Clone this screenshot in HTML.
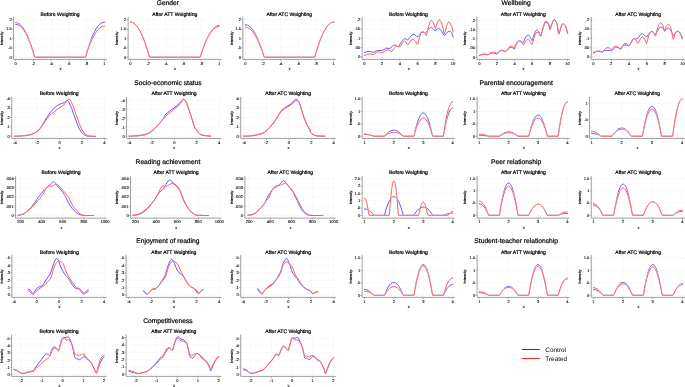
<!DOCTYPE html>
<html><head><meta charset="utf-8"><style>
html,body{margin:0;padding:0;background:#fff;width:685px;height:387px;overflow:hidden}
svg{display:block;will-change:transform}
text{font-family:"Liberation Sans",sans-serif;fill:#1a1a1a;text-rendering:geometricPrecision}
.g{stroke:#ebebeb;stroke-width:0.5;stroke-dasharray:1.4 0.9}
.ax{fill:none;stroke:#959595;stroke-width:0.9}
.tk{stroke:#959595;stroke-width:0.7}
.tl{font-size:4.1px;fill:#000;stroke:#000;stroke-width:0.1}
.xl{font-size:4.0px;fill:#000;stroke:#000;stroke-width:0.08}
.yl{font-size:3.7px;fill:#000;stroke:#000;stroke-width:0.15}
.st{font-size:5.1px;fill:#000;stroke:#000;stroke-width:0.22}
.gt{font-size:6.7px;fill:#000;stroke:#000;stroke-width:0.2}
.lg{font-size:6.4px;fill:#000}
.cv{stroke-width:0.8;stroke-linejoin:round;stroke-linecap:round}
.cvm{stroke-linejoin:round;stroke-linecap:round}
</style></head><body>
<svg width="685" height="387" viewBox="0 0 685 387">
<rect width="685" height="387" fill="#fff"/>
<line x1="14.18" y1="57.20" x2="106.60" y2="57.20" class="g"/>
<line x1="14.18" y1="47.83" x2="106.60" y2="47.83" class="g"/>
<line x1="14.18" y1="38.46" x2="106.60" y2="38.46" class="g"/>
<line x1="14.18" y1="29.09" x2="106.60" y2="29.09" class="g"/>
<line x1="14.18" y1="19.72" x2="106.60" y2="19.72" class="g"/>
<line x1="15.72" y1="16.90" x2="15.72" y2="58.80" class="g"/>
<line x1="33.46" y1="16.90" x2="33.46" y2="58.80" class="g"/>
<line x1="51.20" y1="16.90" x2="51.20" y2="58.80" class="g"/>
<line x1="68.94" y1="16.90" x2="68.94" y2="58.80" class="g"/>
<line x1="86.68" y1="16.90" x2="86.68" y2="58.80" class="g"/>
<line x1="104.42" y1="16.90" x2="104.42" y2="58.80" class="g"/>
<path d="M13.58,16.90 L13.58,59.40 L106.60,59.40" class="ax"/>
<line x1="11.98" y1="57.20" x2="13.58" y2="57.20" class="tk"/>
<text x="11.68" y="58.60" class="tl" text-anchor="end">0</text>
<line x1="11.98" y1="47.83" x2="13.58" y2="47.83" class="tk"/>
<text x="11.68" y="49.23" class="tl" text-anchor="end">.5</text>
<line x1="11.98" y1="38.46" x2="13.58" y2="38.46" class="tk"/>
<text x="11.68" y="39.86" class="tl" text-anchor="end">1</text>
<line x1="11.98" y1="29.09" x2="13.58" y2="29.09" class="tk"/>
<text x="11.68" y="30.49" class="tl" text-anchor="end">1.5</text>
<line x1="11.98" y1="19.72" x2="13.58" y2="19.72" class="tk"/>
<text x="11.68" y="21.12" class="tl" text-anchor="end">2</text>
<line x1="15.72" y1="59.40" x2="15.72" y2="61.00" class="tk"/>
<text x="15.72" y="64.50" class="tl" text-anchor="middle">0</text>
<line x1="33.46" y1="59.40" x2="33.46" y2="61.00" class="tk"/>
<text x="33.46" y="64.50" class="tl" text-anchor="middle">.2</text>
<line x1="51.20" y1="59.40" x2="51.20" y2="61.00" class="tk"/>
<text x="51.20" y="64.50" class="tl" text-anchor="middle">.4</text>
<line x1="68.94" y1="59.40" x2="68.94" y2="61.00" class="tk"/>
<text x="68.94" y="64.50" class="tl" text-anchor="middle">.6</text>
<line x1="86.68" y1="59.40" x2="86.68" y2="61.00" class="tk"/>
<text x="86.68" y="64.50" class="tl" text-anchor="middle">.8</text>
<line x1="104.42" y1="59.40" x2="104.42" y2="61.00" class="tk"/>
<text x="104.42" y="64.50" class="tl" text-anchor="middle">1</text>
<text x="60.39" y="69.90" class="xl" text-anchor="middle">x</text>
<text transform="translate(3.10,38.50) rotate(-90)" x="0" y="0" class="yl" text-anchor="middle">Intensity</text>
<text x="60.09" y="15.90" class="st" text-anchor="middle">Before Weighting</text>
<mask id="m1" maskUnits="userSpaceOnUse" x="0" y="0" width="685" height="387"><rect x="0" y="0" width="685" height="387" fill="#fff"/><path d="M15.7,22.6 L16.9,22.7 L18.1,23.1 L19.3,23.8 L20.5,24.8 L21.6,26.0 L22.8,27.4 L24.0,29.2 L25.2,31.2 L26.4,33.5 L27.5,36.0 L29.3,40.4 L30.5,43.6 L31.7,47.1 L32.9,50.8 L34.6,57.0 L35.2,57.2 L84.9,57.2 L85.5,57.0 L87.9,49.8 L89.0,46.5 L90.2,43.5 L91.4,40.8 L92.6,38.2 L93.8,36.0 L95.0,33.9 L96.1,32.1 L97.3,30.5 L98.5,29.2 L99.7,28.1 L100.9,27.3 L102.1,26.7 L103.2,26.3 L104.4,26.2" fill="none" stroke="#000" class="cvm" stroke-width="1.3"/></mask>
<path d="M15.7,24.3 L16.9,24.5 L18.1,24.8 L19.3,25.5 L20.5,26.4 L21.6,27.5 L22.8,28.9 L24.0,30.6 L25.2,32.5 L26.4,34.7 L27.5,37.1 L28.7,39.8 L29.9,42.7 L31.1,45.9 L32.3,49.3 L34.6,57.0 L35.2,57.2 L84.9,57.2 L85.5,57.0 L87.9,48.8 L89.0,45.2 L90.8,40.2 L92.6,35.8 L93.8,33.2 L95.0,30.9 L96.1,28.8 L97.3,27.1 L98.5,25.6 L99.7,24.3 L100.9,23.4 L102.1,22.7 L103.2,22.3 L104.4,22.2" fill="none" stroke="#3232ff" class="cv" mask="url(#m1)"/>
<path d="M15.7,22.6 L16.9,22.7 L18.1,23.1 L19.3,23.8 L20.5,24.8 L21.6,26.0 L22.8,27.4 L24.0,29.2 L25.2,31.2 L26.4,33.5 L27.5,36.0 L29.3,40.4 L30.5,43.6 L31.7,47.1 L32.9,50.8 L34.6,57.0 L35.2,57.2 L84.9,57.2 L85.5,57.0 L87.9,49.8 L89.0,46.5 L90.2,43.5 L91.4,40.8 L92.6,38.2 L93.8,36.0 L95.0,33.9 L96.1,32.1 L97.3,30.5 L98.5,29.2 L99.7,28.1 L100.9,27.3 L102.1,26.7 L103.2,26.3 L104.4,26.2" fill="none" stroke="#ff3232" class="cv"/>
<line x1="128.75" y1="57.20" x2="221.50" y2="57.20" class="g"/>
<line x1="128.75" y1="47.83" x2="221.50" y2="47.83" class="g"/>
<line x1="128.75" y1="38.46" x2="221.50" y2="38.46" class="g"/>
<line x1="128.75" y1="29.09" x2="221.50" y2="29.09" class="g"/>
<line x1="128.75" y1="19.72" x2="221.50" y2="19.72" class="g"/>
<line x1="130.44" y1="16.90" x2="130.44" y2="58.80" class="g"/>
<line x1="148.18" y1="16.90" x2="148.18" y2="58.80" class="g"/>
<line x1="165.92" y1="16.90" x2="165.92" y2="58.80" class="g"/>
<line x1="183.66" y1="16.90" x2="183.66" y2="58.80" class="g"/>
<line x1="201.39" y1="16.90" x2="201.39" y2="58.80" class="g"/>
<line x1="219.13" y1="16.90" x2="219.13" y2="58.80" class="g"/>
<path d="M128.15,16.90 L128.15,59.40 L221.50,59.40" class="ax"/>
<line x1="126.55" y1="57.20" x2="128.15" y2="57.20" class="tk"/>
<text x="126.25" y="58.60" class="tl" text-anchor="end">0</text>
<line x1="126.55" y1="47.83" x2="128.15" y2="47.83" class="tk"/>
<text x="126.25" y="49.23" class="tl" text-anchor="end">.5</text>
<line x1="126.55" y1="38.46" x2="128.15" y2="38.46" class="tk"/>
<text x="126.25" y="39.86" class="tl" text-anchor="end">1</text>
<line x1="126.55" y1="29.09" x2="128.15" y2="29.09" class="tk"/>
<text x="126.25" y="30.49" class="tl" text-anchor="end">1.5</text>
<line x1="126.55" y1="19.72" x2="128.15" y2="19.72" class="tk"/>
<text x="126.25" y="21.12" class="tl" text-anchor="end">2</text>
<line x1="130.44" y1="59.40" x2="130.44" y2="61.00" class="tk"/>
<text x="130.44" y="64.50" class="tl" text-anchor="middle">0</text>
<line x1="148.18" y1="59.40" x2="148.18" y2="61.00" class="tk"/>
<text x="148.18" y="64.50" class="tl" text-anchor="middle">.2</text>
<line x1="165.92" y1="59.40" x2="165.92" y2="61.00" class="tk"/>
<text x="165.92" y="64.50" class="tl" text-anchor="middle">.4</text>
<line x1="183.66" y1="59.40" x2="183.66" y2="61.00" class="tk"/>
<text x="183.66" y="64.50" class="tl" text-anchor="middle">.6</text>
<line x1="201.39" y1="59.40" x2="201.39" y2="61.00" class="tk"/>
<text x="201.39" y="64.50" class="tl" text-anchor="middle">.8</text>
<line x1="219.13" y1="59.40" x2="219.13" y2="61.00" class="tk"/>
<text x="219.13" y="64.50" class="tl" text-anchor="middle">1</text>
<text x="175.12" y="69.90" class="xl" text-anchor="middle">x</text>
<text transform="translate(117.60,38.50) rotate(-90)" x="0" y="0" class="yl" text-anchor="middle">Intensity</text>
<text x="174.82" y="15.90" class="st" text-anchor="middle">After ATT Weighting</text>
<mask id="m2" maskUnits="userSpaceOnUse" x="0" y="0" width="685" height="387"><rect x="0" y="0" width="685" height="387" fill="#fff"/><path d="M130.4,22.2 L131.6,22.3 L132.8,22.7 L134.0,23.4 L135.2,24.3 L136.3,25.6 L137.5,27.1 L138.7,28.8 L139.9,30.9 L141.1,33.2 L142.3,35.8 L144.0,40.2 L145.2,43.4 L146.4,47.0 L147.6,50.8 L149.4,57.0 L149.9,57.2 L199.6,57.2 L200.2,57.0 L202.6,49.9 L203.8,46.7 L204.9,43.7 L206.1,41.0 L207.3,38.5 L208.5,36.3 L209.7,34.2 L210.9,32.5 L212.0,30.9 L213.2,29.6 L214.4,28.6 L215.6,27.7 L216.8,27.1 L218.0,26.8 L219.1,26.7" fill="none" stroke="#000" class="cvm" stroke-width="1.3"/></mask>
<path d="M130.4,22.2 L131.6,22.3 L132.8,22.7 L134.0,23.4 L135.2,24.3 L136.3,25.6 L137.5,27.1 L138.7,28.8 L139.9,30.9 L141.1,33.2 L142.3,35.8 L144.0,40.2 L145.2,43.4 L146.4,47.0 L147.6,50.8 L149.4,57.0 L149.9,57.2 L199.6,57.2 L200.2,57.0 L202.6,49.6 L203.8,46.3 L204.9,43.2 L206.1,40.4 L207.3,37.8 L208.5,35.5 L209.7,33.4 L210.9,31.6 L212.0,30.0 L213.2,28.6 L214.4,27.5 L215.6,26.6 L216.8,26.0 L218.0,25.7 L219.1,25.5" fill="none" stroke="#3232ff" class="cv" mask="url(#m2)"/>
<path d="M130.4,22.2 L131.6,22.3 L132.8,22.7 L134.0,23.4 L135.2,24.3 L136.3,25.6 L137.5,27.1 L138.7,28.8 L139.9,30.9 L141.1,33.2 L142.3,35.8 L144.0,40.2 L145.2,43.4 L146.4,47.0 L147.6,50.8 L149.4,57.0 L149.9,57.2 L199.6,57.2 L200.2,57.0 L202.6,49.9 L203.8,46.7 L204.9,43.7 L206.1,41.0 L207.3,38.5 L208.5,36.3 L209.7,34.2 L210.9,32.5 L212.0,30.9 L213.2,29.6 L214.4,28.6 L215.6,27.7 L216.8,27.1 L218.0,26.8 L219.1,26.7" fill="none" stroke="#ff3232" class="cv"/>
<line x1="243.46" y1="57.20" x2="335.70" y2="57.20" class="g"/>
<line x1="243.46" y1="47.83" x2="335.70" y2="47.83" class="g"/>
<line x1="243.46" y1="38.46" x2="335.70" y2="38.46" class="g"/>
<line x1="243.46" y1="29.09" x2="335.70" y2="29.09" class="g"/>
<line x1="243.46" y1="19.72" x2="335.70" y2="19.72" class="g"/>
<line x1="245.29" y1="16.90" x2="245.29" y2="58.80" class="g"/>
<line x1="262.98" y1="16.90" x2="262.98" y2="58.80" class="g"/>
<line x1="280.66" y1="16.90" x2="280.66" y2="58.80" class="g"/>
<line x1="298.34" y1="16.90" x2="298.34" y2="58.80" class="g"/>
<line x1="316.02" y1="16.90" x2="316.02" y2="58.80" class="g"/>
<line x1="333.71" y1="16.90" x2="333.71" y2="58.80" class="g"/>
<path d="M242.86,16.90 L242.86,59.40 L335.70,59.40" class="ax"/>
<line x1="241.26" y1="57.20" x2="242.86" y2="57.20" class="tk"/>
<text x="240.96" y="58.60" class="tl" text-anchor="end">0</text>
<line x1="241.26" y1="47.83" x2="242.86" y2="47.83" class="tk"/>
<text x="240.96" y="49.23" class="tl" text-anchor="end">.5</text>
<line x1="241.26" y1="38.46" x2="242.86" y2="38.46" class="tk"/>
<text x="240.96" y="39.86" class="tl" text-anchor="end">1</text>
<line x1="241.26" y1="29.09" x2="242.86" y2="29.09" class="tk"/>
<text x="240.96" y="30.49" class="tl" text-anchor="end">1.5</text>
<line x1="241.26" y1="19.72" x2="242.86" y2="19.72" class="tk"/>
<text x="240.96" y="21.12" class="tl" text-anchor="end">2</text>
<line x1="245.29" y1="59.40" x2="245.29" y2="61.00" class="tk"/>
<text x="245.29" y="64.50" class="tl" text-anchor="middle">0</text>
<line x1="262.98" y1="59.40" x2="262.98" y2="61.00" class="tk"/>
<text x="262.98" y="64.50" class="tl" text-anchor="middle">.2</text>
<line x1="280.66" y1="59.40" x2="280.66" y2="61.00" class="tk"/>
<text x="280.66" y="64.50" class="tl" text-anchor="middle">.4</text>
<line x1="298.34" y1="59.40" x2="298.34" y2="61.00" class="tk"/>
<text x="298.34" y="64.50" class="tl" text-anchor="middle">.6</text>
<line x1="316.02" y1="59.40" x2="316.02" y2="61.00" class="tk"/>
<text x="316.02" y="64.50" class="tl" text-anchor="middle">.8</text>
<line x1="333.71" y1="59.40" x2="333.71" y2="61.00" class="tk"/>
<text x="333.71" y="64.50" class="tl" text-anchor="middle">1</text>
<text x="289.58" y="69.90" class="xl" text-anchor="middle">x</text>
<text transform="translate(232.50,38.50) rotate(-90)" x="0" y="0" class="yl" text-anchor="middle">Intensity</text>
<text x="289.28" y="15.90" class="st" text-anchor="middle">After ATC Weighting</text>
<mask id="m3" maskUnits="userSpaceOnUse" x="0" y="0" width="685" height="387"><rect x="0" y="0" width="685" height="387" fill="#fff"/><path d="M245.3,27.2 L246.5,27.3 L247.7,27.7 L248.8,28.3 L250.0,29.1 L251.2,30.1 L252.4,31.4 L253.5,32.9 L254.7,34.7 L255.9,36.6 L257.1,38.9 L258.3,41.3 L259.4,44.0 L260.6,46.9 L261.8,50.0 L264.2,57.0 L264.7,57.2 L314.3,57.2 L314.8,57.0 L316.6,50.8 L317.8,47.0 L319.0,43.4 L320.1,40.2 L321.3,37.2 L322.5,34.4 L324.3,30.9 L325.5,28.8 L326.6,27.1 L327.8,25.6 L329.0,24.3 L330.2,23.4 L331.3,22.7 L332.5,22.3 L333.7,22.2" fill="none" stroke="#000" class="cvm" stroke-width="1.3"/></mask>
<path d="M245.3,24.8 L246.5,24.9 L247.7,25.3 L248.8,25.9 L250.0,26.8 L251.2,27.9 L252.4,29.3 L253.5,30.9 L254.7,32.8 L255.9,35.0 L257.1,37.4 L258.3,40.0 L259.4,42.9 L260.6,46.1 L261.8,49.5 L264.2,57.0 L264.7,57.2 L314.3,57.2 L314.8,57.0 L316.6,50.8 L317.8,47.0 L319.0,43.4 L320.1,40.2 L321.3,37.2 L322.5,34.4 L324.3,30.9 L325.5,28.8 L326.6,27.1 L327.8,25.6 L329.0,24.3 L330.2,23.4 L331.3,22.7 L332.5,22.3 L333.7,22.2" fill="none" stroke="#3232ff" class="cv" mask="url(#m3)"/>
<path d="M245.3,27.2 L246.5,27.3 L247.7,27.7 L248.8,28.3 L250.0,29.1 L251.2,30.1 L252.4,31.4 L253.5,32.9 L254.7,34.7 L255.9,36.6 L257.1,38.9 L258.3,41.3 L259.4,44.0 L260.6,46.9 L261.8,50.0 L264.2,57.0 L264.7,57.2 L314.3,57.2 L314.8,57.0 L316.6,50.8 L317.8,47.0 L319.0,43.4 L320.1,40.2 L321.3,37.2 L322.5,34.4 L324.3,30.9 L325.5,28.8 L326.6,27.1 L327.8,25.6 L329.0,24.3 L330.2,23.4 L331.3,22.7 L332.5,22.3 L333.7,22.2" fill="none" stroke="#ff3232" class="cv"/>
<line x1="362.75" y1="56.92" x2="454.70" y2="56.92" class="g"/>
<line x1="362.75" y1="47.62" x2="454.70" y2="47.62" class="g"/>
<line x1="362.75" y1="38.32" x2="454.70" y2="38.32" class="g"/>
<line x1="362.75" y1="29.02" x2="454.70" y2="29.02" class="g"/>
<line x1="362.75" y1="19.72" x2="454.70" y2="19.72" class="g"/>
<line x1="364.44" y1="16.90" x2="364.44" y2="58.80" class="g"/>
<line x1="382.15" y1="16.90" x2="382.15" y2="58.80" class="g"/>
<line x1="399.86" y1="16.90" x2="399.86" y2="58.80" class="g"/>
<line x1="417.57" y1="16.90" x2="417.57" y2="58.80" class="g"/>
<line x1="435.28" y1="16.90" x2="435.28" y2="58.80" class="g"/>
<line x1="452.99" y1="16.90" x2="452.99" y2="58.80" class="g"/>
<path d="M362.15,16.90 L362.15,59.40 L454.70,59.40" class="ax"/>
<line x1="360.55" y1="56.92" x2="362.15" y2="56.92" class="tk"/>
<text x="360.25" y="58.32" class="tl" text-anchor="end">0</text>
<line x1="360.55" y1="47.62" x2="362.15" y2="47.62" class="tk"/>
<text x="360.25" y="49.02" class="tl" text-anchor="end">.05</text>
<line x1="360.55" y1="38.32" x2="362.15" y2="38.32" class="tk"/>
<text x="360.25" y="39.72" class="tl" text-anchor="end">.1</text>
<line x1="360.55" y1="29.02" x2="362.15" y2="29.02" class="tk"/>
<text x="360.25" y="30.42" class="tl" text-anchor="end">.15</text>
<line x1="360.55" y1="19.72" x2="362.15" y2="19.72" class="tk"/>
<text x="360.25" y="21.12" class="tl" text-anchor="end">.2</text>
<line x1="364.44" y1="59.40" x2="364.44" y2="61.00" class="tk"/>
<text x="364.44" y="64.50" class="tl" text-anchor="middle">0</text>
<line x1="382.15" y1="59.40" x2="382.15" y2="61.00" class="tk"/>
<text x="382.15" y="64.50" class="tl" text-anchor="middle">2</text>
<line x1="399.86" y1="59.40" x2="399.86" y2="61.00" class="tk"/>
<text x="399.86" y="64.50" class="tl" text-anchor="middle">4</text>
<line x1="417.57" y1="59.40" x2="417.57" y2="61.00" class="tk"/>
<text x="417.57" y="64.50" class="tl" text-anchor="middle">6</text>
<line x1="435.28" y1="59.40" x2="435.28" y2="61.00" class="tk"/>
<text x="435.28" y="64.50" class="tl" text-anchor="middle">8</text>
<line x1="452.99" y1="59.40" x2="452.99" y2="61.00" class="tk"/>
<text x="452.99" y="64.50" class="tl" text-anchor="middle">10</text>
<text x="408.72" y="69.90" class="xl" text-anchor="middle">x</text>
<text transform="translate(351.90,38.50) rotate(-90)" x="0" y="0" class="yl" text-anchor="middle">Intensity</text>
<text x="408.42" y="15.90" class="st" text-anchor="middle">Before Weighting</text>
<mask id="m4" maskUnits="userSpaceOnUse" x="0" y="0" width="685" height="387"><rect x="0" y="0" width="685" height="387" fill="#fff"/><path d="M364.4,55.5 C365.0,55.3 366.6,54.6 367.6,54.3 C368.6,54.1 369.5,53.7 370.4,53.8 C371.4,53.8 372.4,54.7 373.3,54.5 C374.3,54.3 375.2,53.1 376.2,52.6 C377.1,52.2 378.1,51.9 379.0,51.9 C380.0,52.0 380.9,53.1 381.9,52.9 C382.8,52.7 383.8,51.4 384.8,50.9 C385.7,50.4 386.7,49.8 387.6,49.8 C388.6,49.8 389.8,50.6 390.5,50.9 C391.2,51.2 391.3,51.9 391.9,51.5 C392.5,51.1 393.3,49.2 394.1,48.3 C394.8,47.5 395.4,46.4 396.2,46.2 C397.0,46.0 398.3,46.9 399.1,46.9 C399.8,46.9 399.9,46.9 400.5,46.2 C401.1,45.5 401.9,43.4 402.6,42.6 C403.3,41.8 403.9,40.8 404.8,41.2 C405.6,41.5 406.9,44.4 407.6,44.8 C408.4,45.1 408.5,44.1 409.1,43.3 C409.7,42.5 410.5,40.7 411.2,40.0 C411.9,39.4 412.6,39.3 413.4,39.5 C414.1,39.7 414.8,40.4 415.5,41.2 C416.2,42.0 417.1,44.7 417.7,44.3 C418.3,44.0 418.5,41.0 419.1,39.0 C419.7,37.1 420.5,33.8 421.2,32.6 C421.9,31.4 422.7,31.6 423.4,31.9 C424.1,32.1 425.0,33.4 425.5,34.0 C426.0,34.6 426.2,36.1 426.5,35.5 C426.9,34.9 427.1,32.6 427.7,30.5 C428.2,28.3 429.2,24.3 429.8,22.6 C430.4,20.9 430.6,20.4 431.2,20.4 C431.8,20.4 432.7,21.3 433.4,22.6 C434.1,23.9 434.9,28.2 435.5,28.3 C436.1,28.4 436.4,24.7 437.0,23.3 C437.6,21.9 438.4,19.8 439.1,19.7 C439.8,19.6 440.5,20.9 441.3,22.6 C442.0,24.3 442.9,27.8 443.4,29.7 C443.9,31.6 444.1,34.0 444.4,34.0 C444.8,34.0 445.0,31.5 445.6,29.7 C446.1,27.9 447.1,24.5 447.7,23.3 C448.3,22.1 448.7,22.2 449.1,22.3 C449.6,22.4 450.1,23.1 450.6,24.0 C451.0,24.9 451.6,26.3 452.0,27.6 C452.4,28.9 452.8,31.2 453.0,31.9" fill="none" stroke="#000" class="cvm" stroke-width="0.9"/></mask>
<path d="M364.4,52.6 C365.0,52.4 366.6,51.7 367.6,51.5 C368.6,51.3 369.5,51.3 370.4,51.5 C371.4,51.6 372.4,52.4 373.3,52.3 C374.3,52.2 375.2,51.2 376.2,50.9 C377.1,50.6 378.1,50.6 379.0,50.5 C380.0,50.4 380.9,50.7 381.9,50.5 C382.8,50.2 383.9,49.5 384.8,49.1 C385.6,48.6 386.2,48.1 386.9,48.0 C387.6,48.0 388.3,48.8 389.0,48.6 C389.8,48.5 390.4,47.8 391.2,47.2 C392.0,46.6 393.2,45.5 394.1,45.2 C394.9,44.9 395.5,45.2 396.2,45.5 C396.9,45.7 397.6,47.0 398.3,46.6 C399.1,46.3 399.8,44.4 400.5,43.3 C401.2,42.3 401.9,41.3 402.6,40.5 C403.3,39.7 403.9,38.7 404.8,38.6 C405.6,38.5 406.8,40.2 407.6,40.0 C408.5,39.9 409.1,38.4 409.8,37.6 C410.5,36.8 411.2,35.7 411.9,35.2 C412.6,34.6 413.4,34.1 414.1,34.3 C414.8,34.5 415.6,35.7 416.2,36.2 C416.8,36.6 417.2,37.0 417.7,36.9 C418.1,36.8 418.5,36.2 419.1,35.5 C419.7,34.7 420.5,33.1 421.2,32.6 C421.9,32.1 422.7,32.2 423.4,32.3 C424.1,32.4 424.8,33.6 425.5,33.3 C426.2,33.0 426.8,31.4 427.7,30.5 C428.5,29.5 429.7,27.9 430.5,27.6 C431.4,27.2 432.0,27.8 432.7,28.3 C433.4,28.8 434.1,30.2 434.8,30.5 C435.5,30.7 436.4,30.1 437.0,29.7 C437.6,29.4 437.8,28.3 438.4,28.3 C439.0,28.3 439.7,28.8 440.5,29.7 C441.4,30.7 442.7,33.1 443.4,34.0 C444.1,35.0 444.2,35.7 444.8,35.5 C445.4,35.2 446.3,33.3 447.0,32.6 C447.7,31.9 448.4,31.2 449.1,31.2 C449.8,31.1 450.6,31.4 451.3,32.3 C451.9,33.3 452.7,36.1 453.0,36.9" fill="none" stroke="#3232ff" class="cv" mask="url(#m4)"/>
<path d="M364.4,55.5 C365.0,55.3 366.6,54.6 367.6,54.3 C368.6,54.1 369.5,53.7 370.4,53.8 C371.4,53.8 372.4,54.7 373.3,54.5 C374.3,54.3 375.2,53.1 376.2,52.6 C377.1,52.2 378.1,51.9 379.0,51.9 C380.0,52.0 380.9,53.1 381.9,52.9 C382.8,52.7 383.8,51.4 384.8,50.9 C385.7,50.4 386.7,49.8 387.6,49.8 C388.6,49.8 389.8,50.6 390.5,50.9 C391.2,51.2 391.3,51.9 391.9,51.5 C392.5,51.1 393.3,49.2 394.1,48.3 C394.8,47.5 395.4,46.4 396.2,46.2 C397.0,46.0 398.3,46.9 399.1,46.9 C399.8,46.9 399.9,46.9 400.5,46.2 C401.1,45.5 401.9,43.4 402.6,42.6 C403.3,41.8 403.9,40.8 404.8,41.2 C405.6,41.5 406.9,44.4 407.6,44.8 C408.4,45.1 408.5,44.1 409.1,43.3 C409.7,42.5 410.5,40.7 411.2,40.0 C411.9,39.4 412.6,39.3 413.4,39.5 C414.1,39.7 414.8,40.4 415.5,41.2 C416.2,42.0 417.1,44.7 417.7,44.3 C418.3,44.0 418.5,41.0 419.1,39.0 C419.7,37.1 420.5,33.8 421.2,32.6 C421.9,31.4 422.7,31.6 423.4,31.9 C424.1,32.1 425.0,33.4 425.5,34.0 C426.0,34.6 426.2,36.1 426.5,35.5 C426.9,34.9 427.1,32.6 427.7,30.5 C428.2,28.3 429.2,24.3 429.8,22.6 C430.4,20.9 430.6,20.4 431.2,20.4 C431.8,20.4 432.7,21.3 433.4,22.6 C434.1,23.9 434.9,28.2 435.5,28.3 C436.1,28.4 436.4,24.7 437.0,23.3 C437.6,21.9 438.4,19.8 439.1,19.7 C439.8,19.6 440.5,20.9 441.3,22.6 C442.0,24.3 442.9,27.8 443.4,29.7 C443.9,31.6 444.1,34.0 444.4,34.0 C444.8,34.0 445.0,31.5 445.6,29.7 C446.1,27.9 447.1,24.5 447.7,23.3 C448.3,22.1 448.7,22.2 449.1,22.3 C449.6,22.4 450.1,23.1 450.6,24.0 C451.0,24.9 451.6,26.3 452.0,27.6 C452.4,28.9 452.8,31.2 453.0,31.9" fill="none" stroke="#ff3232" class="cv"/>
<line x1="477.46" y1="57.20" x2="569.70" y2="57.20" class="g"/>
<line x1="477.46" y1="47.94" x2="569.70" y2="47.94" class="g"/>
<line x1="477.46" y1="38.68" x2="569.70" y2="38.68" class="g"/>
<line x1="477.46" y1="29.41" x2="569.70" y2="29.41" class="g"/>
<line x1="477.46" y1="20.15" x2="569.70" y2="20.15" class="g"/>
<line x1="479.29" y1="16.90" x2="479.29" y2="58.80" class="g"/>
<line x1="496.92" y1="16.90" x2="496.92" y2="58.80" class="g"/>
<line x1="514.54" y1="16.90" x2="514.54" y2="58.80" class="g"/>
<line x1="532.17" y1="16.90" x2="532.17" y2="58.80" class="g"/>
<line x1="549.79" y1="16.90" x2="549.79" y2="58.80" class="g"/>
<line x1="567.42" y1="16.90" x2="567.42" y2="58.80" class="g"/>
<path d="M476.86,16.90 L476.86,59.40 L569.70,59.40" class="ax"/>
<line x1="475.26" y1="57.20" x2="476.86" y2="57.20" class="tk"/>
<text x="474.96" y="58.60" class="tl" text-anchor="end">0</text>
<line x1="475.26" y1="47.94" x2="476.86" y2="47.94" class="tk"/>
<text x="474.96" y="49.34" class="tl" text-anchor="end">.05</text>
<line x1="475.26" y1="38.68" x2="476.86" y2="38.68" class="tk"/>
<text x="474.96" y="40.08" class="tl" text-anchor="end">.1</text>
<line x1="475.26" y1="29.41" x2="476.86" y2="29.41" class="tk"/>
<text x="474.96" y="30.81" class="tl" text-anchor="end">.15</text>
<line x1="475.26" y1="20.15" x2="476.86" y2="20.15" class="tk"/>
<text x="474.96" y="21.55" class="tl" text-anchor="end">.2</text>
<line x1="479.29" y1="59.40" x2="479.29" y2="61.00" class="tk"/>
<text x="479.29" y="64.50" class="tl" text-anchor="middle">0</text>
<line x1="496.92" y1="59.40" x2="496.92" y2="61.00" class="tk"/>
<text x="496.92" y="64.50" class="tl" text-anchor="middle">2</text>
<line x1="514.54" y1="59.40" x2="514.54" y2="61.00" class="tk"/>
<text x="514.54" y="64.50" class="tl" text-anchor="middle">4</text>
<line x1="532.17" y1="59.40" x2="532.17" y2="61.00" class="tk"/>
<text x="532.17" y="64.50" class="tl" text-anchor="middle">6</text>
<line x1="549.79" y1="59.40" x2="549.79" y2="61.00" class="tk"/>
<text x="549.79" y="64.50" class="tl" text-anchor="middle">8</text>
<line x1="567.42" y1="59.40" x2="567.42" y2="61.00" class="tk"/>
<text x="567.42" y="64.50" class="tl" text-anchor="middle">10</text>
<text x="523.58" y="69.90" class="xl" text-anchor="middle">x</text>
<text transform="translate(466.40,38.50) rotate(-90)" x="0" y="0" class="yl" text-anchor="middle">Intensity</text>
<text x="523.28" y="15.90" class="st" text-anchor="middle">After ATT Weighting</text>
<mask id="m5" maskUnits="userSpaceOnUse" x="0" y="0" width="685" height="387"><rect x="0" y="0" width="685" height="387" fill="#fff"/><path d="M479.3,55.5 C479.6,55.4 480.4,55.0 481.2,54.8 C481.9,54.5 483.1,54.1 484.0,54.1 C485.0,54.0 486.2,54.3 486.9,54.3 C487.6,54.4 487.7,54.7 488.3,54.5 C488.9,54.2 489.6,53.3 490.5,52.9 C491.3,52.6 492.4,52.3 493.3,52.3 C494.3,52.3 495.6,52.7 496.2,52.9 C496.8,53.1 496.4,53.6 496.9,53.3 C497.4,53.1 498.2,52.0 499.0,51.5 C499.9,51.0 501.1,50.3 501.9,50.2 C502.7,50.1 503.4,50.6 504.0,50.8 C504.7,51.0 505.2,51.8 505.8,51.5 C506.4,51.2 507.0,49.9 507.6,49.1 C508.3,48.2 509.1,47.1 509.8,46.6 C510.5,46.1 511.2,46.0 511.9,46.2 C512.6,46.4 513.5,47.8 514.1,47.6 C514.7,47.5 514.9,46.1 515.5,45.2 C516.1,44.2 516.9,42.6 517.6,41.9 C518.3,41.2 519.1,40.8 519.8,40.9 C520.5,41.0 521.3,41.7 521.9,42.3 C522.5,43.0 522.9,44.8 523.4,44.8 C523.8,44.8 524.2,43.2 524.8,42.3 C525.4,41.5 526.2,40.1 526.9,39.8 C527.6,39.4 528.4,39.4 529.1,40.0 C529.8,40.6 530.7,42.6 531.2,43.3 C531.8,44.0 532.0,44.9 532.4,44.3 C532.7,43.7 532.8,41.5 533.4,39.8 C533.9,38.0 534.9,35.3 535.5,34.0 C536.1,32.8 536.4,32.4 536.9,32.3 C537.5,32.2 538.4,32.7 539.1,33.3 C539.7,34.0 540.3,36.4 540.8,36.2 C541.3,35.9 541.4,33.9 542.0,31.9 C542.5,29.9 543.4,25.9 544.1,24.0 C544.8,22.2 545.2,21.0 546.0,20.9 C546.7,20.7 547.7,21.9 548.4,23.3 C549.1,24.7 549.6,28.7 550.1,29.0 C550.6,29.4 550.7,26.9 551.3,25.4 C551.8,24.0 552.8,21.3 553.4,20.4 C554.0,19.5 554.2,19.4 554.8,20.0 C555.4,20.6 556.3,21.7 557.0,24.0 C557.6,26.4 558.2,33.3 558.8,34.0 C559.4,34.7 560.0,29.9 560.6,28.3 C561.1,26.8 561.5,25.5 562.0,24.7 C562.5,24.0 562.8,23.5 563.4,23.7 C564.0,24.0 564.8,24.6 565.6,26.2 C566.3,27.8 567.3,32.1 567.7,33.3" fill="none" stroke="#000" class="cvm" stroke-width="0.9"/></mask>
<path d="M479.3,55.5 C479.6,55.4 480.4,55.0 481.2,54.8 C481.9,54.5 483.1,54.1 484.0,54.1 C485.0,54.1 486.2,54.7 486.9,54.8 C487.6,54.9 487.7,55.0 488.3,54.8 C488.9,54.5 489.6,53.7 490.5,53.3 C491.3,53.0 492.4,52.8 493.3,52.9 C494.3,53.0 495.6,53.6 496.2,53.8 C496.8,54.0 496.4,54.4 496.9,54.1 C497.4,53.7 498.2,52.5 499.0,51.9 C499.9,51.3 501.1,50.6 501.9,50.5 C502.7,50.3 503.4,50.7 504.0,50.9 C504.7,51.1 505.2,51.7 505.8,51.5 C506.4,51.2 507.0,50.1 507.6,49.5 C508.3,48.8 509.1,48.0 509.8,47.6 C510.5,47.3 511.2,47.1 511.9,47.3 C512.6,47.6 513.5,49.2 514.1,49.1 C514.7,48.9 514.9,47.4 515.5,46.2 C516.1,45.0 516.9,42.7 517.6,41.9 C518.3,41.1 519.1,41.2 519.8,41.2 C520.5,41.2 521.3,41.7 521.9,41.9 C522.5,42.1 522.9,42.8 523.4,42.3 C523.8,41.8 524.2,40.2 524.8,39.0 C525.4,37.9 526.2,36.0 526.9,35.5 C527.6,34.9 528.4,35.1 529.1,35.7 C529.8,36.3 530.7,38.2 531.2,39.0 C531.8,39.8 532.0,40.8 532.4,40.5 C532.7,40.1 532.8,38.4 533.4,36.9 C533.9,35.3 534.9,32.2 535.5,31.2 C536.1,30.1 536.4,30.3 536.9,30.5 C537.5,30.6 538.4,31.4 539.1,32.3 C539.7,33.3 540.3,36.2 540.8,36.2 C541.3,36.1 541.4,33.7 542.0,31.9 C542.5,30.0 543.4,26.8 544.1,25.2 C544.8,23.6 545.2,22.4 546.0,22.3 C546.7,22.2 547.7,23.1 548.4,24.3 C549.1,25.5 549.6,29.3 550.1,29.5 C550.6,29.6 550.7,26.9 551.3,25.4 C551.8,23.9 552.8,21.3 553.4,20.4 C554.0,19.5 554.2,19.4 554.8,20.0 C555.4,20.6 556.3,21.7 557.0,24.0 C557.6,26.4 558.2,33.3 558.8,34.0 C559.4,34.7 560.0,29.9 560.6,28.3 C561.1,26.8 561.5,25.5 562.0,24.7 C562.5,24.0 562.8,23.5 563.4,23.7 C564.0,24.0 564.8,24.6 565.6,26.2 C566.3,27.8 567.3,32.1 567.7,33.3" fill="none" stroke="#3232ff" class="cv" mask="url(#m5)"/>
<path d="M479.3,55.5 C479.6,55.4 480.4,55.0 481.2,54.8 C481.9,54.5 483.1,54.1 484.0,54.1 C485.0,54.0 486.2,54.3 486.9,54.3 C487.6,54.4 487.7,54.7 488.3,54.5 C488.9,54.2 489.6,53.3 490.5,52.9 C491.3,52.6 492.4,52.3 493.3,52.3 C494.3,52.3 495.6,52.7 496.2,52.9 C496.8,53.1 496.4,53.6 496.9,53.3 C497.4,53.1 498.2,52.0 499.0,51.5 C499.9,51.0 501.1,50.3 501.9,50.2 C502.7,50.1 503.4,50.6 504.0,50.8 C504.7,51.0 505.2,51.8 505.8,51.5 C506.4,51.2 507.0,49.9 507.6,49.1 C508.3,48.2 509.1,47.1 509.8,46.6 C510.5,46.1 511.2,46.0 511.9,46.2 C512.6,46.4 513.5,47.8 514.1,47.6 C514.7,47.5 514.9,46.1 515.5,45.2 C516.1,44.2 516.9,42.6 517.6,41.9 C518.3,41.2 519.1,40.8 519.8,40.9 C520.5,41.0 521.3,41.7 521.9,42.3 C522.5,43.0 522.9,44.8 523.4,44.8 C523.8,44.8 524.2,43.2 524.8,42.3 C525.4,41.5 526.2,40.1 526.9,39.8 C527.6,39.4 528.4,39.4 529.1,40.0 C529.8,40.6 530.7,42.6 531.2,43.3 C531.8,44.0 532.0,44.9 532.4,44.3 C532.7,43.7 532.8,41.5 533.4,39.8 C533.9,38.0 534.9,35.3 535.5,34.0 C536.1,32.8 536.4,32.4 536.9,32.3 C537.5,32.2 538.4,32.7 539.1,33.3 C539.7,34.0 540.3,36.4 540.8,36.2 C541.3,35.9 541.4,33.9 542.0,31.9 C542.5,29.9 543.4,25.9 544.1,24.0 C544.8,22.2 545.2,21.0 546.0,20.9 C546.7,20.7 547.7,21.9 548.4,23.3 C549.1,24.7 549.6,28.7 550.1,29.0 C550.6,29.4 550.7,26.9 551.3,25.4 C551.8,24.0 552.8,21.3 553.4,20.4 C554.0,19.5 554.2,19.4 554.8,20.0 C555.4,20.6 556.3,21.7 557.0,24.0 C557.6,26.4 558.2,33.3 558.8,34.0 C559.4,34.7 560.0,29.9 560.6,28.3 C561.1,26.8 561.5,25.5 562.0,24.7 C562.5,24.0 562.8,23.5 563.4,23.7 C564.0,24.0 564.8,24.6 565.6,26.2 C566.3,27.8 567.3,32.1 567.7,33.3" fill="none" stroke="#ff3232" class="cv"/>
<line x1="591.89" y1="56.92" x2="685.00" y2="56.92" class="g"/>
<line x1="591.89" y1="47.62" x2="685.00" y2="47.62" class="g"/>
<line x1="591.89" y1="38.32" x2="685.00" y2="38.32" class="g"/>
<line x1="591.89" y1="29.02" x2="685.00" y2="29.02" class="g"/>
<line x1="591.89" y1="19.72" x2="685.00" y2="19.72" class="g"/>
<line x1="593.44" y1="16.90" x2="593.44" y2="58.80" class="g"/>
<line x1="611.23" y1="16.90" x2="611.23" y2="58.80" class="g"/>
<line x1="629.03" y1="16.90" x2="629.03" y2="58.80" class="g"/>
<line x1="646.83" y1="16.90" x2="646.83" y2="58.80" class="g"/>
<line x1="664.63" y1="16.90" x2="664.63" y2="58.80" class="g"/>
<line x1="682.42" y1="16.90" x2="682.42" y2="58.80" class="g"/>
<path d="M591.29,16.90 L591.29,59.40 L685.00,59.40" class="ax"/>
<line x1="589.69" y1="56.92" x2="591.29" y2="56.92" class="tk"/>
<text x="589.39" y="58.32" class="tl" text-anchor="end">0</text>
<line x1="589.69" y1="47.62" x2="591.29" y2="47.62" class="tk"/>
<text x="589.39" y="49.02" class="tl" text-anchor="end">.05</text>
<line x1="589.69" y1="38.32" x2="591.29" y2="38.32" class="tk"/>
<text x="589.39" y="39.72" class="tl" text-anchor="end">.1</text>
<line x1="589.69" y1="29.02" x2="591.29" y2="29.02" class="tk"/>
<text x="589.39" y="30.42" class="tl" text-anchor="end">.15</text>
<line x1="589.69" y1="19.72" x2="591.29" y2="19.72" class="tk"/>
<text x="589.39" y="21.12" class="tl" text-anchor="end">.2</text>
<line x1="593.44" y1="59.40" x2="593.44" y2="61.00" class="tk"/>
<text x="593.44" y="64.50" class="tl" text-anchor="middle">0</text>
<line x1="611.23" y1="59.40" x2="611.23" y2="61.00" class="tk"/>
<text x="611.23" y="64.50" class="tl" text-anchor="middle">2</text>
<line x1="629.03" y1="59.40" x2="629.03" y2="61.00" class="tk"/>
<text x="629.03" y="64.50" class="tl" text-anchor="middle">4</text>
<line x1="646.83" y1="59.40" x2="646.83" y2="61.00" class="tk"/>
<text x="646.83" y="64.50" class="tl" text-anchor="middle">6</text>
<line x1="664.63" y1="59.40" x2="664.63" y2="61.00" class="tk"/>
<text x="664.63" y="64.50" class="tl" text-anchor="middle">8</text>
<line x1="682.42" y1="59.40" x2="682.42" y2="61.00" class="tk"/>
<text x="682.42" y="64.50" class="tl" text-anchor="middle">10</text>
<text x="638.45" y="69.90" class="xl" text-anchor="middle">x</text>
<text transform="translate(580.80,38.50) rotate(-90)" x="0" y="0" class="yl" text-anchor="middle">Intensity</text>
<text x="638.15" y="15.90" class="st" text-anchor="middle">After ATC Weighting</text>
<mask id="m6" maskUnits="userSpaceOnUse" x="0" y="0" width="685" height="387"><rect x="0" y="0" width="685" height="387" fill="#fff"/><path d="M593.4,53.3 C593.8,53.1 594.7,52.3 595.6,51.9 C596.4,51.5 597.5,51.0 598.4,50.9 C599.4,50.8 600.6,51.3 601.3,51.5 C602.0,51.6 602.1,52.3 602.7,51.9 C603.3,51.5 604.0,49.8 604.9,49.1 C605.7,48.3 606.9,47.7 607.7,47.6 C608.6,47.5 609.3,48.0 609.9,48.3 C610.5,48.6 610.7,49.7 611.3,49.5 C611.9,49.3 612.8,47.7 613.5,47.2 C614.2,46.6 614.9,46.2 615.6,46.2 C616.3,46.1 616.9,46.4 617.8,46.9 C618.6,47.5 619.8,49.7 620.6,49.5 C621.5,49.2 622.1,46.5 622.8,45.5 C623.5,44.4 624.2,43.6 624.9,43.3 C625.6,43.1 626.3,43.7 627.1,44.0 C627.8,44.4 628.5,45.8 629.2,45.5 C629.9,45.1 630.6,43.0 631.3,41.9 C632.1,40.8 632.8,39.0 633.5,38.6 C634.2,38.2 634.9,39.0 635.6,39.8 C636.4,40.5 637.1,43.3 637.8,43.3 C638.5,43.3 639.2,40.8 639.9,39.8 C640.6,38.7 641.4,37.1 642.1,36.9 C642.8,36.7 643.5,37.2 644.2,38.3 C644.9,39.4 645.9,42.7 646.4,43.3 C646.8,43.9 646.6,43.4 647.1,41.9 C647.6,40.3 648.5,35.8 649.2,34.0 C649.9,32.3 650.7,31.7 651.4,31.5 C652.1,31.2 652.9,31.8 653.5,32.6 C654.2,33.4 654.9,36.2 655.4,36.2 C655.9,36.2 655.9,34.4 656.4,32.6 C656.9,30.8 657.8,27.1 658.5,25.4 C659.2,23.8 660.0,22.9 660.7,22.9 C661.4,22.9 662.2,24.1 662.8,25.4 C663.5,26.8 664.1,30.8 664.7,30.9 C665.3,31.0 665.8,27.2 666.4,26.2 C667.0,25.1 667.8,24.5 668.5,24.7 C669.3,25.0 670.0,25.4 670.7,27.6 C671.4,29.7 672.4,35.7 672.8,37.6 C673.3,39.5 673.2,39.6 673.6,39.0 C673.9,38.4 674.4,35.3 675.0,34.0 C675.6,32.8 676.4,31.7 677.1,31.5 C677.8,31.2 678.6,31.5 679.3,32.3 C680.0,33.1 680.9,35.1 681.4,36.2 C681.9,37.3 682.3,38.6 682.4,39.0" fill="none" stroke="#000" class="cvm" stroke-width="0.9"/></mask>
<path d="M593.4,52.6 C593.8,52.5 594.7,51.9 595.6,51.6 C596.4,51.4 597.5,51.1 598.4,51.2 C599.4,51.2 600.6,51.8 601.3,51.9 C602.0,52.0 602.1,52.1 602.7,51.9 C603.3,51.7 604.0,50.7 604.9,50.5 C605.7,50.2 606.9,50.5 607.7,50.5 C608.6,50.5 609.3,50.4 609.9,50.5 C610.5,50.6 610.7,51.1 611.3,50.9 C611.9,50.7 612.8,49.6 613.5,49.1 C614.2,48.5 614.9,47.6 615.6,47.3 C616.3,47.1 616.9,47.5 617.8,47.6 C618.6,47.8 619.8,48.6 620.6,48.3 C621.5,48.1 622.1,46.8 622.8,46.2 C623.5,45.6 624.2,44.9 624.9,44.8 C625.6,44.6 626.3,45.0 627.1,45.2 C627.8,45.4 628.5,46.2 629.2,45.8 C629.9,45.3 630.6,43.5 631.3,42.3 C632.1,41.1 632.8,39.2 633.5,38.6 C634.2,38.1 634.9,39.1 635.6,39.0 C636.4,39.0 637.1,38.9 637.8,38.3 C638.5,37.7 639.2,36.2 639.9,35.5 C640.6,34.7 641.4,33.8 642.1,33.7 C642.8,33.7 643.5,34.6 644.2,35.2 C644.9,35.7 645.9,36.7 646.4,36.9 C646.8,37.1 646.6,37.1 647.1,36.5 C647.6,35.9 648.5,34.1 649.2,33.3 C649.9,32.5 650.7,31.6 651.4,31.5 C652.1,31.3 652.9,31.9 653.5,32.3 C654.2,32.7 654.9,34.0 655.4,34.0 C655.9,34.1 655.9,33.4 656.4,32.6 C656.9,31.8 657.8,29.9 658.5,29.0 C659.2,28.1 660.0,27.3 660.7,27.2 C661.4,27.0 662.2,27.6 662.8,28.3 C663.5,29.0 664.1,31.0 664.7,31.2 C665.3,31.3 665.8,29.5 666.4,29.0 C667.0,28.5 667.8,28.1 668.5,28.3 C669.3,28.5 670.0,29.4 670.7,30.5 C671.4,31.5 672.4,33.9 672.8,34.7 C673.3,35.6 673.2,35.7 673.6,35.5 C673.9,35.2 674.4,34.0 675.0,33.3 C675.6,32.6 676.4,31.4 677.1,31.2 C677.8,30.9 678.6,31.2 679.3,31.9 C680.0,32.6 680.9,34.5 681.4,35.5 C681.9,36.4 682.3,37.2 682.4,37.6" fill="none" stroke="#3232ff" class="cv" mask="url(#m6)"/>
<path d="M593.4,53.3 C593.8,53.1 594.7,52.3 595.6,51.9 C596.4,51.5 597.5,51.0 598.4,50.9 C599.4,50.8 600.6,51.3 601.3,51.5 C602.0,51.6 602.1,52.3 602.7,51.9 C603.3,51.5 604.0,49.8 604.9,49.1 C605.7,48.3 606.9,47.7 607.7,47.6 C608.6,47.5 609.3,48.0 609.9,48.3 C610.5,48.6 610.7,49.7 611.3,49.5 C611.9,49.3 612.8,47.7 613.5,47.2 C614.2,46.6 614.9,46.2 615.6,46.2 C616.3,46.1 616.9,46.4 617.8,46.9 C618.6,47.5 619.8,49.7 620.6,49.5 C621.5,49.2 622.1,46.5 622.8,45.5 C623.5,44.4 624.2,43.6 624.9,43.3 C625.6,43.1 626.3,43.7 627.1,44.0 C627.8,44.4 628.5,45.8 629.2,45.5 C629.9,45.1 630.6,43.0 631.3,41.9 C632.1,40.8 632.8,39.0 633.5,38.6 C634.2,38.2 634.9,39.0 635.6,39.8 C636.4,40.5 637.1,43.3 637.8,43.3 C638.5,43.3 639.2,40.8 639.9,39.8 C640.6,38.7 641.4,37.1 642.1,36.9 C642.8,36.7 643.5,37.2 644.2,38.3 C644.9,39.4 645.9,42.7 646.4,43.3 C646.8,43.9 646.6,43.4 647.1,41.9 C647.6,40.3 648.5,35.8 649.2,34.0 C649.9,32.3 650.7,31.7 651.4,31.5 C652.1,31.2 652.9,31.8 653.5,32.6 C654.2,33.4 654.9,36.2 655.4,36.2 C655.9,36.2 655.9,34.4 656.4,32.6 C656.9,30.8 657.8,27.1 658.5,25.4 C659.2,23.8 660.0,22.9 660.7,22.9 C661.4,22.9 662.2,24.1 662.8,25.4 C663.5,26.8 664.1,30.8 664.7,30.9 C665.3,31.0 665.8,27.2 666.4,26.2 C667.0,25.1 667.8,24.5 668.5,24.7 C669.3,25.0 670.0,25.4 670.7,27.6 C671.4,29.7 672.4,35.7 672.8,37.6 C673.3,39.5 673.2,39.6 673.6,39.0 C673.9,38.4 674.4,35.3 675.0,34.0 C675.6,32.8 676.4,31.7 677.1,31.5 C677.8,31.2 678.6,31.5 679.3,32.3 C680.0,33.1 680.9,35.1 681.4,36.2 C681.9,37.3 682.3,38.6 682.4,39.0" fill="none" stroke="#ff3232" class="cv"/>
<line x1="12.32" y1="136.20" x2="106.60" y2="136.20" class="g"/>
<line x1="12.32" y1="126.83" x2="106.60" y2="126.83" class="g"/>
<line x1="12.32" y1="117.46" x2="106.60" y2="117.46" class="g"/>
<line x1="12.32" y1="108.09" x2="106.60" y2="108.09" class="g"/>
<line x1="12.32" y1="98.72" x2="106.60" y2="98.72" class="g"/>
<line x1="15.01" y1="96.80" x2="15.01" y2="137.80" class="g"/>
<line x1="37.36" y1="96.80" x2="37.36" y2="137.80" class="g"/>
<line x1="59.71" y1="96.80" x2="59.71" y2="137.80" class="g"/>
<line x1="82.07" y1="96.80" x2="82.07" y2="137.80" class="g"/>
<line x1="104.42" y1="96.80" x2="104.42" y2="137.80" class="g"/>
<path d="M11.72,96.80 L11.72,138.40 L106.60,138.40" class="ax"/>
<line x1="10.12" y1="136.20" x2="11.72" y2="136.20" class="tk"/>
<text x="9.82" y="137.60" class="tl" text-anchor="end">0</text>
<line x1="10.12" y1="126.83" x2="11.72" y2="126.83" class="tk"/>
<text x="9.82" y="128.23" class="tl" text-anchor="end">.1</text>
<line x1="10.12" y1="117.46" x2="11.72" y2="117.46" class="tk"/>
<text x="9.82" y="118.86" class="tl" text-anchor="end">.2</text>
<line x1="10.12" y1="108.09" x2="11.72" y2="108.09" class="tk"/>
<text x="9.82" y="109.49" class="tl" text-anchor="end">.3</text>
<line x1="10.12" y1="98.72" x2="11.72" y2="98.72" class="tk"/>
<text x="9.82" y="100.12" class="tl" text-anchor="end">.4</text>
<line x1="15.01" y1="138.40" x2="15.01" y2="140.00" class="tk"/>
<text x="15.01" y="143.50" class="tl" text-anchor="middle">-4</text>
<line x1="37.36" y1="138.40" x2="37.36" y2="140.00" class="tk"/>
<text x="37.36" y="143.50" class="tl" text-anchor="middle">-2</text>
<line x1="59.71" y1="138.40" x2="59.71" y2="140.00" class="tk"/>
<text x="59.71" y="143.50" class="tl" text-anchor="middle">0</text>
<line x1="82.07" y1="138.40" x2="82.07" y2="140.00" class="tk"/>
<text x="82.07" y="143.50" class="tl" text-anchor="middle">2</text>
<line x1="104.42" y1="138.40" x2="104.42" y2="140.00" class="tk"/>
<text x="104.42" y="143.50" class="tl" text-anchor="middle">4</text>
<text x="59.46" y="148.90" class="xl" text-anchor="middle">x</text>
<text transform="translate(3.10,117.95) rotate(-90)" x="0" y="0" class="yl" text-anchor="middle">Intensity</text>
<text x="59.16" y="95.30" class="st" text-anchor="middle">Before Weighting</text>
<mask id="m7" maskUnits="userSpaceOnUse" x="0" y="0" width="685" height="387"><rect x="0" y="0" width="685" height="387" fill="#fff"/><path d="M14.3,136.2 C15.5,136.2 19.3,136.1 21.4,135.9 C23.6,135.8 25.4,135.6 27.2,135.3 C28.9,135.1 30.6,134.8 32.1,134.3 C33.6,133.7 35.0,133.0 36.2,132.2 C37.4,131.4 38.3,130.7 39.3,129.6 C40.3,128.5 41.4,126.9 42.4,125.5 C43.4,124.0 44.5,122.3 45.5,120.8 C46.5,119.4 47.6,117.9 48.6,116.7 C49.6,115.5 50.7,114.5 51.7,113.6 C52.7,112.7 53.8,112.1 54.8,111.3 C55.8,110.5 56.9,109.7 57.9,108.9 C58.9,108.2 60.0,107.6 61.0,106.9 C62.0,106.2 63.2,105.7 64.1,104.8 C65.0,104.0 65.5,102.6 66.2,101.7 C66.8,100.8 67.6,99.7 68.2,99.3 C68.8,99.0 69.3,99.3 69.8,99.6 C70.3,100.0 71.0,101.1 71.3,101.7 C71.7,102.3 71.4,102.0 71.9,103.1 C72.3,104.2 73.3,106.4 73.9,108.3 C74.6,110.2 75.3,112.5 76.0,114.5 C76.7,116.4 77.4,118.3 78.1,120.1 C78.8,122.0 79.5,124.2 80.1,125.8 C80.8,127.5 81.4,128.7 82.2,130.0 C83.0,131.2 83.9,132.7 84.8,133.6 C85.7,134.5 86.3,135.0 87.4,135.4 C88.4,135.9 89.6,136.0 91.0,136.2 C92.4,136.3 94.9,136.3 95.6,136.4" fill="none" stroke="#000" class="cvm" stroke-width="0.9"/></mask>
<path d="M14.3,136.2 C15.5,136.2 19.3,136.1 21.4,135.9 C23.6,135.8 25.7,135.5 27.2,135.3 C28.6,135.2 28.8,135.1 30.0,134.8 C31.2,134.4 32.8,133.9 34.1,133.2 C35.5,132.5 37.1,131.8 38.3,130.6 C39.5,129.5 40.3,128.1 41.4,126.5 C42.4,125.0 43.4,123.1 44.5,121.3 C45.5,119.6 46.5,117.7 47.6,116.2 C48.6,114.6 49.6,113.3 50.7,112.0 C51.7,110.8 52.7,109.5 53.8,108.4 C54.8,107.4 55.8,106.6 56.9,105.8 C57.9,105.1 58.9,104.6 60.0,104.1 C61.0,103.6 62.1,103.5 63.1,103.1 C64.0,102.6 65.0,101.9 65.6,101.4 C66.3,101.0 66.7,100.3 67.2,100.4 C67.7,100.4 68.4,101.3 68.7,101.7 C69.1,102.2 68.9,102.1 69.3,103.1 C69.7,104.1 70.7,106.0 71.4,107.7 C72.1,109.5 72.7,111.5 73.4,113.4 C74.1,115.3 74.8,117.2 75.5,119.1 C76.2,121.0 76.9,123.1 77.6,124.8 C78.3,126.5 78.9,128.1 79.6,129.4 C80.4,130.8 81.3,132.1 82.2,133.1 C83.1,134.0 83.8,134.6 84.8,135.1 C85.7,135.6 86.1,136.0 87.9,136.2 C89.7,136.4 94.3,136.3 95.6,136.4" fill="none" stroke="#3232ff" class="cv" mask="url(#m7)"/>
<path d="M14.3,136.2 C15.5,136.2 19.3,136.1 21.4,135.9 C23.6,135.8 25.4,135.6 27.2,135.3 C28.9,135.1 30.6,134.8 32.1,134.3 C33.6,133.7 35.0,133.0 36.2,132.2 C37.4,131.4 38.3,130.7 39.3,129.6 C40.3,128.5 41.4,126.9 42.4,125.5 C43.4,124.0 44.5,122.3 45.5,120.8 C46.5,119.4 47.6,117.9 48.6,116.7 C49.6,115.5 50.7,114.5 51.7,113.6 C52.7,112.7 53.8,112.1 54.8,111.3 C55.8,110.5 56.9,109.7 57.9,108.9 C58.9,108.2 60.0,107.6 61.0,106.9 C62.0,106.2 63.2,105.7 64.1,104.8 C65.0,104.0 65.5,102.6 66.2,101.7 C66.8,100.8 67.6,99.7 68.2,99.3 C68.8,99.0 69.3,99.3 69.8,99.6 C70.3,100.0 71.0,101.1 71.3,101.7 C71.7,102.3 71.4,102.0 71.9,103.1 C72.3,104.2 73.3,106.4 73.9,108.3 C74.6,110.2 75.3,112.5 76.0,114.5 C76.7,116.4 77.4,118.3 78.1,120.1 C78.8,122.0 79.5,124.2 80.1,125.8 C80.8,127.5 81.4,128.7 82.2,130.0 C83.0,131.2 83.9,132.7 84.8,133.6 C85.7,134.5 86.3,135.0 87.4,135.4 C88.4,135.9 89.6,136.0 91.0,136.2 C92.4,136.3 94.9,136.3 95.6,136.4" fill="none" stroke="#ff3232" class="cv"/>
<line x1="127.18" y1="136.20" x2="221.50" y2="136.20" class="g"/>
<line x1="127.18" y1="127.19" x2="221.50" y2="127.19" class="g"/>
<line x1="127.18" y1="118.18" x2="221.50" y2="118.18" class="g"/>
<line x1="127.18" y1="109.17" x2="221.50" y2="109.17" class="g"/>
<line x1="127.18" y1="100.15" x2="221.50" y2="100.15" class="g"/>
<line x1="129.44" y1="96.80" x2="129.44" y2="137.80" class="g"/>
<line x1="151.86" y1="96.80" x2="151.86" y2="137.80" class="g"/>
<line x1="174.29" y1="96.80" x2="174.29" y2="137.80" class="g"/>
<line x1="196.71" y1="96.80" x2="196.71" y2="137.80" class="g"/>
<line x1="219.14" y1="96.80" x2="219.14" y2="137.80" class="g"/>
<path d="M126.58,96.80 L126.58,138.40 L221.50,138.40" class="ax"/>
<line x1="124.98" y1="136.20" x2="126.58" y2="136.20" class="tk"/>
<text x="124.68" y="137.60" class="tl" text-anchor="end">0</text>
<line x1="124.98" y1="127.19" x2="126.58" y2="127.19" class="tk"/>
<text x="124.68" y="128.59" class="tl" text-anchor="end">.1</text>
<line x1="124.98" y1="118.18" x2="126.58" y2="118.18" class="tk"/>
<text x="124.68" y="119.58" class="tl" text-anchor="end">.2</text>
<line x1="124.98" y1="109.17" x2="126.58" y2="109.17" class="tk"/>
<text x="124.68" y="110.57" class="tl" text-anchor="end">.3</text>
<line x1="124.98" y1="100.15" x2="126.58" y2="100.15" class="tk"/>
<text x="124.68" y="101.55" class="tl" text-anchor="end">.4</text>
<line x1="129.44" y1="138.40" x2="129.44" y2="140.00" class="tk"/>
<text x="129.44" y="143.50" class="tl" text-anchor="middle">-4</text>
<line x1="151.86" y1="138.40" x2="151.86" y2="140.00" class="tk"/>
<text x="151.86" y="143.50" class="tl" text-anchor="middle">-2</text>
<line x1="174.29" y1="138.40" x2="174.29" y2="140.00" class="tk"/>
<text x="174.29" y="143.50" class="tl" text-anchor="middle">0</text>
<line x1="196.71" y1="138.40" x2="196.71" y2="140.00" class="tk"/>
<text x="196.71" y="143.50" class="tl" text-anchor="middle">2</text>
<line x1="219.14" y1="138.40" x2="219.14" y2="140.00" class="tk"/>
<text x="219.14" y="143.50" class="tl" text-anchor="middle">4</text>
<text x="174.34" y="148.90" class="xl" text-anchor="middle">x</text>
<text transform="translate(117.60,117.95) rotate(-90)" x="0" y="0" class="yl" text-anchor="middle">Intensity</text>
<text x="174.04" y="95.30" class="st" text-anchor="middle">After ATT Weighting</text>
<mask id="m8" maskUnits="userSpaceOnUse" x="0" y="0" width="685" height="387"><rect x="0" y="0" width="685" height="387" fill="#fff"/><path d="M129.0,136.2 C130.1,136.2 133.4,136.1 135.4,135.9 C137.5,135.8 139.6,135.5 141.2,135.2 C142.8,134.9 143.8,134.6 145.0,134.3 C146.2,134.0 147.1,133.9 148.1,133.4 C149.1,132.9 150.2,132.2 151.2,131.4 C152.2,130.6 153.3,129.6 154.3,128.6 C155.3,127.6 156.4,126.6 157.4,125.5 C158.4,124.4 159.5,123.2 160.5,122.1 C161.5,120.9 162.8,119.4 163.6,118.6 C164.4,117.7 164.5,117.7 165.1,117.1 C165.7,116.4 166.4,115.5 167.2,114.8 C167.9,114.1 168.9,113.4 169.8,112.8 C170.6,112.1 171.5,111.6 172.3,111.0 C173.2,110.3 174.1,109.4 174.9,108.7 C175.8,108.0 176.6,107.4 177.5,106.6 C178.4,105.7 179.5,104.4 180.1,103.7 C180.7,103.1 180.7,103.4 181.2,102.7 C181.6,102.1 182.2,100.2 182.7,99.6 C183.2,99.1 183.7,99.4 184.3,99.6 C184.8,99.9 185.3,100.5 185.8,101.4 C186.3,102.3 186.8,103.5 187.4,104.8 C187.9,106.2 188.3,107.7 188.9,109.5 C189.5,111.3 190.3,113.6 191.0,115.7 C191.7,117.7 192.4,119.8 193.0,121.9 C193.7,123.9 194.3,126.6 195.0,128.1 C195.7,129.5 196.2,129.5 197.0,130.5 C197.8,131.5 198.9,133.4 199.8,134.2 C200.8,135.0 201.6,135.1 202.7,135.3 C203.8,135.6 204.9,135.8 206.3,135.9 C207.6,136.1 209.8,136.2 210.6,136.2" fill="none" stroke="#000" class="cvm" stroke-width="0.9"/></mask>
<path d="M129.0,136.2 C130.1,136.2 133.4,136.0 135.4,135.9 C137.5,135.8 139.6,135.7 141.2,135.5 C142.8,135.3 143.8,135.1 145.0,134.8 C146.2,134.5 147.1,134.3 148.1,133.7 C149.1,133.2 150.2,132.4 151.2,131.7 C152.2,130.9 153.3,130.0 154.3,129.1 C155.3,128.1 156.4,127.1 157.4,126.0 C158.4,124.9 159.5,123.7 160.5,122.4 C161.5,121.0 162.9,119.1 163.6,117.9 C164.3,116.8 164.0,116.3 164.6,115.5 C165.2,114.7 166.3,113.7 167.2,112.9 C168.0,112.2 168.9,111.6 169.8,111.0 C170.6,110.4 171.5,109.8 172.3,109.2 C173.2,108.6 174.1,108.1 174.9,107.4 C175.8,106.7 176.6,106.0 177.5,105.2 C178.4,104.3 179.5,102.8 180.1,102.2 C180.7,101.5 180.7,101.9 181.2,101.4 C181.6,100.9 182.3,99.7 182.7,99.3 C183.1,99.0 183.3,99.1 183.7,99.3 C184.2,99.6 184.8,99.9 185.3,100.7 C185.8,101.4 186.3,102.5 186.8,103.8 C187.4,105.1 187.8,106.7 188.4,108.4 C189.0,110.2 189.8,112.0 190.5,114.1 C191.1,116.2 191.8,118.7 192.5,120.8 C193.2,123.0 193.8,125.4 194.6,127.0 C195.3,128.6 196.1,129.4 197.0,130.5 C197.8,131.6 198.9,133.0 199.8,133.8 C200.8,134.6 201.6,134.9 202.7,135.2 C203.8,135.5 204.9,135.5 206.3,135.6 C207.6,135.8 209.8,135.9 210.6,135.9" fill="none" stroke="#3232ff" class="cv" mask="url(#m8)"/>
<path d="M129.0,136.2 C130.1,136.2 133.4,136.1 135.4,135.9 C137.5,135.8 139.6,135.5 141.2,135.2 C142.8,134.9 143.8,134.6 145.0,134.3 C146.2,134.0 147.1,133.9 148.1,133.4 C149.1,132.9 150.2,132.2 151.2,131.4 C152.2,130.6 153.3,129.6 154.3,128.6 C155.3,127.6 156.4,126.6 157.4,125.5 C158.4,124.4 159.5,123.2 160.5,122.1 C161.5,120.9 162.8,119.4 163.6,118.6 C164.4,117.7 164.5,117.7 165.1,117.1 C165.7,116.4 166.4,115.5 167.2,114.8 C167.9,114.1 168.9,113.4 169.8,112.8 C170.6,112.1 171.5,111.6 172.3,111.0 C173.2,110.3 174.1,109.4 174.9,108.7 C175.8,108.0 176.6,107.4 177.5,106.6 C178.4,105.7 179.5,104.4 180.1,103.7 C180.7,103.1 180.7,103.4 181.2,102.7 C181.6,102.1 182.2,100.2 182.7,99.6 C183.2,99.1 183.7,99.4 184.3,99.6 C184.8,99.9 185.3,100.5 185.8,101.4 C186.3,102.3 186.8,103.5 187.4,104.8 C187.9,106.2 188.3,107.7 188.9,109.5 C189.5,111.3 190.3,113.6 191.0,115.7 C191.7,117.7 192.4,119.8 193.0,121.9 C193.7,123.9 194.3,126.6 195.0,128.1 C195.7,129.5 196.2,129.5 197.0,130.5 C197.8,131.5 198.9,133.4 199.8,134.2 C200.8,135.0 201.6,135.1 202.7,135.3 C203.8,135.6 204.9,135.8 206.3,135.9 C207.6,136.1 209.8,136.2 210.6,136.2" fill="none" stroke="#ff3232" class="cv"/>
<line x1="241.32" y1="136.20" x2="335.70" y2="136.20" class="g"/>
<line x1="241.32" y1="126.83" x2="335.70" y2="126.83" class="g"/>
<line x1="241.32" y1="117.46" x2="335.70" y2="117.46" class="g"/>
<line x1="241.32" y1="108.09" x2="335.70" y2="108.09" class="g"/>
<line x1="241.32" y1="98.72" x2="335.70" y2="98.72" class="g"/>
<line x1="244.01" y1="96.80" x2="244.01" y2="137.80" class="g"/>
<line x1="266.43" y1="96.80" x2="266.43" y2="137.80" class="g"/>
<line x1="288.86" y1="96.80" x2="288.86" y2="137.80" class="g"/>
<line x1="311.28" y1="96.80" x2="311.28" y2="137.80" class="g"/>
<line x1="333.71" y1="96.80" x2="333.71" y2="137.80" class="g"/>
<path d="M240.72,96.80 L240.72,138.40 L335.70,138.40" class="ax"/>
<line x1="239.12" y1="136.20" x2="240.72" y2="136.20" class="tk"/>
<text x="238.82" y="137.60" class="tl" text-anchor="end">0</text>
<line x1="239.12" y1="126.83" x2="240.72" y2="126.83" class="tk"/>
<text x="238.82" y="128.23" class="tl" text-anchor="end">.1</text>
<line x1="239.12" y1="117.46" x2="240.72" y2="117.46" class="tk"/>
<text x="238.82" y="118.86" class="tl" text-anchor="end">.2</text>
<line x1="239.12" y1="108.09" x2="240.72" y2="108.09" class="tk"/>
<text x="238.82" y="109.49" class="tl" text-anchor="end">.3</text>
<line x1="239.12" y1="98.72" x2="240.72" y2="98.72" class="tk"/>
<text x="238.82" y="100.12" class="tl" text-anchor="end">.4</text>
<line x1="244.01" y1="138.40" x2="244.01" y2="140.00" class="tk"/>
<text x="244.01" y="143.50" class="tl" text-anchor="middle">-4</text>
<line x1="266.43" y1="138.40" x2="266.43" y2="140.00" class="tk"/>
<text x="266.43" y="143.50" class="tl" text-anchor="middle">-2</text>
<line x1="288.86" y1="138.40" x2="288.86" y2="140.00" class="tk"/>
<text x="288.86" y="143.50" class="tl" text-anchor="middle">0</text>
<line x1="311.28" y1="138.40" x2="311.28" y2="140.00" class="tk"/>
<text x="311.28" y="143.50" class="tl" text-anchor="middle">2</text>
<line x1="333.71" y1="138.40" x2="333.71" y2="140.00" class="tk"/>
<text x="333.71" y="143.50" class="tl" text-anchor="middle">4</text>
<text x="288.51" y="148.90" class="xl" text-anchor="middle">x</text>
<text transform="translate(232.50,117.95) rotate(-90)" x="0" y="0" class="yl" text-anchor="middle">Intensity</text>
<text x="288.21" y="95.30" class="st" text-anchor="middle">After ATC Weighting</text>
<mask id="m9" maskUnits="userSpaceOnUse" x="0" y="0" width="685" height="387"><rect x="0" y="0" width="685" height="387" fill="#fff"/><path d="M243.3,136.2 C244.5,136.2 248.3,136.1 250.4,135.9 C252.6,135.7 254.6,135.2 256.2,134.9 C257.8,134.6 258.8,134.5 260.0,134.3 C261.2,134.0 262.1,133.7 263.1,133.2 C264.1,132.7 265.0,132.2 266.2,131.2 C267.4,130.1 269.0,128.6 270.3,127.0 C271.7,125.5 273.3,123.5 274.5,121.9 C275.7,120.2 276.5,118.8 277.6,117.2 C278.6,115.6 279.6,113.3 280.7,112.0 C281.7,110.8 282.7,110.2 283.8,109.5 C284.8,108.7 285.7,108.2 286.9,107.4 C288.1,106.6 289.8,105.7 291.0,104.8 C292.2,104.0 293.1,102.9 294.1,102.2 C295.0,101.5 296.0,100.8 296.7,100.7 C297.4,100.5 297.7,100.8 298.2,101.4 C298.7,102.0 299.3,103.0 299.8,104.3 C300.3,105.6 300.8,107.3 301.3,108.9 C301.8,110.6 302.3,112.3 302.9,114.1 C303.5,115.9 304.2,117.9 304.9,119.8 C305.7,121.7 306.7,123.8 307.5,125.5 C308.4,127.1 309.5,128.5 310.0,129.6 C310.5,130.8 310.0,131.5 310.5,132.3 C311.1,133.2 312.3,134.2 313.4,134.8 C314.5,135.4 315.7,135.7 317.0,135.9 C318.3,136.1 319.9,136.0 321.3,136.1 C322.6,136.1 324.2,136.2 324.8,136.2" fill="none" stroke="#000" class="cvm" stroke-width="0.9"/></mask>
<path d="M243.3,136.2 C244.5,136.2 248.3,136.1 250.4,135.9 C252.6,135.8 254.6,135.5 256.2,135.2 C257.8,134.9 258.8,134.4 260.0,134.0 C261.2,133.7 262.1,133.6 263.1,133.0 C264.1,132.5 265.0,131.9 266.2,130.8 C267.4,129.8 269.0,128.1 270.3,126.5 C271.7,124.9 273.3,123.0 274.5,121.3 C275.7,119.7 276.5,118.3 277.6,116.7 C278.6,115.1 279.6,112.9 280.7,111.5 C281.7,110.2 282.7,109.3 283.8,108.4 C284.8,107.6 285.7,107.1 286.9,106.4 C288.1,105.6 289.8,104.7 291.0,103.8 C292.2,102.8 293.3,101.4 294.1,100.7 C294.9,99.9 295.3,99.4 296.0,99.3 C296.6,99.3 297.2,99.6 297.7,100.2 C298.3,100.7 298.7,101.5 299.3,102.7 C299.8,104.0 300.3,105.8 300.8,107.4 C301.3,109.0 301.8,110.7 302.4,112.6 C303.0,114.5 303.6,116.7 304.4,118.8 C305.2,120.8 306.1,123.1 307.0,125.0 C307.9,126.9 309.4,128.9 310.0,130.1 C310.6,131.4 310.0,131.6 310.5,132.3 C311.1,133.1 312.3,134.2 313.4,134.8 C314.5,135.4 315.7,135.7 317.0,135.9 C318.3,136.1 319.9,136.0 321.3,136.1 C322.6,136.1 324.2,136.2 324.8,136.2" fill="none" stroke="#3232ff" class="cv" mask="url(#m9)"/>
<path d="M243.3,136.2 C244.5,136.2 248.3,136.1 250.4,135.9 C252.6,135.7 254.6,135.2 256.2,134.9 C257.8,134.6 258.8,134.5 260.0,134.3 C261.2,134.0 262.1,133.7 263.1,133.2 C264.1,132.7 265.0,132.2 266.2,131.2 C267.4,130.1 269.0,128.6 270.3,127.0 C271.7,125.5 273.3,123.5 274.5,121.9 C275.7,120.2 276.5,118.8 277.6,117.2 C278.6,115.6 279.6,113.3 280.7,112.0 C281.7,110.8 282.7,110.2 283.8,109.5 C284.8,108.7 285.7,108.2 286.9,107.4 C288.1,106.6 289.8,105.7 291.0,104.8 C292.2,104.0 293.1,102.9 294.1,102.2 C295.0,101.5 296.0,100.8 296.7,100.7 C297.4,100.5 297.7,100.8 298.2,101.4 C298.7,102.0 299.3,103.0 299.8,104.3 C300.3,105.6 300.8,107.3 301.3,108.9 C301.8,110.6 302.3,112.3 302.9,114.1 C303.5,115.9 304.2,117.9 304.9,119.8 C305.7,121.7 306.7,123.8 307.5,125.5 C308.4,127.1 309.5,128.5 310.0,129.6 C310.5,130.8 310.0,131.5 310.5,132.3 C311.1,133.2 312.3,134.2 313.4,134.8 C314.5,135.4 315.7,135.7 317.0,135.9 C318.3,136.1 319.9,136.0 321.3,136.1 C322.6,136.1 324.2,136.2 324.8,136.2" fill="none" stroke="#ff3232" class="cv"/>
<line x1="362.75" y1="136.20" x2="454.70" y2="136.20" class="g"/>
<line x1="362.75" y1="123.81" x2="454.70" y2="123.81" class="g"/>
<line x1="362.75" y1="111.41" x2="454.70" y2="111.41" class="g"/>
<line x1="362.75" y1="99.01" x2="454.70" y2="99.01" class="g"/>
<line x1="364.44" y1="96.80" x2="364.44" y2="137.80" class="g"/>
<line x1="393.86" y1="96.80" x2="393.86" y2="137.80" class="g"/>
<line x1="423.28" y1="96.80" x2="423.28" y2="137.80" class="g"/>
<line x1="452.71" y1="96.80" x2="452.71" y2="137.80" class="g"/>
<path d="M362.15,96.80 L362.15,138.40 L454.70,138.40" class="ax"/>
<line x1="360.55" y1="136.20" x2="362.15" y2="136.20" class="tk"/>
<text x="360.25" y="137.60" class="tl" text-anchor="end">0</text>
<line x1="360.55" y1="123.81" x2="362.15" y2="123.81" class="tk"/>
<text x="360.25" y="125.21" class="tl" text-anchor="end">.5</text>
<line x1="360.55" y1="111.41" x2="362.15" y2="111.41" class="tk"/>
<text x="360.25" y="112.81" class="tl" text-anchor="end">1</text>
<line x1="360.55" y1="99.01" x2="362.15" y2="99.01" class="tk"/>
<text x="360.25" y="100.41" class="tl" text-anchor="end">1.5</text>
<line x1="364.44" y1="138.40" x2="364.44" y2="140.00" class="tk"/>
<text x="364.44" y="143.50" class="tl" text-anchor="middle">1</text>
<line x1="393.86" y1="138.40" x2="393.86" y2="140.00" class="tk"/>
<text x="393.86" y="143.50" class="tl" text-anchor="middle">2</text>
<line x1="423.28" y1="138.40" x2="423.28" y2="140.00" class="tk"/>
<text x="423.28" y="143.50" class="tl" text-anchor="middle">3</text>
<line x1="452.71" y1="138.40" x2="452.71" y2="140.00" class="tk"/>
<text x="452.71" y="143.50" class="tl" text-anchor="middle">4</text>
<text x="408.72" y="148.90" class="xl" text-anchor="middle">x</text>
<text transform="translate(351.90,117.95) rotate(-90)" x="0" y="0" class="yl" text-anchor="middle">Intensity</text>
<text x="408.42" y="95.30" class="st" text-anchor="middle">Before Weighting</text>
<mask id="m10" maskUnits="userSpaceOnUse" x="0" y="0" width="685" height="387"><rect x="0" y="0" width="685" height="387" fill="#fff"/><path d="M364.4,134.5 L366.8,134.6 L369.1,134.9 L371.5,135.5 L373.9,136.2 L384.4,136.2 L387.4,134.2 L388.6,133.6 L389.7,133.1 L390.9,132.7 L392.1,132.5 L393.3,132.4 L394.4,132.4 L395.6,132.5 L396.8,132.7 L398.6,133.3 L399.7,133.9 L400.9,134.6 L403.3,136.2 L413.9,136.2 L414.5,134.5 L415.0,132.4 L416.2,128.6 L417.4,125.4 L418.6,122.7 L419.8,120.7 L420.3,119.9 L420.9,119.2 L421.5,118.7 L422.1,118.3 L422.7,118.1 L423.3,118.0 L423.9,118.1 L424.5,118.3 L425.0,118.7 L425.6,119.2 L426.2,119.9 L426.8,120.7 L428.0,122.7 L429.2,125.4 L430.3,128.6 L430.9,130.4 L432.1,134.5 L432.7,136.2 L443.3,136.2 L443.9,133.0 L445.1,125.3 L445.6,121.8 L446.8,115.7 L448.0,110.7 L448.6,108.6 L449.2,106.8 L449.8,105.3 L450.4,104.1 L450.9,103.1 L451.5,102.4 L452.1,102.0 L452.7,101.9" fill="none" stroke="#000" class="cvm" stroke-width="1.3"/></mask>
<path d="M364.4,134.0 L366.8,134.2 L369.1,134.6 L371.5,135.3 L373.9,136.2 L384.4,136.2 L385.0,135.6 L386.2,134.3 L387.4,133.1 L388.6,132.2 L389.7,131.4 L390.9,130.8 L392.1,130.4 L393.3,130.2 L394.4,130.2 L395.6,130.4 L396.8,130.8 L398.0,131.4 L398.6,131.8 L399.7,132.6 L400.9,133.7 L402.7,135.6 L403.3,136.2 L413.9,136.2 L414.5,134.0 L415.0,131.3 L416.2,126.5 L417.4,122.4 L418.6,119.0 L419.8,116.4 L420.3,115.4 L420.9,114.5 L421.5,113.9 L422.1,113.4 L422.7,113.1 L423.3,113.0 L423.9,113.1 L424.5,113.4 L425.0,113.9 L425.6,114.5 L426.2,115.4 L426.8,116.4 L428.0,119.0 L429.2,122.4 L430.3,126.5 L430.9,128.8 L432.1,134.0 L432.7,136.2 L443.3,136.2 L443.9,133.6 L445.1,127.2 L445.6,124.4 L446.8,119.4 L448.0,115.3 L449.2,112.1 L449.8,110.9 L450.4,109.8 L450.9,109.0 L451.5,108.5 L452.1,108.1 L452.7,108.0" fill="none" stroke="#3232ff" class="cv" mask="url(#m10)"/>
<path d="M364.4,134.5 L366.8,134.6 L369.1,134.9 L371.5,135.5 L373.9,136.2 L384.4,136.2 L387.4,134.2 L388.6,133.6 L389.7,133.1 L390.9,132.7 L392.1,132.5 L393.3,132.4 L394.4,132.4 L395.6,132.5 L396.8,132.7 L398.6,133.3 L399.7,133.9 L400.9,134.6 L403.3,136.2 L413.9,136.2 L414.5,134.5 L415.0,132.4 L416.2,128.6 L417.4,125.4 L418.6,122.7 L419.8,120.7 L420.3,119.9 L420.9,119.2 L421.5,118.7 L422.1,118.3 L422.7,118.1 L423.3,118.0 L423.9,118.1 L424.5,118.3 L425.0,118.7 L425.6,119.2 L426.2,119.9 L426.8,120.7 L428.0,122.7 L429.2,125.4 L430.3,128.6 L430.9,130.4 L432.1,134.5 L432.7,136.2 L443.3,136.2 L443.9,133.0 L445.1,125.3 L445.6,121.8 L446.8,115.7 L448.0,110.7 L448.6,108.6 L449.2,106.8 L449.8,105.3 L450.4,104.1 L450.9,103.1 L451.5,102.4 L452.1,102.0 L452.7,101.9" fill="none" stroke="#ff3232" class="cv"/>
<line x1="477.75" y1="136.20" x2="569.70" y2="136.20" class="g"/>
<line x1="477.75" y1="123.81" x2="569.70" y2="123.81" class="g"/>
<line x1="477.75" y1="111.41" x2="569.70" y2="111.41" class="g"/>
<line x1="477.75" y1="99.01" x2="569.70" y2="99.01" class="g"/>
<line x1="479.29" y1="96.80" x2="479.29" y2="137.80" class="g"/>
<line x1="508.67" y1="96.80" x2="508.67" y2="137.80" class="g"/>
<line x1="538.04" y1="96.80" x2="538.04" y2="137.80" class="g"/>
<line x1="567.42" y1="96.80" x2="567.42" y2="137.80" class="g"/>
<path d="M477.15,96.80 L477.15,138.40 L569.70,138.40" class="ax"/>
<line x1="475.55" y1="136.20" x2="477.15" y2="136.20" class="tk"/>
<text x="475.25" y="137.60" class="tl" text-anchor="end">0</text>
<line x1="475.55" y1="123.81" x2="477.15" y2="123.81" class="tk"/>
<text x="475.25" y="125.21" class="tl" text-anchor="end">.5</text>
<line x1="475.55" y1="111.41" x2="477.15" y2="111.41" class="tk"/>
<text x="475.25" y="112.81" class="tl" text-anchor="end">1</text>
<line x1="475.55" y1="99.01" x2="477.15" y2="99.01" class="tk"/>
<text x="475.25" y="100.41" class="tl" text-anchor="end">1.5</text>
<line x1="479.29" y1="138.40" x2="479.29" y2="140.00" class="tk"/>
<text x="479.29" y="143.50" class="tl" text-anchor="middle">1</text>
<line x1="508.67" y1="138.40" x2="508.67" y2="140.00" class="tk"/>
<text x="508.67" y="143.50" class="tl" text-anchor="middle">2</text>
<line x1="538.04" y1="138.40" x2="538.04" y2="140.00" class="tk"/>
<text x="538.04" y="143.50" class="tl" text-anchor="middle">3</text>
<line x1="567.42" y1="138.40" x2="567.42" y2="140.00" class="tk"/>
<text x="567.42" y="143.50" class="tl" text-anchor="middle">4</text>
<text x="523.72" y="148.90" class="xl" text-anchor="middle">x</text>
<text transform="translate(466.40,117.95) rotate(-90)" x="0" y="0" class="yl" text-anchor="middle">Intensity</text>
<text x="523.42" y="95.30" class="st" text-anchor="middle">After ATT Weighting</text>
<mask id="m11" maskUnits="userSpaceOnUse" x="0" y="0" width="685" height="387"><rect x="0" y="0" width="685" height="387" fill="#fff"/><path d="M479.3,134.2 L481.6,134.3 L484.0,134.7 L486.3,135.4 L488.7,136.2 L499.3,136.2 L502.2,134.5 L503.4,133.9 L504.6,133.5 L505.7,133.1 L506.9,132.9 L508.1,132.8 L509.3,132.8 L510.4,132.9 L511.6,133.1 L513.4,133.7 L514.5,134.2 L515.7,134.8 L518.1,136.2 L528.6,136.2 L529.2,134.5 L529.8,132.4 L531.0,128.6 L532.2,125.4 L533.3,122.7 L534.5,120.7 L535.1,119.9 L535.7,119.2 L536.3,118.7 L536.9,118.3 L537.5,118.1 L538.0,118.0 L538.6,118.1 L539.2,118.3 L539.8,118.7 L540.4,119.2 L541.0,119.9 L541.6,120.7 L542.7,122.7 L543.9,125.4 L545.1,128.6 L546.3,132.4 L546.9,134.5 L547.4,136.2 L558.0,136.2 L558.6,133.0 L559.2,129.0 L560.4,121.8 L561.5,115.7 L562.7,110.7 L563.3,108.6 L563.9,106.8 L564.5,105.3 L565.1,104.1 L565.7,103.1 L566.2,102.4 L566.8,102.0 L567.4,101.9" fill="none" stroke="#000" class="cvm" stroke-width="1.3"/></mask>
<path d="M479.3,135.2 L481.6,135.3 L484.0,135.5 L486.3,135.8 L488.7,136.2 L499.3,136.2 L499.9,135.8 L501.6,134.4 L502.8,133.6 L504.0,133.0 L505.1,132.5 L506.3,132.2 L507.5,132.0 L508.7,131.9 L509.8,132.0 L511.0,132.2 L512.2,132.5 L513.4,133.0 L514.5,133.6 L515.7,134.4 L517.5,135.8 L518.1,136.2 L528.6,136.2 L529.2,134.2 L529.8,131.8 L531.0,127.4 L532.2,123.7 L533.3,120.6 L534.5,118.2 L535.1,117.3 L535.7,116.5 L536.3,115.9 L536.9,115.5 L537.5,115.3 L538.0,115.2 L538.6,115.3 L539.2,115.5 L539.8,115.9 L540.4,116.5 L541.0,117.3 L541.6,118.2 L542.7,120.6 L543.9,123.7 L545.1,127.4 L546.3,131.8 L546.9,134.2 L547.4,136.2 L558.0,136.2 L558.6,133.0 L559.2,129.0 L560.4,121.8 L561.5,115.7 L562.7,110.7 L563.3,108.6 L563.9,106.8 L564.5,105.3 L565.1,104.1 L565.7,103.1 L566.2,102.4 L566.8,102.0 L567.4,101.9" fill="none" stroke="#3232ff" class="cv" mask="url(#m11)"/>
<path d="M479.3,134.2 L481.6,134.3 L484.0,134.7 L486.3,135.4 L488.7,136.2 L499.3,136.2 L502.2,134.5 L503.4,133.9 L504.6,133.5 L505.7,133.1 L506.9,132.9 L508.1,132.8 L509.3,132.8 L510.4,132.9 L511.6,133.1 L513.4,133.7 L514.5,134.2 L515.7,134.8 L518.1,136.2 L528.6,136.2 L529.2,134.5 L529.8,132.4 L531.0,128.6 L532.2,125.4 L533.3,122.7 L534.5,120.7 L535.1,119.9 L535.7,119.2 L536.3,118.7 L536.9,118.3 L537.5,118.1 L538.0,118.0 L538.6,118.1 L539.2,118.3 L539.8,118.7 L540.4,119.2 L541.0,119.9 L541.6,120.7 L542.7,122.7 L543.9,125.4 L545.1,128.6 L546.3,132.4 L546.9,134.5 L547.4,136.2 L558.0,136.2 L558.6,133.0 L559.2,129.0 L560.4,121.8 L561.5,115.7 L562.7,110.7 L563.3,108.6 L563.9,106.8 L564.5,105.3 L565.1,104.1 L565.7,103.1 L566.2,102.4 L566.8,102.0 L567.4,101.9" fill="none" stroke="#ff3232" class="cv"/>
<line x1="590.18" y1="136.20" x2="685.00" y2="136.20" class="g"/>
<line x1="590.18" y1="119.75" x2="685.00" y2="119.75" class="g"/>
<line x1="590.18" y1="103.30" x2="685.00" y2="103.30" class="g"/>
<line x1="591.58" y1="96.80" x2="591.58" y2="137.80" class="g"/>
<line x1="621.76" y1="96.80" x2="621.76" y2="137.80" class="g"/>
<line x1="651.95" y1="96.80" x2="651.95" y2="137.80" class="g"/>
<line x1="682.14" y1="96.80" x2="682.14" y2="137.80" class="g"/>
<path d="M589.58,96.80 L589.58,138.40 L685.00,138.40" class="ax"/>
<line x1="587.98" y1="136.20" x2="589.58" y2="136.20" class="tk"/>
<text x="587.68" y="137.60" class="tl" text-anchor="end">0</text>
<line x1="587.98" y1="119.75" x2="589.58" y2="119.75" class="tk"/>
<text x="587.68" y="121.15" class="tl" text-anchor="end">.5</text>
<line x1="587.98" y1="103.30" x2="589.58" y2="103.30" class="tk"/>
<text x="587.68" y="104.70" class="tl" text-anchor="end">1</text>
<line x1="591.58" y1="138.40" x2="591.58" y2="140.00" class="tk"/>
<text x="591.58" y="143.50" class="tl" text-anchor="middle">1</text>
<line x1="621.76" y1="138.40" x2="621.76" y2="140.00" class="tk"/>
<text x="621.76" y="143.50" class="tl" text-anchor="middle">2</text>
<line x1="651.95" y1="138.40" x2="651.95" y2="140.00" class="tk"/>
<text x="651.95" y="143.50" class="tl" text-anchor="middle">3</text>
<line x1="682.14" y1="138.40" x2="682.14" y2="140.00" class="tk"/>
<text x="682.14" y="143.50" class="tl" text-anchor="middle">4</text>
<text x="637.59" y="148.90" class="xl" text-anchor="middle">x</text>
<text transform="translate(580.80,117.95) rotate(-90)" x="0" y="0" class="yl" text-anchor="middle">Intensity</text>
<text x="637.29" y="95.30" class="st" text-anchor="middle">After ATC Weighting</text>
<mask id="m12" maskUnits="userSpaceOnUse" x="0" y="0" width="685" height="387"><rect x="0" y="0" width="685" height="387" fill="#fff"/><path d="M591.6,131.3 L592.8,131.4 L594.0,131.6 L595.2,132.0 L596.4,132.6 L597.6,133.3 L598.8,134.2 L600.6,135.8 L601.2,136.2 L612.1,136.2 L612.7,135.5 L613.9,133.9 L615.1,132.5 L616.3,131.4 L617.5,130.5 L618.7,129.8 L620.0,129.3 L621.2,129.1 L622.4,129.1 L623.6,129.3 L624.8,129.8 L625.4,130.1 L626.6,130.9 L627.8,131.9 L629.0,133.2 L630.8,135.5 L631.4,136.2 L642.3,136.2 L642.9,133.7 L643.5,130.5 L644.7,124.8 L645.9,120.0 L647.1,116.0 L647.7,114.4 L648.3,113.0 L648.9,111.8 L649.5,110.8 L650.1,110.0 L650.7,109.5 L651.3,109.1 L651.9,109.0 L652.6,109.1 L653.2,109.5 L653.8,110.0 L654.4,110.8 L655.0,111.8 L655.6,113.0 L656.2,114.4 L656.8,116.0 L658.0,120.0 L659.2,124.8 L660.4,130.5 L661.0,133.7 L661.6,136.2 L672.5,136.2 L673.1,132.7 L674.3,124.4 L674.9,120.6 L676.1,114.0 L677.3,108.6 L677.9,106.4 L678.5,104.4 L679.1,102.8 L679.7,101.4 L680.3,100.4 L680.9,99.6 L681.5,99.2 L682.1,99.0" fill="none" stroke="#000" class="cvm" stroke-width="1.3"/></mask>
<path d="M591.6,133.3 L592.8,133.4 L594.0,133.5 L595.2,133.8 L596.4,134.1 L597.6,134.5 L598.8,135.0 L601.2,136.2 L612.1,136.2 L612.7,135.4 L613.9,133.6 L615.1,132.0 L616.3,130.7 L617.5,129.7 L618.7,128.9 L620.0,128.3 L621.2,128.1 L622.4,128.1 L623.6,128.3 L624.8,128.9 L625.4,129.2 L626.6,130.1 L627.8,131.3 L629.0,132.8 L630.8,135.4 L631.4,136.2 L642.3,136.2 L642.9,133.4 L643.5,129.9 L644.7,123.6 L645.9,118.3 L647.1,113.9 L647.7,112.1 L648.3,110.5 L648.9,109.2 L649.5,108.1 L650.1,107.3 L650.7,106.6 L651.3,106.3 L651.9,106.2 L652.6,106.3 L653.2,106.6 L653.8,107.3 L654.4,108.1 L655.0,109.2 L655.6,110.5 L656.2,112.1 L656.8,113.9 L658.0,118.3 L659.2,123.6 L660.4,129.9 L661.0,133.4 L661.6,136.2 L672.5,136.2 L673.1,132.7 L674.3,124.4 L674.9,120.6 L676.1,114.0 L677.3,108.6 L677.9,106.4 L678.5,104.4 L679.1,102.8 L679.7,101.4 L680.3,100.4 L680.9,99.6 L681.5,99.2 L682.1,99.0" fill="none" stroke="#3232ff" class="cv" mask="url(#m12)"/>
<path d="M591.6,131.3 L592.8,131.4 L594.0,131.6 L595.2,132.0 L596.4,132.6 L597.6,133.3 L598.8,134.2 L600.6,135.8 L601.2,136.2 L612.1,136.2 L612.7,135.5 L613.9,133.9 L615.1,132.5 L616.3,131.4 L617.5,130.5 L618.7,129.8 L620.0,129.3 L621.2,129.1 L622.4,129.1 L623.6,129.3 L624.8,129.8 L625.4,130.1 L626.6,130.9 L627.8,131.9 L629.0,133.2 L630.8,135.5 L631.4,136.2 L642.3,136.2 L642.9,133.7 L643.5,130.5 L644.7,124.8 L645.9,120.0 L647.1,116.0 L647.7,114.4 L648.3,113.0 L648.9,111.8 L649.5,110.8 L650.1,110.0 L650.7,109.5 L651.3,109.1 L651.9,109.0 L652.6,109.1 L653.2,109.5 L653.8,110.0 L654.4,110.8 L655.0,111.8 L655.6,113.0 L656.2,114.4 L656.8,116.0 L658.0,120.0 L659.2,124.8 L660.4,130.5 L661.0,133.7 L661.6,136.2 L672.5,136.2 L673.1,132.7 L674.3,124.4 L674.9,120.6 L676.1,114.0 L677.3,108.6 L677.9,106.4 L678.5,104.4 L679.1,102.8 L679.7,101.4 L680.3,100.4 L680.9,99.6 L681.5,99.2 L682.1,99.0" fill="none" stroke="#ff3232" class="cv"/>
<line x1="362.75" y1="215.35" x2="454.70" y2="215.35" class="g"/>
<line x1="362.75" y1="208.02" x2="454.70" y2="208.02" class="g"/>
<line x1="362.75" y1="200.70" x2="454.70" y2="200.70" class="g"/>
<line x1="362.75" y1="193.37" x2="454.70" y2="193.37" class="g"/>
<line x1="362.75" y1="186.05" x2="454.70" y2="186.05" class="g"/>
<line x1="362.75" y1="178.72" x2="454.70" y2="178.72" class="g"/>
<line x1="364.44" y1="176.10" x2="364.44" y2="217.50" class="g"/>
<line x1="393.86" y1="176.10" x2="393.86" y2="217.50" class="g"/>
<line x1="423.28" y1="176.10" x2="423.28" y2="217.50" class="g"/>
<line x1="452.71" y1="176.10" x2="452.71" y2="217.50" class="g"/>
<path d="M362.15,176.10 L362.15,218.10 L454.70,218.10" class="ax"/>
<line x1="360.55" y1="215.35" x2="362.15" y2="215.35" class="tk"/>
<text x="360.25" y="216.75" class="tl" text-anchor="end">0</text>
<line x1="360.55" y1="208.02" x2="362.15" y2="208.02" class="tk"/>
<text x="360.25" y="209.42" class="tl" text-anchor="end">.5</text>
<line x1="360.55" y1="200.70" x2="362.15" y2="200.70" class="tk"/>
<text x="360.25" y="202.10" class="tl" text-anchor="end">1</text>
<line x1="360.55" y1="193.37" x2="362.15" y2="193.37" class="tk"/>
<text x="360.25" y="194.77" class="tl" text-anchor="end">1.5</text>
<line x1="360.55" y1="186.05" x2="362.15" y2="186.05" class="tk"/>
<text x="360.25" y="187.45" class="tl" text-anchor="end">2</text>
<line x1="360.55" y1="178.72" x2="362.15" y2="178.72" class="tk"/>
<text x="360.25" y="180.12" class="tl" text-anchor="end">2.5</text>
<line x1="364.44" y1="218.10" x2="364.44" y2="219.70" class="tk"/>
<text x="364.44" y="223.20" class="tl" text-anchor="middle">1</text>
<line x1="393.86" y1="218.10" x2="393.86" y2="219.70" class="tk"/>
<text x="393.86" y="223.20" class="tl" text-anchor="middle">2</text>
<line x1="423.28" y1="218.10" x2="423.28" y2="219.70" class="tk"/>
<text x="423.28" y="223.20" class="tl" text-anchor="middle">3</text>
<line x1="452.71" y1="218.10" x2="452.71" y2="219.70" class="tk"/>
<text x="452.71" y="223.20" class="tl" text-anchor="middle">4</text>
<text x="408.72" y="228.60" class="xl" text-anchor="middle">x</text>
<text transform="translate(351.90,197.45) rotate(-90)" x="0" y="0" class="yl" text-anchor="middle">Intensity</text>
<text x="408.42" y="174.10" class="st" text-anchor="middle">Before Weighting</text>
<mask id="m13" maskUnits="userSpaceOnUse" x="0" y="0" width="685" height="387"><rect x="0" y="0" width="685" height="387" fill="#fff"/><path d="M364.4,198.1 L365.0,198.4 L365.6,199.3 L366.2,200.8 L366.8,203.0 L367.4,205.7 L368.0,209.1 L368.6,213.1 L369.1,215.3 L389.2,215.3 L389.7,210.9 L390.3,203.0 L390.9,196.2 L391.5,190.7 L392.1,186.4 L392.7,183.4 L393.3,181.5 L393.9,180.9 L394.4,181.5 L395.0,183.4 L395.6,186.4 L396.2,190.7 L396.8,196.2 L397.4,203.0 L398.0,210.9 L398.6,215.3 L418.6,215.3 L419.2,213.7 L419.8,210.7 L420.3,208.1 L420.9,206.0 L421.5,204.4 L422.1,203.2 L422.7,202.5 L423.3,202.3 L423.9,202.5 L424.5,203.2 L425.0,204.4 L425.6,206.0 L426.2,208.1 L426.8,210.7 L427.4,213.7 L428.0,215.3 L448.0,215.3 L448.6,214.9 L449.8,213.3 L450.4,212.7 L450.9,212.2 L451.5,211.9 L452.1,211.7 L452.7,211.6" fill="none" stroke="#000" class="cvm" stroke-width="1.3"/></mask>
<path d="M364.4,209.0 L365.6,209.1 L366.8,209.4 L368.0,209.9 L369.1,210.6 L370.3,211.5 L371.5,212.6 L372.7,213.9 L373.9,215.3 L384.4,215.3 L385.6,211.0 L386.8,207.1 L388.0,203.9 L389.2,201.3 L390.3,199.2 L390.9,198.4 L391.5,197.8 L392.1,197.3 L392.7,196.9 L393.3,196.7 L393.9,196.6 L394.4,196.7 L395.0,196.9 L395.6,197.3 L396.2,197.8 L396.8,198.4 L397.4,199.2 L398.6,201.3 L399.7,203.9 L400.9,207.1 L402.1,211.0 L403.3,215.3 L413.9,215.3 L415.0,213.4 L416.2,211.7 L417.4,210.3 L418.6,209.1 L419.8,208.2 L420.9,207.6 L422.1,207.2 L423.3,207.1 L424.5,207.2 L425.6,207.6 L426.8,208.2 L428.0,209.1 L429.2,210.3 L430.3,211.7 L431.5,213.4 L432.7,215.3 L443.3,215.3 L445.6,214.3 L448.0,213.6 L450.4,213.2 L452.7,213.1" fill="none" stroke="#3232ff" class="cv" mask="url(#m13)"/>
<path d="M364.4,198.1 L365.0,198.4 L365.6,199.3 L366.2,200.8 L366.8,203.0 L367.4,205.7 L368.0,209.1 L368.6,213.1 L369.1,215.3 L389.2,215.3 L389.7,210.9 L390.3,203.0 L390.9,196.2 L391.5,190.7 L392.1,186.4 L392.7,183.4 L393.3,181.5 L393.9,180.9 L394.4,181.5 L395.0,183.4 L395.6,186.4 L396.2,190.7 L396.8,196.2 L397.4,203.0 L398.0,210.9 L398.6,215.3 L418.6,215.3 L419.2,213.7 L419.8,210.7 L420.3,208.1 L420.9,206.0 L421.5,204.4 L422.1,203.2 L422.7,202.5 L423.3,202.3 L423.9,202.5 L424.5,203.2 L425.0,204.4 L425.6,206.0 L426.2,208.1 L426.8,210.7 L427.4,213.7 L428.0,215.3 L448.0,215.3 L448.6,214.9 L449.8,213.3 L450.4,212.7 L450.9,212.2 L451.5,211.9 L452.1,211.7 L452.7,211.6" fill="none" stroke="#ff3232" class="cv"/>
<line x1="477.75" y1="215.35" x2="569.70" y2="215.35" class="g"/>
<line x1="477.75" y1="203.04" x2="569.70" y2="203.04" class="g"/>
<line x1="477.75" y1="190.74" x2="569.70" y2="190.74" class="g"/>
<line x1="477.75" y1="178.44" x2="569.70" y2="178.44" class="g"/>
<line x1="479.29" y1="176.10" x2="479.29" y2="217.50" class="g"/>
<line x1="508.67" y1="176.10" x2="508.67" y2="217.50" class="g"/>
<line x1="538.04" y1="176.10" x2="538.04" y2="217.50" class="g"/>
<line x1="567.42" y1="176.10" x2="567.42" y2="217.50" class="g"/>
<path d="M477.15,176.10 L477.15,218.10 L569.70,218.10" class="ax"/>
<line x1="475.55" y1="215.35" x2="477.15" y2="215.35" class="tk"/>
<text x="475.25" y="216.75" class="tl" text-anchor="end">0</text>
<line x1="475.55" y1="203.04" x2="477.15" y2="203.04" class="tk"/>
<text x="475.25" y="204.44" class="tl" text-anchor="end">.5</text>
<line x1="475.55" y1="190.74" x2="477.15" y2="190.74" class="tk"/>
<text x="475.25" y="192.14" class="tl" text-anchor="end">1</text>
<line x1="475.55" y1="178.44" x2="477.15" y2="178.44" class="tk"/>
<text x="475.25" y="179.84" class="tl" text-anchor="end">1.5</text>
<line x1="479.29" y1="218.10" x2="479.29" y2="219.70" class="tk"/>
<text x="479.29" y="223.20" class="tl" text-anchor="middle">1</text>
<line x1="508.67" y1="218.10" x2="508.67" y2="219.70" class="tk"/>
<text x="508.67" y="223.20" class="tl" text-anchor="middle">2</text>
<line x1="538.04" y1="218.10" x2="538.04" y2="219.70" class="tk"/>
<text x="538.04" y="223.20" class="tl" text-anchor="middle">3</text>
<line x1="567.42" y1="218.10" x2="567.42" y2="219.70" class="tk"/>
<text x="567.42" y="223.20" class="tl" text-anchor="middle">4</text>
<text x="523.72" y="228.60" class="xl" text-anchor="middle">x</text>
<text transform="translate(466.40,197.45) rotate(-90)" x="0" y="0" class="yl" text-anchor="middle">Intensity</text>
<text x="523.42" y="174.10" class="st" text-anchor="middle">After ATT Weighting</text>
<mask id="m14" maskUnits="userSpaceOnUse" x="0" y="0" width="685" height="387"><rect x="0" y="0" width="685" height="387" fill="#fff"/><path d="M479.3,201.2 L479.9,201.2 L480.5,201.4 L481.1,201.7 L481.6,202.1 L482.2,202.6 L482.8,203.2 L484.0,204.8 L485.2,206.9 L486.3,209.4 L487.5,212.4 L488.1,214.0 L488.7,215.3 L499.3,215.3 L499.9,212.6 L500.4,209.2 L501.6,203.1 L502.8,197.9 L504.0,193.7 L505.1,190.4 L505.7,189.1 L506.3,188.0 L506.9,187.2 L507.5,186.6 L508.1,186.3 L508.7,186.2 L509.3,186.3 L509.8,186.6 L510.4,187.2 L511.0,188.0 L511.6,189.1 L512.2,190.4 L513.4,193.7 L514.5,197.9 L515.7,203.1 L516.3,206.0 L517.5,212.6 L518.1,215.3 L528.6,215.3 L529.2,214.3 L531.0,210.7 L532.2,208.7 L533.3,207.1 L534.5,205.8 L535.7,204.9 L536.3,204.6 L536.9,204.4 L537.5,204.2 L538.0,204.2 L538.6,204.2 L539.2,204.4 L539.8,204.6 L540.4,204.9 L541.6,205.8 L542.7,207.1 L543.9,208.7 L545.1,210.7 L546.9,214.3 L547.4,215.3 L558.0,215.3 L560.4,213.9 L561.5,213.3 L562.7,212.8 L563.9,212.4 L565.1,212.1 L566.2,212.0 L567.4,211.9" fill="none" stroke="#000" class="cvm" stroke-width="1.3"/></mask>
<path d="M479.3,203.8 L479.9,203.8 L480.5,204.0 L481.1,204.2 L481.6,204.5 L482.8,205.5 L484.0,206.8 L485.2,208.4 L486.3,210.5 L488.1,214.3 L488.7,215.3 L499.3,215.3 L499.9,212.3 L501.0,205.0 L501.6,201.8 L502.8,196.0 L504.0,191.4 L505.1,187.7 L505.7,186.3 L506.3,185.1 L506.9,184.2 L507.5,183.5 L508.1,183.1 L508.7,183.0 L509.3,183.1 L509.8,183.5 L510.4,184.2 L511.0,185.1 L511.6,186.3 L512.2,187.7 L513.4,191.4 L514.5,196.0 L515.7,201.8 L516.3,205.0 L517.5,212.3 L518.1,215.3 L528.6,215.3 L529.2,214.3 L531.0,210.7 L532.2,208.7 L533.3,207.1 L534.5,205.8 L535.7,204.9 L536.3,204.6 L536.9,204.4 L537.5,204.2 L538.0,204.2 L538.6,204.2 L539.2,204.4 L539.8,204.6 L540.4,204.9 L541.6,205.8 L542.7,207.1 L543.9,208.7 L545.1,210.7 L546.9,214.3 L547.4,215.3 L558.0,215.3 L560.4,214.5 L562.7,213.9 L565.1,213.5 L567.4,213.4" fill="none" stroke="#3232ff" class="cv" mask="url(#m14)"/>
<path d="M479.3,201.2 L479.9,201.2 L480.5,201.4 L481.1,201.7 L481.6,202.1 L482.2,202.6 L482.8,203.2 L484.0,204.8 L485.2,206.9 L486.3,209.4 L487.5,212.4 L488.1,214.0 L488.7,215.3 L499.3,215.3 L499.9,212.6 L500.4,209.2 L501.6,203.1 L502.8,197.9 L504.0,193.7 L505.1,190.4 L505.7,189.1 L506.3,188.0 L506.9,187.2 L507.5,186.6 L508.1,186.3 L508.7,186.2 L509.3,186.3 L509.8,186.6 L510.4,187.2 L511.0,188.0 L511.6,189.1 L512.2,190.4 L513.4,193.7 L514.5,197.9 L515.7,203.1 L516.3,206.0 L517.5,212.6 L518.1,215.3 L528.6,215.3 L529.2,214.3 L531.0,210.7 L532.2,208.7 L533.3,207.1 L534.5,205.8 L535.7,204.9 L536.3,204.6 L536.9,204.4 L537.5,204.2 L538.0,204.2 L538.6,204.2 L539.2,204.4 L539.8,204.6 L540.4,204.9 L541.6,205.8 L542.7,207.1 L543.9,208.7 L545.1,210.7 L546.9,214.3 L547.4,215.3 L558.0,215.3 L560.4,213.9 L561.5,213.3 L562.7,212.8 L563.9,212.4 L565.1,212.1 L566.2,212.0 L567.4,211.9" fill="none" stroke="#ff3232" class="cv"/>
<line x1="591.89" y1="215.35" x2="685.00" y2="215.35" class="g"/>
<line x1="591.89" y1="203.04" x2="685.00" y2="203.04" class="g"/>
<line x1="591.89" y1="190.74" x2="685.00" y2="190.74" class="g"/>
<line x1="591.89" y1="178.44" x2="685.00" y2="178.44" class="g"/>
<line x1="593.44" y1="176.10" x2="593.44" y2="217.50" class="g"/>
<line x1="623.10" y1="176.10" x2="623.10" y2="217.50" class="g"/>
<line x1="652.76" y1="176.10" x2="652.76" y2="217.50" class="g"/>
<line x1="682.42" y1="176.10" x2="682.42" y2="217.50" class="g"/>
<path d="M591.29,176.10 L591.29,218.10 L685.00,218.10" class="ax"/>
<line x1="589.69" y1="215.35" x2="591.29" y2="215.35" class="tk"/>
<text x="589.39" y="216.75" class="tl" text-anchor="end">0</text>
<line x1="589.69" y1="203.04" x2="591.29" y2="203.04" class="tk"/>
<text x="589.39" y="204.44" class="tl" text-anchor="end">.5</text>
<line x1="589.69" y1="190.74" x2="591.29" y2="190.74" class="tk"/>
<text x="589.39" y="192.14" class="tl" text-anchor="end">1</text>
<line x1="589.69" y1="178.44" x2="591.29" y2="178.44" class="tk"/>
<text x="589.39" y="179.84" class="tl" text-anchor="end">1.5</text>
<line x1="593.44" y1="218.10" x2="593.44" y2="219.70" class="tk"/>
<text x="593.44" y="223.20" class="tl" text-anchor="middle">1</text>
<line x1="623.10" y1="218.10" x2="623.10" y2="219.70" class="tk"/>
<text x="623.10" y="223.20" class="tl" text-anchor="middle">2</text>
<line x1="652.76" y1="218.10" x2="652.76" y2="219.70" class="tk"/>
<text x="652.76" y="223.20" class="tl" text-anchor="middle">3</text>
<line x1="682.42" y1="218.10" x2="682.42" y2="219.70" class="tk"/>
<text x="682.42" y="223.20" class="tl" text-anchor="middle">4</text>
<text x="638.45" y="228.60" class="xl" text-anchor="middle">x</text>
<text transform="translate(580.80,197.45) rotate(-90)" x="0" y="0" class="yl" text-anchor="middle">Intensity</text>
<text x="638.15" y="174.10" class="st" text-anchor="middle">After ATC Weighting</text>
<mask id="m15" maskUnits="userSpaceOnUse" x="0" y="0" width="685" height="387"><rect x="0" y="0" width="685" height="387" fill="#fff"/><path d="M593.4,203.8 L594.0,203.8 L594.6,203.9 L595.2,204.2 L595.8,204.5 L597.0,205.4 L598.2,206.7 L599.4,208.4 L600.6,210.5 L602.3,214.3 L602.9,215.3 L613.6,215.3 L614.2,212.8 L615.4,206.6 L616.0,203.9 L617.2,199.0 L618.4,195.1 L619.5,192.0 L620.1,190.8 L620.7,189.8 L621.3,189.0 L621.9,188.5 L622.5,188.1 L623.1,188.0 L623.7,188.1 L624.3,188.5 L624.9,189.0 L625.5,189.8 L626.1,190.8 L626.7,192.0 L627.8,195.1 L629.0,199.0 L630.2,203.9 L630.8,206.6 L632.0,212.8 L632.6,215.3 L643.3,215.3 L643.9,214.1 L644.5,212.5 L645.6,209.6 L646.8,207.2 L648.0,205.2 L648.6,204.3 L649.8,203.0 L650.4,202.5 L651.0,202.1 L651.6,201.8 L652.2,201.7 L652.8,201.6 L653.4,201.7 L653.9,201.8 L654.5,202.1 L655.1,202.5 L655.7,203.0 L656.9,204.3 L658.1,206.1 L659.3,208.3 L660.5,211.0 L661.7,214.1 L662.3,215.3 L672.9,215.3 L673.5,214.9 L675.3,213.2 L676.5,212.3 L677.7,211.5 L678.9,210.9 L680.0,210.5 L681.2,210.3 L682.4,210.2" fill="none" stroke="#000" class="cvm" stroke-width="1.3"/></mask>
<path d="M593.4,205.2 L594.0,205.2 L594.6,205.3 L595.8,205.8 L597.0,206.7 L598.2,207.8 L599.4,209.3 L600.6,211.1 L602.3,214.4 L602.9,215.3 L613.6,215.3 L614.2,212.4 L614.8,208.8 L616.0,202.3 L617.2,196.7 L618.4,192.2 L618.9,190.3 L619.5,188.7 L620.1,187.3 L620.7,186.2 L621.3,185.3 L621.9,184.7 L622.5,184.3 L623.1,184.2 L623.7,184.3 L624.3,184.7 L624.9,185.3 L625.5,186.2 L626.1,187.3 L626.7,188.7 L627.3,190.3 L627.8,192.2 L629.0,196.7 L630.2,202.3 L630.8,205.4 L632.0,212.4 L632.6,215.3 L643.3,215.3 L643.9,214.1 L644.5,212.5 L645.6,209.6 L646.8,207.2 L648.0,205.2 L649.2,203.6 L649.8,203.0 L650.4,202.5 L651.0,202.1 L651.6,201.8 L652.2,201.7 L652.8,201.6 L653.4,201.7 L653.9,201.8 L654.5,202.1 L655.1,202.5 L655.7,203.0 L656.3,203.6 L657.5,205.2 L658.7,207.2 L659.9,209.6 L660.5,211.0 L661.7,214.1 L662.3,215.3 L672.9,215.3 L675.3,213.7 L676.5,213.0 L677.7,212.4 L678.9,211.9 L680.0,211.6 L681.2,211.4 L682.4,211.3" fill="none" stroke="#3232ff" class="cv" mask="url(#m15)"/>
<path d="M593.4,203.8 L594.0,203.8 L594.6,203.9 L595.2,204.2 L595.8,204.5 L597.0,205.4 L598.2,206.7 L599.4,208.4 L600.6,210.5 L602.3,214.3 L602.9,215.3 L613.6,215.3 L614.2,212.8 L615.4,206.6 L616.0,203.9 L617.2,199.0 L618.4,195.1 L619.5,192.0 L620.1,190.8 L620.7,189.8 L621.3,189.0 L621.9,188.5 L622.5,188.1 L623.1,188.0 L623.7,188.1 L624.3,188.5 L624.9,189.0 L625.5,189.8 L626.1,190.8 L626.7,192.0 L627.8,195.1 L629.0,199.0 L630.2,203.9 L630.8,206.6 L632.0,212.8 L632.6,215.3 L643.3,215.3 L643.9,214.1 L644.5,212.5 L645.6,209.6 L646.8,207.2 L648.0,205.2 L648.6,204.3 L649.8,203.0 L650.4,202.5 L651.0,202.1 L651.6,201.8 L652.2,201.7 L652.8,201.6 L653.4,201.7 L653.9,201.8 L654.5,202.1 L655.1,202.5 L655.7,203.0 L656.9,204.3 L658.1,206.1 L659.3,208.3 L660.5,211.0 L661.7,214.1 L662.3,215.3 L672.9,215.3 L673.5,214.9 L675.3,213.2 L676.5,212.3 L677.7,211.5 L678.9,210.9 L680.0,210.5 L681.2,210.3 L682.4,210.2" fill="none" stroke="#ff3232" class="cv"/>
<line x1="362.75" y1="295.28" x2="454.70" y2="295.28" class="g"/>
<line x1="362.75" y1="282.85" x2="454.70" y2="282.85" class="g"/>
<line x1="362.75" y1="270.43" x2="454.70" y2="270.43" class="g"/>
<line x1="362.75" y1="258.01" x2="454.70" y2="258.01" class="g"/>
<line x1="364.44" y1="255.00" x2="364.44" y2="296.80" class="g"/>
<line x1="393.86" y1="255.00" x2="393.86" y2="296.80" class="g"/>
<line x1="423.28" y1="255.00" x2="423.28" y2="296.80" class="g"/>
<line x1="452.71" y1="255.00" x2="452.71" y2="296.80" class="g"/>
<path d="M362.15,255.00 L362.15,297.40 L454.70,297.40" class="ax"/>
<line x1="360.55" y1="295.28" x2="362.15" y2="295.28" class="tk"/>
<text x="360.25" y="296.68" class="tl" text-anchor="end">0</text>
<line x1="360.55" y1="282.85" x2="362.15" y2="282.85" class="tk"/>
<text x="360.25" y="284.25" class="tl" text-anchor="end">.5</text>
<line x1="360.55" y1="270.43" x2="362.15" y2="270.43" class="tk"/>
<text x="360.25" y="271.83" class="tl" text-anchor="end">1</text>
<line x1="360.55" y1="258.01" x2="362.15" y2="258.01" class="tk"/>
<text x="360.25" y="259.41" class="tl" text-anchor="end">1.5</text>
<line x1="364.44" y1="297.40" x2="364.44" y2="299.00" class="tk"/>
<text x="364.44" y="302.50" class="tl" text-anchor="middle">1</text>
<line x1="393.86" y1="297.40" x2="393.86" y2="299.00" class="tk"/>
<text x="393.86" y="302.50" class="tl" text-anchor="middle">2</text>
<line x1="423.28" y1="297.40" x2="423.28" y2="299.00" class="tk"/>
<text x="423.28" y="302.50" class="tl" text-anchor="middle">3</text>
<line x1="452.71" y1="297.40" x2="452.71" y2="299.00" class="tk"/>
<text x="452.71" y="302.50" class="tl" text-anchor="middle">4</text>
<text x="408.72" y="307.90" class="xl" text-anchor="middle">x</text>
<text transform="translate(351.90,276.55) rotate(-90)" x="0" y="0" class="yl" text-anchor="middle">Intensity</text>
<text x="408.42" y="253.60" class="st" text-anchor="middle">Before Weighting</text>
<mask id="m16" maskUnits="userSpaceOnUse" x="0" y="0" width="685" height="387"><rect x="0" y="0" width="685" height="387" fill="#fff"/><path d="M364.4,291.3 L365.6,291.4 L366.8,291.6 L368.0,291.9 L369.1,292.3 L370.3,292.9 L371.5,293.6 L373.9,295.3 L384.4,295.3 L385.0,294.5 L386.2,292.5 L387.4,290.9 L388.6,289.5 L389.7,288.4 L390.9,287.5 L392.1,287.0 L393.3,286.7 L394.4,286.7 L395.0,286.8 L396.2,287.2 L397.4,287.9 L398.6,288.9 L399.7,290.1 L400.9,291.7 L402.7,294.5 L403.3,295.3 L413.9,295.3 L414.5,292.6 L415.0,289.1 L416.2,283.0 L417.4,277.8 L418.6,273.5 L419.8,270.2 L420.3,268.9 L420.9,267.8 L421.5,267.0 L422.1,266.4 L422.7,266.1 L423.3,266.0 L423.9,266.1 L424.5,266.4 L425.0,267.0 L425.6,267.8 L426.2,268.9 L426.8,270.2 L428.0,273.5 L429.2,277.8 L430.3,283.0 L430.9,285.9 L432.1,292.6 L432.7,295.3 L443.3,295.3 L443.9,293.7 L444.5,291.6 L445.6,288.0 L446.8,284.9 L448.0,282.4 L449.2,280.4 L449.8,279.6 L450.4,279.0 L450.9,278.5 L451.5,278.2 L452.1,278.0 L452.7,277.9" fill="none" stroke="#000" class="cvm" stroke-width="1.3"/></mask>
<path d="M364.4,289.6 L365.6,289.7 L366.8,289.9 L368.0,290.4 L369.1,291.0 L370.3,291.9 L371.5,292.9 L373.3,294.7 L373.9,295.3 L384.4,295.3 L385.0,294.1 L386.2,291.2 L387.4,288.7 L388.6,286.6 L389.7,284.9 L390.9,283.7 L391.5,283.2 L392.1,282.8 L392.7,282.6 L393.3,282.4 L393.9,282.4 L394.4,282.4 L395.0,282.6 L395.6,282.8 L396.2,283.2 L397.4,284.2 L398.6,285.7 L399.7,287.6 L400.9,289.9 L402.1,292.6 L402.7,294.1 L403.3,295.3 L413.9,295.3 L414.5,292.4 L415.0,288.8 L416.2,282.4 L417.4,276.9 L418.6,272.4 L419.8,268.9 L420.3,267.6 L420.9,266.5 L421.5,265.6 L422.1,265.0 L422.7,264.6 L423.3,264.5 L423.9,264.6 L424.5,265.0 L425.0,265.6 L425.6,266.5 L426.2,267.6 L426.8,268.9 L428.0,272.4 L429.2,276.9 L430.3,282.4 L430.9,285.5 L432.1,292.4 L432.7,295.3 L443.3,295.3 L443.9,294.3 L445.6,290.8 L446.8,288.9 L448.0,287.3 L449.2,286.1 L450.4,285.2 L451.5,284.7 L452.1,284.6 L452.7,284.5" fill="none" stroke="#3232ff" class="cv" mask="url(#m16)"/>
<path d="M364.4,291.3 L365.6,291.4 L366.8,291.6 L368.0,291.9 L369.1,292.3 L370.3,292.9 L371.5,293.6 L373.9,295.3 L384.4,295.3 L385.0,294.5 L386.2,292.5 L387.4,290.9 L388.6,289.5 L389.7,288.4 L390.9,287.5 L392.1,287.0 L393.3,286.7 L394.4,286.7 L395.0,286.8 L396.2,287.2 L397.4,287.9 L398.6,288.9 L399.7,290.1 L400.9,291.7 L402.7,294.5 L403.3,295.3 L413.9,295.3 L414.5,292.6 L415.0,289.1 L416.2,283.0 L417.4,277.8 L418.6,273.5 L419.8,270.2 L420.3,268.9 L420.9,267.8 L421.5,267.0 L422.1,266.4 L422.7,266.1 L423.3,266.0 L423.9,266.1 L424.5,266.4 L425.0,267.0 L425.6,267.8 L426.2,268.9 L426.8,270.2 L428.0,273.5 L429.2,277.8 L430.3,283.0 L430.9,285.9 L432.1,292.6 L432.7,295.3 L443.3,295.3 L443.9,293.7 L444.5,291.6 L445.6,288.0 L446.8,284.9 L448.0,282.4 L449.2,280.4 L449.8,279.6 L450.4,279.0 L450.9,278.5 L451.5,278.2 L452.1,278.0 L452.7,277.9" fill="none" stroke="#ff3232" class="cv"/>
<line x1="477.75" y1="295.28" x2="569.70" y2="295.28" class="g"/>
<line x1="477.75" y1="282.85" x2="569.70" y2="282.85" class="g"/>
<line x1="477.75" y1="270.43" x2="569.70" y2="270.43" class="g"/>
<line x1="477.75" y1="258.01" x2="569.70" y2="258.01" class="g"/>
<line x1="479.29" y1="255.00" x2="479.29" y2="296.80" class="g"/>
<line x1="508.67" y1="255.00" x2="508.67" y2="296.80" class="g"/>
<line x1="538.04" y1="255.00" x2="538.04" y2="296.80" class="g"/>
<line x1="567.42" y1="255.00" x2="567.42" y2="296.80" class="g"/>
<path d="M477.15,255.00 L477.15,297.40 L569.70,297.40" class="ax"/>
<line x1="475.55" y1="295.28" x2="477.15" y2="295.28" class="tk"/>
<text x="475.25" y="296.68" class="tl" text-anchor="end">0</text>
<line x1="475.55" y1="282.85" x2="477.15" y2="282.85" class="tk"/>
<text x="475.25" y="284.25" class="tl" text-anchor="end">.5</text>
<line x1="475.55" y1="270.43" x2="477.15" y2="270.43" class="tk"/>
<text x="475.25" y="271.83" class="tl" text-anchor="end">1</text>
<line x1="475.55" y1="258.01" x2="477.15" y2="258.01" class="tk"/>
<text x="475.25" y="259.41" class="tl" text-anchor="end">1.5</text>
<line x1="479.29" y1="297.40" x2="479.29" y2="299.00" class="tk"/>
<text x="479.29" y="302.50" class="tl" text-anchor="middle">1</text>
<line x1="508.67" y1="297.40" x2="508.67" y2="299.00" class="tk"/>
<text x="508.67" y="302.50" class="tl" text-anchor="middle">2</text>
<line x1="538.04" y1="297.40" x2="538.04" y2="299.00" class="tk"/>
<text x="538.04" y="302.50" class="tl" text-anchor="middle">3</text>
<line x1="567.42" y1="297.40" x2="567.42" y2="299.00" class="tk"/>
<text x="567.42" y="302.50" class="tl" text-anchor="middle">4</text>
<text x="523.72" y="307.90" class="xl" text-anchor="middle">x</text>
<text transform="translate(466.40,276.55) rotate(-90)" x="0" y="0" class="yl" text-anchor="middle">Intensity</text>
<text x="523.42" y="253.60" class="st" text-anchor="middle">After ATT Weighting</text>
<mask id="m17" maskUnits="userSpaceOnUse" x="0" y="0" width="685" height="387"><rect x="0" y="0" width="685" height="387" fill="#fff"/><path d="M479.3,291.7 L480.5,291.8 L481.6,291.9 L482.8,292.2 L484.0,292.6 L485.2,293.1 L486.3,293.8 L488.7,295.3 L499.3,295.3 L499.9,294.5 L501.0,292.8 L502.2,291.2 L503.4,290.0 L504.6,289.0 L505.7,288.2 L506.9,287.7 L508.1,287.4 L509.3,287.4 L510.4,287.7 L511.0,287.9 L512.2,288.5 L513.4,289.4 L514.5,290.6 L515.7,292.0 L517.5,294.5 L518.1,295.3 L528.6,295.3 L529.2,292.6 L529.8,289.2 L531.0,283.1 L532.2,277.9 L533.3,273.7 L534.5,270.4 L535.1,269.1 L535.7,268.1 L536.3,267.3 L536.9,266.7 L537.5,266.3 L538.0,266.2 L538.6,266.3 L539.2,266.7 L539.8,267.3 L540.4,268.1 L541.0,269.1 L541.6,270.4 L542.7,273.7 L543.9,277.9 L545.1,283.1 L546.3,289.2 L546.9,292.6 L547.4,295.3 L558.0,295.3 L558.6,293.7 L559.2,291.7 L560.4,288.1 L561.5,285.0 L562.7,282.6 L563.9,280.6 L564.5,279.9 L565.1,279.2 L565.7,278.8 L566.2,278.4 L566.8,278.2 L567.4,278.1" fill="none" stroke="#000" class="cvm" stroke-width="1.3"/></mask>
<path d="M479.3,292.7 L480.5,292.7 L481.6,292.9 L482.8,293.1 L484.0,293.4 L486.3,294.2 L488.7,295.3 L499.3,295.3 L499.9,294.4 L501.6,291.5 L502.8,290.0 L504.0,288.7 L505.1,287.7 L506.3,287.0 L507.5,286.5 L508.7,286.4 L509.8,286.5 L511.0,287.0 L512.2,287.7 L513.4,288.7 L514.5,290.0 L515.7,291.5 L517.5,294.4 L518.1,295.3 L528.6,295.3 L529.2,292.4 L529.8,288.8 L531.0,282.4 L532.2,276.9 L533.3,272.4 L534.5,268.9 L535.1,267.6 L535.7,266.5 L536.3,265.6 L536.9,265.0 L537.5,264.6 L538.0,264.5 L538.6,264.6 L539.2,265.0 L539.8,265.6 L540.4,266.5 L541.0,267.6 L541.6,268.9 L542.7,272.4 L543.9,276.9 L545.1,282.4 L546.3,288.8 L546.9,292.4 L547.4,295.3 L558.0,295.3 L558.6,293.8 L559.2,291.8 L560.4,288.4 L561.5,285.5 L562.7,283.1 L563.9,281.3 L564.5,280.5 L565.1,279.9 L565.7,279.5 L566.2,279.1 L566.8,278.9 L567.4,278.9" fill="none" stroke="#3232ff" class="cv" mask="url(#m17)"/>
<path d="M479.3,291.7 L480.5,291.8 L481.6,291.9 L482.8,292.2 L484.0,292.6 L485.2,293.1 L486.3,293.8 L488.7,295.3 L499.3,295.3 L499.9,294.5 L501.0,292.8 L502.2,291.2 L503.4,290.0 L504.6,289.0 L505.7,288.2 L506.9,287.7 L508.1,287.4 L509.3,287.4 L510.4,287.7 L511.0,287.9 L512.2,288.5 L513.4,289.4 L514.5,290.6 L515.7,292.0 L517.5,294.5 L518.1,295.3 L528.6,295.3 L529.2,292.6 L529.8,289.2 L531.0,283.1 L532.2,277.9 L533.3,273.7 L534.5,270.4 L535.1,269.1 L535.7,268.1 L536.3,267.3 L536.9,266.7 L537.5,266.3 L538.0,266.2 L538.6,266.3 L539.2,266.7 L539.8,267.3 L540.4,268.1 L541.0,269.1 L541.6,270.4 L542.7,273.7 L543.9,277.9 L545.1,283.1 L546.3,289.2 L546.9,292.6 L547.4,295.3 L558.0,295.3 L558.6,293.7 L559.2,291.7 L560.4,288.1 L561.5,285.0 L562.7,282.6 L563.9,280.6 L564.5,279.9 L565.1,279.2 L565.7,278.8 L566.2,278.4 L566.8,278.2 L567.4,278.1" fill="none" stroke="#ff3232" class="cv"/>
<line x1="591.89" y1="295.28" x2="685.00" y2="295.28" class="g"/>
<line x1="591.89" y1="282.85" x2="685.00" y2="282.85" class="g"/>
<line x1="591.89" y1="270.43" x2="685.00" y2="270.43" class="g"/>
<line x1="591.89" y1="258.01" x2="685.00" y2="258.01" class="g"/>
<line x1="593.44" y1="255.00" x2="593.44" y2="296.80" class="g"/>
<line x1="623.10" y1="255.00" x2="623.10" y2="296.80" class="g"/>
<line x1="652.76" y1="255.00" x2="652.76" y2="296.80" class="g"/>
<line x1="682.42" y1="255.00" x2="682.42" y2="296.80" class="g"/>
<path d="M591.29,255.00 L591.29,297.40 L685.00,297.40" class="ax"/>
<line x1="589.69" y1="295.28" x2="591.29" y2="295.28" class="tk"/>
<text x="589.39" y="296.68" class="tl" text-anchor="end">0</text>
<line x1="589.69" y1="282.85" x2="591.29" y2="282.85" class="tk"/>
<text x="589.39" y="284.25" class="tl" text-anchor="end">.5</text>
<line x1="589.69" y1="270.43" x2="591.29" y2="270.43" class="tk"/>
<text x="589.39" y="271.83" class="tl" text-anchor="end">1</text>
<line x1="589.69" y1="258.01" x2="591.29" y2="258.01" class="tk"/>
<text x="589.39" y="259.41" class="tl" text-anchor="end">1.5</text>
<line x1="593.44" y1="297.40" x2="593.44" y2="299.00" class="tk"/>
<text x="593.44" y="302.50" class="tl" text-anchor="middle">1</text>
<line x1="623.10" y1="297.40" x2="623.10" y2="299.00" class="tk"/>
<text x="623.10" y="302.50" class="tl" text-anchor="middle">2</text>
<line x1="652.76" y1="297.40" x2="652.76" y2="299.00" class="tk"/>
<text x="652.76" y="302.50" class="tl" text-anchor="middle">3</text>
<line x1="682.42" y1="297.40" x2="682.42" y2="299.00" class="tk"/>
<text x="682.42" y="302.50" class="tl" text-anchor="middle">4</text>
<text x="638.45" y="307.90" class="xl" text-anchor="middle">x</text>
<text transform="translate(580.80,276.55) rotate(-90)" x="0" y="0" class="yl" text-anchor="middle">Intensity</text>
<text x="638.15" y="253.60" class="st" text-anchor="middle">After ATC Weighting</text>
<mask id="m18" maskUnits="userSpaceOnUse" x="0" y="0" width="685" height="387"><rect x="0" y="0" width="685" height="387" fill="#fff"/><path d="M593.4,287.7 L594.6,287.8 L595.8,288.2 L597.0,288.8 L598.2,289.6 L599.4,290.7 L600.6,292.1 L602.3,294.6 L602.9,295.3 L613.6,295.3 L614.2,294.2 L615.4,291.6 L616.6,289.4 L617.8,287.6 L618.9,286.1 L620.1,285.0 L621.3,284.3 L621.9,284.0 L622.5,283.9 L623.1,283.8 L623.7,283.9 L624.3,284.0 L624.9,284.3 L626.1,285.0 L626.7,285.5 L627.8,286.8 L629.0,288.5 L630.2,290.5 L632.0,294.2 L632.6,295.3 L643.3,295.3 L643.9,292.6 L644.5,289.3 L645.6,283.4 L646.8,278.4 L648.0,274.3 L649.2,271.1 L649.8,269.8 L650.4,268.8 L651.0,268.0 L651.6,267.4 L652.2,267.1 L652.8,267.0 L653.4,267.1 L653.9,267.4 L654.5,268.0 L655.1,268.8 L655.7,269.8 L656.3,271.1 L657.5,274.3 L658.7,278.4 L659.9,283.4 L660.5,286.2 L661.7,292.6 L662.3,295.3 L672.9,295.3 L673.5,294.2 L675.3,290.4 L676.5,288.3 L677.7,286.6 L678.9,285.3 L680.0,284.4 L680.6,284.0 L681.2,283.8 L681.8,283.6 L682.4,283.6" fill="none" stroke="#000" class="cvm" stroke-width="1.3"/></mask>
<path d="M593.4,289.6 L594.6,289.7 L595.8,289.9 L597.0,290.4 L598.2,291.0 L599.4,291.9 L600.6,292.9 L602.3,294.7 L602.9,295.3 L613.6,295.3 L614.2,294.1 L615.4,291.2 L616.6,288.7 L617.8,286.6 L618.9,284.9 L620.1,283.7 L620.7,283.2 L621.3,282.8 L621.9,282.6 L622.5,282.4 L623.1,282.4 L623.7,282.4 L624.3,282.6 L624.9,282.8 L625.5,283.2 L626.1,283.7 L626.7,284.2 L627.8,285.7 L629.0,287.6 L630.2,289.9 L630.8,291.2 L632.0,294.1 L632.6,295.3 L643.3,295.3 L643.9,292.4 L644.5,288.8 L645.6,282.4 L646.8,276.9 L648.0,272.4 L648.6,270.6 L649.2,268.9 L649.8,267.6 L650.4,266.5 L651.0,265.6 L651.6,265.0 L652.2,264.6 L652.8,264.5 L653.4,264.6 L653.9,265.0 L654.5,265.6 L655.1,266.5 L655.7,267.6 L656.3,268.9 L656.9,270.6 L657.5,272.4 L658.7,276.9 L659.9,282.4 L660.5,285.5 L661.7,292.4 L662.3,295.3 L672.9,295.3 L673.5,294.3 L675.3,290.8 L676.5,288.9 L677.7,287.3 L678.9,286.1 L680.0,285.2 L681.2,284.7 L681.8,284.6 L682.4,284.5" fill="none" stroke="#3232ff" class="cv" mask="url(#m18)"/>
<path d="M593.4,287.7 L594.6,287.8 L595.8,288.2 L597.0,288.8 L598.2,289.6 L599.4,290.7 L600.6,292.1 L602.3,294.6 L602.9,295.3 L613.6,295.3 L614.2,294.2 L615.4,291.6 L616.6,289.4 L617.8,287.6 L618.9,286.1 L620.1,285.0 L621.3,284.3 L621.9,284.0 L622.5,283.9 L623.1,283.8 L623.7,283.9 L624.3,284.0 L624.9,284.3 L626.1,285.0 L626.7,285.5 L627.8,286.8 L629.0,288.5 L630.2,290.5 L632.0,294.2 L632.6,295.3 L643.3,295.3 L643.9,292.6 L644.5,289.3 L645.6,283.4 L646.8,278.4 L648.0,274.3 L649.2,271.1 L649.8,269.8 L650.4,268.8 L651.0,268.0 L651.6,267.4 L652.2,267.1 L652.8,267.0 L653.4,267.1 L653.9,267.4 L654.5,268.0 L655.1,268.8 L655.7,269.8 L656.3,271.1 L657.5,274.3 L658.7,278.4 L659.9,283.4 L660.5,286.2 L661.7,292.6 L662.3,295.3 L672.9,295.3 L673.5,294.2 L675.3,290.4 L676.5,288.3 L677.7,286.6 L678.9,285.3 L680.0,284.4 L680.6,284.0 L681.2,283.8 L681.8,283.6 L682.4,283.6" fill="none" stroke="#ff3232" class="cv"/>
<line x1="16.18" y1="215.35" x2="106.60" y2="215.35" class="g"/>
<line x1="16.18" y1="206.12" x2="106.60" y2="206.12" class="g"/>
<line x1="16.18" y1="196.89" x2="106.60" y2="196.89" class="g"/>
<line x1="16.18" y1="187.66" x2="106.60" y2="187.66" class="g"/>
<line x1="16.18" y1="178.44" x2="106.60" y2="178.44" class="g"/>
<line x1="20.58" y1="176.10" x2="20.58" y2="217.50" class="g"/>
<line x1="41.69" y1="176.10" x2="41.69" y2="217.50" class="g"/>
<line x1="62.79" y1="176.10" x2="62.79" y2="217.50" class="g"/>
<line x1="83.89" y1="176.10" x2="83.89" y2="217.50" class="g"/>
<line x1="104.99" y1="176.10" x2="104.99" y2="217.50" class="g"/>
<path d="M15.58,176.10 L15.58,218.10 L106.60,218.10" class="ax"/>
<line x1="13.98" y1="215.35" x2="15.58" y2="215.35" class="tk"/>
<text x="13.68" y="216.75" class="tl" text-anchor="end">0</text>
<line x1="13.98" y1="206.12" x2="15.58" y2="206.12" class="tk"/>
<text x="13.68" y="207.52" class="tl" text-anchor="end">.001</text>
<line x1="13.98" y1="196.89" x2="15.58" y2="196.89" class="tk"/>
<text x="13.68" y="198.29" class="tl" text-anchor="end">.002</text>
<line x1="13.98" y1="187.66" x2="15.58" y2="187.66" class="tk"/>
<text x="13.68" y="189.06" class="tl" text-anchor="end">.003</text>
<line x1="13.98" y1="178.44" x2="15.58" y2="178.44" class="tk"/>
<text x="13.68" y="179.84" class="tl" text-anchor="end">.004</text>
<line x1="20.58" y1="218.10" x2="20.58" y2="219.70" class="tk"/>
<text x="20.58" y="223.20" class="tl" text-anchor="middle">200</text>
<line x1="41.69" y1="218.10" x2="41.69" y2="219.70" class="tk"/>
<text x="41.69" y="223.20" class="tl" text-anchor="middle">400</text>
<line x1="62.79" y1="218.10" x2="62.79" y2="219.70" class="tk"/>
<text x="62.79" y="223.20" class="tl" text-anchor="middle">600</text>
<line x1="83.89" y1="218.10" x2="83.89" y2="219.70" class="tk"/>
<text x="83.89" y="223.20" class="tl" text-anchor="middle">800</text>
<line x1="104.99" y1="218.10" x2="104.99" y2="219.70" class="tk"/>
<text x="104.99" y="223.20" class="tl" text-anchor="middle">1000</text>
<text x="61.39" y="228.60" class="xl" text-anchor="middle">x</text>
<text transform="translate(3.10,197.45) rotate(-90)" x="0" y="0" class="yl" text-anchor="middle">Intensity</text>
<text x="61.09" y="174.10" class="st" text-anchor="middle">Before Weighting</text>
<mask id="m19" maskUnits="userSpaceOnUse" x="0" y="0" width="685" height="387"><rect x="0" y="0" width="685" height="387" fill="#fff"/><path d="M18.1,215.6 C18.6,215.5 20.2,215.3 21.2,214.9 C22.2,214.6 23.3,214.1 24.3,213.6 C25.3,213.0 26.4,212.3 27.4,211.5 C28.4,210.7 29.5,209.9 30.5,208.9 C31.5,207.9 32.6,206.8 33.6,205.6 C34.6,204.4 35.7,203.1 36.7,201.9 C37.7,200.7 38.8,199.6 39.8,198.4 C40.8,197.1 42.0,195.8 42.9,194.5 C43.8,193.1 44.3,191.5 45.0,190.3 C45.6,189.1 46.3,188.0 47.0,187.2 C47.7,186.5 48.4,186.1 49.1,186.0 C49.8,185.9 50.5,186.5 51.2,186.4 C51.8,186.4 52.5,186.1 53.2,185.7 C53.9,185.3 54.7,184.2 55.5,184.1 C56.3,184.0 57.2,184.5 58.1,185.2 C59.0,185.9 60.2,187.1 61.2,188.3 C62.2,189.4 63.3,190.7 64.3,191.9 C65.3,193.1 66.5,194.3 67.4,195.5 C68.3,196.7 68.8,197.8 69.5,199.1 C70.2,200.4 70.8,202.0 71.5,203.2 C72.2,204.5 72.7,205.7 73.6,206.9 C74.5,208.1 75.7,209.4 76.7,210.5 C77.7,211.6 78.8,212.8 79.8,213.6 C80.8,214.3 81.9,214.8 82.9,215.1 C83.9,215.4 84.9,215.4 86.0,215.4 C87.1,215.5 88.0,215.5 89.3,215.5 C90.5,215.5 92.8,215.5 93.5,215.5" fill="none" stroke="#000" class="cvm" stroke-width="0.9"/></mask>
<path d="M18.1,215.3 C18.6,215.2 20.2,215.0 21.2,214.6 C22.2,214.3 23.3,213.9 24.3,213.3 C25.3,212.7 26.4,211.9 27.4,211.0 C28.4,210.1 29.5,209.0 30.5,207.9 C31.5,206.8 32.6,205.7 33.6,204.3 C34.6,202.9 35.7,201.1 36.7,199.6 C37.7,198.1 38.8,196.6 39.8,195.3 C40.8,193.9 41.9,192.7 42.9,191.6 C43.9,190.4 45.0,189.2 46.0,188.3 C47.0,187.3 48.1,186.5 49.1,185.7 C50.0,184.8 50.9,183.8 51.7,183.1 C52.4,182.4 53.1,181.5 53.7,181.5 C54.4,181.6 54.8,182.4 55.5,183.3 C56.2,184.2 57.2,185.5 58.1,186.7 C59.0,187.9 60.2,189.0 61.2,190.3 C62.2,191.6 63.4,193.1 64.3,194.5 C65.2,195.8 65.7,197.2 66.4,198.6 C67.1,200.0 67.7,201.4 68.4,202.7 C69.1,204.0 69.7,205.2 70.5,206.3 C71.3,207.5 72.2,208.5 73.1,209.4 C73.9,210.4 74.7,211.2 75.7,212.0 C76.6,212.8 77.7,213.7 78.8,214.3 C79.8,214.8 80.7,215.1 81.9,215.3 C83.1,215.6 84.8,215.6 86.0,215.6 C87.2,215.7 88.0,215.5 89.3,215.5 C90.5,215.5 92.8,215.5 93.5,215.5" fill="none" stroke="#3232ff" class="cv" mask="url(#m19)"/>
<path d="M18.1,215.6 C18.6,215.5 20.2,215.3 21.2,214.9 C22.2,214.6 23.3,214.1 24.3,213.6 C25.3,213.0 26.4,212.3 27.4,211.5 C28.4,210.7 29.5,209.9 30.5,208.9 C31.5,207.9 32.6,206.8 33.6,205.6 C34.6,204.4 35.7,203.1 36.7,201.9 C37.7,200.7 38.8,199.6 39.8,198.4 C40.8,197.1 42.0,195.8 42.9,194.5 C43.8,193.1 44.3,191.5 45.0,190.3 C45.6,189.1 46.3,188.0 47.0,187.2 C47.7,186.5 48.4,186.1 49.1,186.0 C49.8,185.9 50.5,186.5 51.2,186.4 C51.8,186.4 52.5,186.1 53.2,185.7 C53.9,185.3 54.7,184.2 55.5,184.1 C56.3,184.0 57.2,184.5 58.1,185.2 C59.0,185.9 60.2,187.1 61.2,188.3 C62.2,189.4 63.3,190.7 64.3,191.9 C65.3,193.1 66.5,194.3 67.4,195.5 C68.3,196.7 68.8,197.8 69.5,199.1 C70.2,200.4 70.8,202.0 71.5,203.2 C72.2,204.5 72.7,205.7 73.6,206.9 C74.5,208.1 75.7,209.4 76.7,210.5 C77.7,211.6 78.8,212.8 79.8,213.6 C80.8,214.3 81.9,214.8 82.9,215.1 C83.9,215.4 84.9,215.4 86.0,215.4 C87.1,215.5 88.0,215.5 89.3,215.5 C90.5,215.5 92.8,215.5 93.5,215.5" fill="none" stroke="#ff3232" class="cv"/>
<line x1="131.18" y1="215.35" x2="221.50" y2="215.35" class="g"/>
<line x1="131.18" y1="206.12" x2="221.50" y2="206.12" class="g"/>
<line x1="131.18" y1="196.89" x2="221.50" y2="196.89" class="g"/>
<line x1="131.18" y1="187.66" x2="221.50" y2="187.66" class="g"/>
<line x1="131.18" y1="178.44" x2="221.50" y2="178.44" class="g"/>
<line x1="135.30" y1="176.10" x2="135.30" y2="217.50" class="g"/>
<line x1="156.29" y1="176.10" x2="156.29" y2="217.50" class="g"/>
<line x1="177.29" y1="176.10" x2="177.29" y2="217.50" class="g"/>
<line x1="198.28" y1="176.10" x2="198.28" y2="217.50" class="g"/>
<line x1="219.27" y1="176.10" x2="219.27" y2="217.50" class="g"/>
<path d="M130.58,176.10 L130.58,218.10 L221.50,218.10" class="ax"/>
<line x1="128.98" y1="215.35" x2="130.58" y2="215.35" class="tk"/>
<text x="128.68" y="216.75" class="tl" text-anchor="end">0</text>
<line x1="128.98" y1="206.12" x2="130.58" y2="206.12" class="tk"/>
<text x="128.68" y="207.52" class="tl" text-anchor="end">.001</text>
<line x1="128.98" y1="196.89" x2="130.58" y2="196.89" class="tk"/>
<text x="128.68" y="198.29" class="tl" text-anchor="end">.002</text>
<line x1="128.98" y1="187.66" x2="130.58" y2="187.66" class="tk"/>
<text x="128.68" y="189.06" class="tl" text-anchor="end">.003</text>
<line x1="128.98" y1="178.44" x2="130.58" y2="178.44" class="tk"/>
<text x="128.68" y="179.84" class="tl" text-anchor="end">.004</text>
<line x1="135.30" y1="218.10" x2="135.30" y2="219.70" class="tk"/>
<text x="135.30" y="223.20" class="tl" text-anchor="middle">200</text>
<line x1="156.29" y1="218.10" x2="156.29" y2="219.70" class="tk"/>
<text x="156.29" y="223.20" class="tl" text-anchor="middle">400</text>
<line x1="177.29" y1="218.10" x2="177.29" y2="219.70" class="tk"/>
<text x="177.29" y="223.20" class="tl" text-anchor="middle">600</text>
<line x1="198.28" y1="218.10" x2="198.28" y2="219.70" class="tk"/>
<text x="198.28" y="223.20" class="tl" text-anchor="middle">800</text>
<line x1="219.27" y1="218.10" x2="219.27" y2="219.70" class="tk"/>
<text x="219.27" y="223.20" class="tl" text-anchor="middle">1000</text>
<text x="176.34" y="228.60" class="xl" text-anchor="middle">x</text>
<text transform="translate(117.60,197.45) rotate(-90)" x="0" y="0" class="yl" text-anchor="middle">Intensity</text>
<text x="176.04" y="174.10" class="st" text-anchor="middle">After ATT Weighting</text>
<mask id="m20" maskUnits="userSpaceOnUse" x="0" y="0" width="685" height="387"><rect x="0" y="0" width="685" height="387" fill="#fff"/><path d="M132.7,215.3 C133.4,215.2 135.8,214.8 137.0,214.5 C138.2,214.2 138.9,214.0 139.9,213.5 C140.8,213.0 141.8,212.3 142.7,211.6 C143.7,211.0 144.6,210.3 145.6,209.5 C146.6,208.7 147.5,207.9 148.5,206.9 C149.4,206.0 150.4,204.9 151.3,203.8 C152.3,202.6 153.2,201.5 154.2,200.2 C155.1,198.9 156.2,197.4 157.0,195.9 C157.9,194.4 158.5,192.7 159.2,191.3 C159.9,189.9 160.6,188.2 161.3,187.3 C162.1,186.4 162.8,186.3 163.5,186.2 C164.2,186.0 164.9,186.7 165.6,186.6 C166.3,186.5 167.1,185.9 167.8,185.6 C168.5,185.2 169.2,184.8 169.9,184.4 C170.6,184.1 171.3,183.3 172.1,183.3 C172.8,183.3 173.5,184.0 174.2,184.4 C174.9,184.9 175.6,185.4 176.4,186.2 C177.1,186.9 177.8,187.7 178.5,188.7 C179.2,189.8 179.9,190.9 180.6,192.3 C181.4,193.7 182.1,195.7 182.8,197.3 C183.5,199.0 184.2,200.8 184.9,202.3 C185.7,203.9 186.3,205.3 187.1,206.6 C187.9,208.0 189.0,209.4 189.9,210.5 C190.9,211.6 191.9,212.6 192.8,213.3 C193.8,214.1 194.5,214.7 195.7,215.1 C196.9,215.4 198.5,215.3 200.0,215.3 C201.4,215.4 202.8,215.5 204.3,215.5 C205.7,215.5 207.8,215.5 208.5,215.5" fill="none" stroke="#000" class="cvm" stroke-width="0.9"/></mask>
<path d="M132.7,215.3 C133.4,215.3 135.8,215.1 137.0,214.9 C138.2,214.7 138.9,214.5 139.9,214.1 C140.8,213.7 141.8,213.1 142.7,212.5 C143.7,211.9 144.6,211.3 145.6,210.5 C146.6,209.7 147.5,208.8 148.5,207.8 C149.4,206.7 150.4,205.5 151.3,204.2 C152.3,202.9 153.2,201.6 154.2,200.2 C155.1,198.8 156.2,197.1 157.0,195.9 C157.9,194.6 158.5,193.6 159.2,192.7 C159.9,191.8 160.6,191.1 161.3,190.5 C162.1,189.8 163.0,189.7 163.5,189.0 C164.0,188.3 164.0,187.2 164.5,186.4 C164.9,185.6 165.5,185.1 166.0,184.3 C166.5,183.5 167.0,182.4 167.6,181.7 C168.1,181.0 168.6,180.4 169.1,180.2 C169.6,179.9 170.1,180.1 170.7,180.4 C171.2,180.7 171.6,181.5 172.2,182.0 C172.8,182.6 173.6,183.2 174.3,183.8 C175.0,184.3 175.7,184.7 176.3,185.3 C177.0,186.0 177.8,186.8 178.4,187.6 C179.0,188.4 179.3,188.8 180.0,190.3 C180.6,191.8 181.4,194.7 182.1,196.6 C182.8,198.5 183.4,199.9 184.2,201.6 C185.1,203.3 186.1,205.1 187.1,206.6 C188.0,208.1 189.0,209.4 189.9,210.5 C190.9,211.6 191.9,212.6 192.8,213.3 C193.8,214.1 194.5,214.7 195.7,215.1 C196.9,215.4 198.5,215.3 200.0,215.3 C201.4,215.4 202.8,215.5 204.3,215.5 C205.7,215.5 207.8,215.5 208.5,215.5" fill="none" stroke="#3232ff" class="cv" mask="url(#m20)"/>
<path d="M132.7,215.3 C133.4,215.2 135.8,214.8 137.0,214.5 C138.2,214.2 138.9,214.0 139.9,213.5 C140.8,213.0 141.8,212.3 142.7,211.6 C143.7,211.0 144.6,210.3 145.6,209.5 C146.6,208.7 147.5,207.9 148.5,206.9 C149.4,206.0 150.4,204.9 151.3,203.8 C152.3,202.6 153.2,201.5 154.2,200.2 C155.1,198.9 156.2,197.4 157.0,195.9 C157.9,194.4 158.5,192.7 159.2,191.3 C159.9,189.9 160.6,188.2 161.3,187.3 C162.1,186.4 162.8,186.3 163.5,186.2 C164.2,186.0 164.9,186.7 165.6,186.6 C166.3,186.5 167.1,185.9 167.8,185.6 C168.5,185.2 169.2,184.8 169.9,184.4 C170.6,184.1 171.3,183.3 172.1,183.3 C172.8,183.3 173.5,184.0 174.2,184.4 C174.9,184.9 175.6,185.4 176.4,186.2 C177.1,186.9 177.8,187.7 178.5,188.7 C179.2,189.8 179.9,190.9 180.6,192.3 C181.4,193.7 182.1,195.7 182.8,197.3 C183.5,199.0 184.2,200.8 184.9,202.3 C185.7,203.9 186.3,205.3 187.1,206.6 C187.9,208.0 189.0,209.4 189.9,210.5 C190.9,211.6 191.9,212.6 192.8,213.3 C193.8,214.1 194.5,214.7 195.7,215.1 C196.9,215.4 198.5,215.3 200.0,215.3 C201.4,215.4 202.8,215.5 204.3,215.5 C205.7,215.5 207.8,215.5 208.5,215.5" fill="none" stroke="#ff3232" class="cv"/>
<line x1="245.46" y1="215.35" x2="335.70" y2="215.35" class="g"/>
<line x1="245.46" y1="206.12" x2="335.70" y2="206.12" class="g"/>
<line x1="245.46" y1="196.89" x2="335.70" y2="196.89" class="g"/>
<line x1="245.46" y1="187.66" x2="335.70" y2="187.66" class="g"/>
<line x1="245.46" y1="178.44" x2="335.70" y2="178.44" class="g"/>
<line x1="249.15" y1="176.10" x2="249.15" y2="217.50" class="g"/>
<line x1="270.25" y1="176.10" x2="270.25" y2="217.50" class="g"/>
<line x1="291.36" y1="176.10" x2="291.36" y2="217.50" class="g"/>
<line x1="312.46" y1="176.10" x2="312.46" y2="217.50" class="g"/>
<line x1="333.56" y1="176.10" x2="333.56" y2="217.50" class="g"/>
<path d="M244.86,176.10 L244.86,218.10 L335.70,218.10" class="ax"/>
<line x1="243.26" y1="215.35" x2="244.86" y2="215.35" class="tk"/>
<text x="242.96" y="216.75" class="tl" text-anchor="end">0</text>
<line x1="243.26" y1="206.12" x2="244.86" y2="206.12" class="tk"/>
<text x="242.96" y="207.52" class="tl" text-anchor="end">.001</text>
<line x1="243.26" y1="196.89" x2="244.86" y2="196.89" class="tk"/>
<text x="242.96" y="198.29" class="tl" text-anchor="end">.002</text>
<line x1="243.26" y1="187.66" x2="244.86" y2="187.66" class="tk"/>
<text x="242.96" y="189.06" class="tl" text-anchor="end">.003</text>
<line x1="243.26" y1="178.44" x2="244.86" y2="178.44" class="tk"/>
<text x="242.96" y="179.84" class="tl" text-anchor="end">.004</text>
<line x1="249.15" y1="218.10" x2="249.15" y2="219.70" class="tk"/>
<text x="249.15" y="223.20" class="tl" text-anchor="middle">200</text>
<line x1="270.25" y1="218.10" x2="270.25" y2="219.70" class="tk"/>
<text x="270.25" y="223.20" class="tl" text-anchor="middle">400</text>
<line x1="291.36" y1="218.10" x2="291.36" y2="219.70" class="tk"/>
<text x="291.36" y="223.20" class="tl" text-anchor="middle">600</text>
<line x1="312.46" y1="218.10" x2="312.46" y2="219.70" class="tk"/>
<text x="312.46" y="223.20" class="tl" text-anchor="middle">800</text>
<line x1="333.56" y1="218.10" x2="333.56" y2="219.70" class="tk"/>
<text x="333.56" y="223.20" class="tl" text-anchor="middle">1000</text>
<text x="290.58" y="228.60" class="xl" text-anchor="middle">x</text>
<text transform="translate(232.50,197.45) rotate(-90)" x="0" y="0" class="yl" text-anchor="middle">Intensity</text>
<text x="290.28" y="174.10" class="st" text-anchor="middle">After ATC Weighting</text>
<mask id="m21" maskUnits="userSpaceOnUse" x="0" y="0" width="685" height="387"><rect x="0" y="0" width="685" height="387" fill="#fff"/><path d="M247.7,215.3 C248.4,215.3 250.8,215.1 252.0,214.8 C253.2,214.5 253.9,214.1 254.9,213.5 C255.8,212.9 256.8,212.2 257.7,211.3 C258.7,210.5 259.6,209.4 260.6,208.3 C261.6,207.2 262.5,206.0 263.5,204.8 C264.4,203.5 265.4,202.2 266.3,200.9 C267.3,199.6 268.2,198.9 269.2,197.0 C270.2,195.1 271.5,191.2 272.3,189.5 C273.2,187.8 273.7,187.5 274.4,186.9 C275.1,186.3 275.8,186.1 276.5,185.8 C277.2,185.6 277.8,185.8 278.5,185.6 C279.2,185.5 279.9,185.3 280.6,185.1 C281.3,184.9 282.0,184.6 282.7,184.3 C283.3,184.0 284.1,183.5 284.7,183.3 C285.3,183.1 285.8,182.8 286.3,183.1 C286.8,183.3 287.2,184.1 287.8,184.8 C288.4,185.5 289.3,186.7 289.9,187.4 C290.5,188.1 290.8,188.2 291.4,189.0 C292.0,189.8 292.7,190.9 293.5,192.3 C294.3,193.7 295.4,195.5 296.4,197.3 C297.3,199.1 298.3,201.2 299.2,203.0 C300.2,204.9 301.1,206.9 302.1,208.5 C303.0,210.0 304.0,211.3 304.9,212.3 C305.9,213.3 306.9,214.0 307.8,214.5 C308.8,215.0 309.5,215.2 310.7,215.3 C311.9,215.5 313.5,215.5 315.0,215.5 C316.4,215.5 317.9,215.5 319.3,215.5 C320.6,215.5 322.2,215.5 322.8,215.5" fill="none" stroke="#000" class="cvm" stroke-width="0.9"/></mask>
<path d="M247.7,215.3 C248.4,215.2 250.8,214.9 252.0,214.5 C253.2,214.1 253.9,213.7 254.9,213.1 C255.8,212.5 256.8,211.7 257.7,210.9 C258.7,210.1 259.6,209.1 260.6,208.1 C261.6,207.0 262.5,206.1 263.5,204.8 C264.4,203.4 265.5,201.7 266.3,200.2 C267.1,198.7 267.5,196.9 268.2,195.7 C268.9,194.4 269.6,193.5 270.3,192.6 C271.0,191.6 271.6,190.8 272.3,190.0 C273.0,189.2 273.7,188.4 274.4,187.9 C275.1,187.4 275.8,187.3 276.5,186.9 C277.2,186.4 277.8,185.9 278.5,185.3 C279.2,184.7 279.9,184.0 280.6,183.3 C281.3,182.5 282.1,181.5 282.7,181.0 C283.2,180.5 283.3,180.2 283.7,180.4 C284.1,180.5 284.6,181.3 285.2,182.0 C285.8,182.8 286.5,183.8 287.3,184.8 C288.1,185.8 288.9,186.7 289.9,187.9 C290.8,189.1 292.1,190.6 293.0,192.0 C293.9,193.5 294.5,195.6 295.1,196.7 C295.6,197.8 295.7,197.3 296.4,198.8 C297.1,200.2 298.3,203.3 299.2,205.2 C300.2,207.1 301.1,208.8 302.1,210.2 C303.0,211.6 304.0,212.6 304.9,213.3 C305.9,214.1 306.9,214.6 307.8,214.9 C308.8,215.3 309.5,215.3 310.7,215.3 C311.9,215.4 313.5,215.5 315.0,215.5 C316.4,215.5 317.9,215.5 319.3,215.5 C320.6,215.5 322.2,215.5 322.8,215.5" fill="none" stroke="#3232ff" class="cv" mask="url(#m21)"/>
<path d="M247.7,215.3 C248.4,215.3 250.8,215.1 252.0,214.8 C253.2,214.5 253.9,214.1 254.9,213.5 C255.8,212.9 256.8,212.2 257.7,211.3 C258.7,210.5 259.6,209.4 260.6,208.3 C261.6,207.2 262.5,206.0 263.5,204.8 C264.4,203.5 265.4,202.2 266.3,200.9 C267.3,199.6 268.2,198.9 269.2,197.0 C270.2,195.1 271.5,191.2 272.3,189.5 C273.2,187.8 273.7,187.5 274.4,186.9 C275.1,186.3 275.8,186.1 276.5,185.8 C277.2,185.6 277.8,185.8 278.5,185.6 C279.2,185.5 279.9,185.3 280.6,185.1 C281.3,184.9 282.0,184.6 282.7,184.3 C283.3,184.0 284.1,183.5 284.7,183.3 C285.3,183.1 285.8,182.8 286.3,183.1 C286.8,183.3 287.2,184.1 287.8,184.8 C288.4,185.5 289.3,186.7 289.9,187.4 C290.5,188.1 290.8,188.2 291.4,189.0 C292.0,189.8 292.7,190.9 293.5,192.3 C294.3,193.7 295.4,195.5 296.4,197.3 C297.3,199.1 298.3,201.2 299.2,203.0 C300.2,204.9 301.1,206.9 302.1,208.5 C303.0,210.0 304.0,211.3 304.9,212.3 C305.9,213.3 306.9,214.0 307.8,214.5 C308.8,215.0 309.5,215.2 310.7,215.3 C311.9,215.5 313.5,215.5 315.0,215.5 C316.4,215.5 317.9,215.5 319.3,215.5 C320.6,215.5 322.2,215.5 322.8,215.5" fill="none" stroke="#ff3232" class="cv"/>
<line x1="12.46" y1="295.06" x2="106.60" y2="295.06" class="g"/>
<line x1="12.46" y1="287.62" x2="106.60" y2="287.62" class="g"/>
<line x1="12.46" y1="280.18" x2="106.60" y2="280.18" class="g"/>
<line x1="12.46" y1="272.74" x2="106.60" y2="272.74" class="g"/>
<line x1="12.46" y1="265.30" x2="106.60" y2="265.30" class="g"/>
<line x1="12.46" y1="257.87" x2="106.60" y2="257.87" class="g"/>
<line x1="14.01" y1="255.00" x2="14.01" y2="296.80" class="g"/>
<line x1="36.54" y1="255.00" x2="36.54" y2="296.80" class="g"/>
<line x1="59.07" y1="255.00" x2="59.07" y2="296.80" class="g"/>
<line x1="81.60" y1="255.00" x2="81.60" y2="296.80" class="g"/>
<line x1="104.14" y1="255.00" x2="104.14" y2="296.80" class="g"/>
<path d="M11.86,255.00 L11.86,297.40 L106.60,297.40" class="ax"/>
<line x1="10.26" y1="295.06" x2="11.86" y2="295.06" class="tk"/>
<text x="9.96" y="296.46" class="tl" text-anchor="end">0</text>
<line x1="10.26" y1="287.62" x2="11.86" y2="287.62" class="tk"/>
<text x="9.96" y="289.02" class="tl" text-anchor="end">.1</text>
<line x1="10.26" y1="280.18" x2="11.86" y2="280.18" class="tk"/>
<text x="9.96" y="281.58" class="tl" text-anchor="end">.2</text>
<line x1="10.26" y1="272.74" x2="11.86" y2="272.74" class="tk"/>
<text x="9.96" y="274.14" class="tl" text-anchor="end">.3</text>
<line x1="10.26" y1="265.30" x2="11.86" y2="265.30" class="tk"/>
<text x="9.96" y="266.70" class="tl" text-anchor="end">.4</text>
<line x1="10.26" y1="257.87" x2="11.86" y2="257.87" class="tk"/>
<text x="9.96" y="259.27" class="tl" text-anchor="end">.5</text>
<line x1="14.01" y1="297.40" x2="14.01" y2="299.00" class="tk"/>
<text x="14.01" y="302.50" class="tl" text-anchor="middle">-4</text>
<line x1="36.54" y1="297.40" x2="36.54" y2="299.00" class="tk"/>
<text x="36.54" y="302.50" class="tl" text-anchor="middle">-2</text>
<line x1="59.07" y1="297.40" x2="59.07" y2="299.00" class="tk"/>
<text x="59.07" y="302.50" class="tl" text-anchor="middle">0</text>
<line x1="81.60" y1="297.40" x2="81.60" y2="299.00" class="tk"/>
<text x="81.60" y="302.50" class="tl" text-anchor="middle">2</text>
<line x1="104.14" y1="297.40" x2="104.14" y2="299.00" class="tk"/>
<text x="104.14" y="302.50" class="tl" text-anchor="middle">4</text>
<text x="59.53" y="307.90" class="xl" text-anchor="middle">x</text>
<text transform="translate(3.10,276.55) rotate(-90)" x="0" y="0" class="yl" text-anchor="middle">Intensity</text>
<text x="59.23" y="253.60" class="st" text-anchor="middle">Before Weighting</text>
<mask id="m22" maskUnits="userSpaceOnUse" x="0" y="0" width="685" height="387"><rect x="0" y="0" width="685" height="387" fill="#fff"/><path d="M28.3,290.9 C28.7,291.1 29.9,291.6 30.5,292.1 C31.1,292.5 31.5,293.1 31.9,293.5 C32.3,293.9 32.6,294.6 33.0,294.5 C33.5,294.4 34.1,293.4 34.8,292.8 C35.4,292.1 36.2,291.3 36.9,290.6 C37.6,290.0 38.3,289.4 39.0,288.9 C39.8,288.4 40.4,288.0 41.2,287.5 C42.0,286.9 43.2,286.3 44.1,285.6 C44.9,285.0 45.5,284.2 46.2,283.5 C46.9,282.8 47.6,282.2 48.3,281.3 C49.1,280.5 49.9,279.5 50.5,278.5 C51.1,277.4 51.4,276.3 51.9,274.9 C52.4,273.5 52.9,271.4 53.3,269.9 C53.8,268.3 54.3,266.7 54.8,265.6 C55.2,264.5 55.6,263.9 56.0,263.3 C56.4,262.7 56.7,262.4 57.0,262.0 C57.4,261.7 57.6,261.3 58.1,261.2 C58.5,261.1 59.1,261.3 59.6,261.4 C60.1,261.5 60.6,261.7 61.2,262.0 C61.7,262.3 62.3,262.8 62.7,263.3 C63.1,263.7 63.4,264.0 63.7,264.8 C64.1,265.6 64.3,266.7 64.8,267.9 C65.2,269.1 65.7,270.7 66.3,272.0 C66.9,273.4 67.5,274.7 68.4,276.2 C69.2,277.6 70.4,279.2 71.5,280.8 C72.6,282.5 74.1,284.8 75.0,286.0 C75.9,287.1 76.3,287.4 77.0,287.8 C77.6,288.2 78.4,288.1 79.1,288.5 C79.8,288.9 80.6,289.7 81.2,290.3 C81.8,290.9 82.2,291.6 82.7,292.1 C83.2,292.5 83.6,293.1 84.1,293.1 C84.6,293.0 85.1,292.2 85.5,291.8 C86.0,291.3 86.5,290.7 87.0,290.3 C87.4,290.0 88.2,289.6 88.4,289.5" fill="none" stroke="#000" class="cvm" stroke-width="0.9"/></mask>
<path d="M28.3,289.2 C28.6,289.3 29.6,289.3 30.2,289.9 C30.8,290.5 31.4,292.1 31.9,292.8 C32.4,293.5 32.7,294.2 33.0,294.2 C33.4,294.2 33.6,293.5 34.0,292.8 C34.4,292.1 34.9,290.7 35.5,289.9 C36.1,289.1 36.9,288.3 37.6,287.8 C38.3,287.2 39.0,286.9 39.8,286.6 C40.5,286.3 41.2,286.6 41.9,286.0 C42.6,285.5 43.3,284.2 44.1,283.2 C44.8,282.2 45.5,281.0 46.2,279.9 C46.9,278.8 47.6,277.7 48.3,276.6 C49.1,275.5 49.9,274.4 50.5,273.2 C51.1,271.9 51.4,270.6 51.9,269.2 C52.4,267.8 52.9,266.3 53.3,264.9 C53.8,263.5 54.3,261.9 54.8,260.9 C55.3,259.8 55.9,258.5 56.5,258.4 C57.1,258.3 57.8,259.3 58.4,260.3 C58.9,261.3 59.3,262.9 59.8,264.2 C60.3,265.4 60.6,266.7 61.2,268.0 C61.8,269.3 62.6,270.8 63.4,272.0 C64.1,273.2 64.8,274.3 65.5,275.2 C66.2,276.1 66.9,276.6 67.7,277.5 C68.4,278.4 69.1,279.5 69.8,280.6 C70.5,281.7 71.2,283.1 71.9,284.2 C72.7,285.3 73.4,286.3 74.1,287.1 C74.8,287.8 75.5,288.2 76.2,288.5 C77.0,288.8 77.7,288.6 78.4,288.9 C79.1,289.3 79.9,290.0 80.5,290.6 C81.1,291.3 81.5,292.2 82.0,292.8 C82.4,293.4 82.9,294.1 83.4,294.2 C83.9,294.3 84.2,293.8 84.8,293.5 C85.4,293.1 86.4,292.4 87.0,292.1 C87.6,291.7 88.2,291.5 88.4,291.3" fill="none" stroke="#3232ff" class="cv" mask="url(#m22)"/>
<path d="M28.3,290.9 C28.7,291.1 29.9,291.6 30.5,292.1 C31.1,292.5 31.5,293.1 31.9,293.5 C32.3,293.9 32.6,294.6 33.0,294.5 C33.5,294.4 34.1,293.4 34.8,292.8 C35.4,292.1 36.2,291.3 36.9,290.6 C37.6,290.0 38.3,289.4 39.0,288.9 C39.8,288.4 40.4,288.0 41.2,287.5 C42.0,286.9 43.2,286.3 44.1,285.6 C44.9,285.0 45.5,284.2 46.2,283.5 C46.9,282.8 47.6,282.2 48.3,281.3 C49.1,280.5 49.9,279.5 50.5,278.5 C51.1,277.4 51.4,276.3 51.9,274.9 C52.4,273.5 52.9,271.4 53.3,269.9 C53.8,268.3 54.3,266.7 54.8,265.6 C55.2,264.5 55.6,263.9 56.0,263.3 C56.4,262.7 56.7,262.4 57.0,262.0 C57.4,261.7 57.6,261.3 58.1,261.2 C58.5,261.1 59.1,261.3 59.6,261.4 C60.1,261.5 60.6,261.7 61.2,262.0 C61.7,262.3 62.3,262.8 62.7,263.3 C63.1,263.7 63.4,264.0 63.7,264.8 C64.1,265.6 64.3,266.7 64.8,267.9 C65.2,269.1 65.7,270.7 66.3,272.0 C66.9,273.4 67.5,274.7 68.4,276.2 C69.2,277.6 70.4,279.2 71.5,280.8 C72.6,282.5 74.1,284.8 75.0,286.0 C75.9,287.1 76.3,287.4 77.0,287.8 C77.6,288.2 78.4,288.1 79.1,288.5 C79.8,288.9 80.6,289.7 81.2,290.3 C81.8,290.9 82.2,291.6 82.7,292.1 C83.2,292.5 83.6,293.1 84.1,293.1 C84.6,293.0 85.1,292.2 85.5,291.8 C86.0,291.3 86.5,290.7 87.0,290.3 C87.4,290.0 88.2,289.6 88.4,289.5" fill="none" stroke="#ff3232" class="cv"/>
<line x1="126.75" y1="295.06" x2="221.50" y2="295.06" class="g"/>
<line x1="126.75" y1="287.62" x2="221.50" y2="287.62" class="g"/>
<line x1="126.75" y1="280.18" x2="221.50" y2="280.18" class="g"/>
<line x1="126.75" y1="272.74" x2="221.50" y2="272.74" class="g"/>
<line x1="126.75" y1="265.30" x2="221.50" y2="265.30" class="g"/>
<line x1="126.75" y1="257.87" x2="221.50" y2="257.87" class="g"/>
<line x1="128.72" y1="255.00" x2="128.72" y2="296.80" class="g"/>
<line x1="151.32" y1="255.00" x2="151.32" y2="296.80" class="g"/>
<line x1="173.93" y1="255.00" x2="173.93" y2="296.80" class="g"/>
<line x1="196.53" y1="255.00" x2="196.53" y2="296.80" class="g"/>
<line x1="219.14" y1="255.00" x2="219.14" y2="296.80" class="g"/>
<path d="M126.15,255.00 L126.15,297.40 L221.50,297.40" class="ax"/>
<line x1="124.55" y1="295.06" x2="126.15" y2="295.06" class="tk"/>
<text x="124.25" y="296.46" class="tl" text-anchor="end">0</text>
<line x1="124.55" y1="287.62" x2="126.15" y2="287.62" class="tk"/>
<text x="124.25" y="289.02" class="tl" text-anchor="end">.1</text>
<line x1="124.55" y1="280.18" x2="126.15" y2="280.18" class="tk"/>
<text x="124.25" y="281.58" class="tl" text-anchor="end">.2</text>
<line x1="124.55" y1="272.74" x2="126.15" y2="272.74" class="tk"/>
<text x="124.25" y="274.14" class="tl" text-anchor="end">.3</text>
<line x1="124.55" y1="265.30" x2="126.15" y2="265.30" class="tk"/>
<text x="124.25" y="266.70" class="tl" text-anchor="end">.4</text>
<line x1="124.55" y1="257.87" x2="126.15" y2="257.87" class="tk"/>
<text x="124.25" y="259.27" class="tl" text-anchor="end">.5</text>
<line x1="128.72" y1="297.40" x2="128.72" y2="299.00" class="tk"/>
<text x="128.72" y="302.50" class="tl" text-anchor="middle">-4</text>
<line x1="151.32" y1="297.40" x2="151.32" y2="299.00" class="tk"/>
<text x="151.32" y="302.50" class="tl" text-anchor="middle">-2</text>
<line x1="173.93" y1="297.40" x2="173.93" y2="299.00" class="tk"/>
<text x="173.93" y="302.50" class="tl" text-anchor="middle">0</text>
<line x1="196.53" y1="297.40" x2="196.53" y2="299.00" class="tk"/>
<text x="196.53" y="302.50" class="tl" text-anchor="middle">2</text>
<line x1="219.14" y1="297.40" x2="219.14" y2="299.00" class="tk"/>
<text x="219.14" y="302.50" class="tl" text-anchor="middle">4</text>
<text x="174.12" y="307.90" class="xl" text-anchor="middle">x</text>
<text transform="translate(117.60,276.55) rotate(-90)" x="0" y="0" class="yl" text-anchor="middle">Intensity</text>
<text x="173.82" y="253.60" class="st" text-anchor="middle">After ATT Weighting</text>
<mask id="m23" maskUnits="userSpaceOnUse" x="0" y="0" width="685" height="387"><rect x="0" y="0" width="685" height="387" fill="#fff"/><path d="M143.3,290.9 C143.6,291.1 144.6,291.5 145.2,292.1 C145.8,292.6 146.4,294.0 146.9,294.2 C147.4,294.4 147.7,294.0 148.3,293.5 C148.9,292.9 149.8,291.7 150.5,290.9 C151.2,290.1 151.9,289.3 152.6,288.9 C153.3,288.5 154.3,288.5 154.8,288.5 C155.2,288.4 154.7,289.0 155.3,288.6 C155.9,288.2 157.4,287.1 158.4,286.0 C159.5,284.9 160.5,283.4 161.5,282.1 C162.6,280.8 163.9,279.4 164.6,278.2 C165.4,277.1 165.7,276.6 166.2,275.1 C166.7,273.7 167.2,271.1 167.7,269.5 C168.2,267.8 168.8,266.4 169.3,265.3 C169.8,264.2 170.3,263.4 170.8,262.7 C171.3,262.1 171.9,261.6 172.4,261.4 C172.9,261.2 173.3,261.2 173.9,261.4 C174.5,261.6 175.3,261.9 176.0,262.4 C176.7,263.0 177.4,263.6 178.1,264.8 C178.7,266.0 179.4,268.0 180.1,269.5 C180.8,270.9 181.5,272.3 182.2,273.6 C182.9,274.9 183.4,276.2 184.1,277.5 C184.8,278.8 185.5,280.1 186.2,281.3 C186.9,282.5 187.7,283.7 188.4,284.6 C189.1,285.5 189.8,286.1 190.5,286.6 C191.2,287.1 192.0,287.4 192.7,287.8 C193.4,288.1 194.1,288.4 194.8,288.9 C195.5,289.4 196.4,290.0 197.0,290.6 C197.6,291.3 197.9,292.5 198.4,292.8 C198.9,293.1 199.2,292.7 199.8,292.3 C200.4,291.9 201.4,290.8 202.0,290.3 C202.6,289.9 203.2,289.6 203.4,289.5" fill="none" stroke="#000" class="cvm" stroke-width="0.9"/></mask>
<path d="M143.3,291.3 C143.6,291.6 144.6,292.2 145.2,292.8 C145.8,293.3 146.4,294.4 146.9,294.5 C147.4,294.6 147.7,294.0 148.3,293.5 C148.9,293.0 149.8,292.0 150.5,291.3 C151.2,290.7 151.9,289.9 152.6,289.5 C153.3,289.1 154.3,289.0 154.8,288.9 C155.2,288.8 154.7,289.6 155.3,289.1 C155.9,288.6 157.4,287.3 158.4,286.0 C159.5,284.7 160.6,282.8 161.5,281.3 C162.5,279.9 163.4,278.5 164.1,277.2 C164.8,275.9 165.1,275.1 165.7,273.6 C166.2,272.1 166.7,270.1 167.2,268.4 C167.7,266.8 168.2,265.1 168.8,263.8 C169.3,262.5 169.8,261.4 170.3,260.7 C170.8,259.9 171.2,259.4 171.7,259.3 C172.1,259.3 172.4,259.7 172.9,260.4 C173.4,261.0 173.9,262.1 174.4,263.3 C175.0,264.4 175.4,266.0 176.0,267.4 C176.6,268.8 177.4,270.5 178.1,271.5 C178.7,272.6 179.4,273.0 180.1,273.6 C180.8,274.2 181.8,274.8 182.2,275.1 C182.6,275.5 182.2,275.1 182.7,275.6 C183.1,276.2 184.1,277.4 184.8,278.5 C185.5,279.5 186.2,280.9 186.9,282.0 C187.7,283.2 188.4,284.4 189.1,285.2 C189.8,286.0 190.5,286.6 191.2,287.1 C192.0,287.5 192.7,287.6 193.4,288.1 C194.1,288.5 194.9,289.2 195.5,289.9 C196.1,290.6 196.5,291.4 197.0,292.1 C197.4,292.7 197.9,293.7 198.4,293.8 C198.9,293.8 199.2,292.9 199.8,292.3 C200.4,291.8 201.4,290.8 202.0,290.3 C202.6,289.9 203.2,289.6 203.4,289.5" fill="none" stroke="#3232ff" class="cv" mask="url(#m23)"/>
<path d="M143.3,290.9 C143.6,291.1 144.6,291.5 145.2,292.1 C145.8,292.6 146.4,294.0 146.9,294.2 C147.4,294.4 147.7,294.0 148.3,293.5 C148.9,292.9 149.8,291.7 150.5,290.9 C151.2,290.1 151.9,289.3 152.6,288.9 C153.3,288.5 154.3,288.5 154.8,288.5 C155.2,288.4 154.7,289.0 155.3,288.6 C155.9,288.2 157.4,287.1 158.4,286.0 C159.5,284.9 160.5,283.4 161.5,282.1 C162.6,280.8 163.9,279.4 164.6,278.2 C165.4,277.1 165.7,276.6 166.2,275.1 C166.7,273.7 167.2,271.1 167.7,269.5 C168.2,267.8 168.8,266.4 169.3,265.3 C169.8,264.2 170.3,263.4 170.8,262.7 C171.3,262.1 171.9,261.6 172.4,261.4 C172.9,261.2 173.3,261.2 173.9,261.4 C174.5,261.6 175.3,261.9 176.0,262.4 C176.7,263.0 177.4,263.6 178.1,264.8 C178.7,266.0 179.4,268.0 180.1,269.5 C180.8,270.9 181.5,272.3 182.2,273.6 C182.9,274.9 183.4,276.2 184.1,277.5 C184.8,278.8 185.5,280.1 186.2,281.3 C186.9,282.5 187.7,283.7 188.4,284.6 C189.1,285.5 189.8,286.1 190.5,286.6 C191.2,287.1 192.0,287.4 192.7,287.8 C193.4,288.1 194.1,288.4 194.8,288.9 C195.5,289.4 196.4,290.0 197.0,290.6 C197.6,291.3 197.9,292.5 198.4,292.8 C198.9,293.1 199.2,292.7 199.8,292.3 C200.4,291.9 201.4,290.8 202.0,290.3 C202.6,289.9 203.2,289.6 203.4,289.5" fill="none" stroke="#ff3232" class="cv"/>
<line x1="241.32" y1="295.06" x2="335.70" y2="295.06" class="g"/>
<line x1="241.32" y1="287.62" x2="335.70" y2="287.62" class="g"/>
<line x1="241.32" y1="280.18" x2="335.70" y2="280.18" class="g"/>
<line x1="241.32" y1="272.74" x2="335.70" y2="272.74" class="g"/>
<line x1="241.32" y1="265.30" x2="335.70" y2="265.30" class="g"/>
<line x1="241.32" y1="257.87" x2="335.70" y2="257.87" class="g"/>
<line x1="243.29" y1="255.00" x2="243.29" y2="296.80" class="g"/>
<line x1="265.90" y1="255.00" x2="265.90" y2="296.80" class="g"/>
<line x1="288.50" y1="255.00" x2="288.50" y2="296.80" class="g"/>
<line x1="311.10" y1="255.00" x2="311.10" y2="296.80" class="g"/>
<line x1="333.71" y1="255.00" x2="333.71" y2="296.80" class="g"/>
<path d="M240.72,255.00 L240.72,297.40 L335.70,297.40" class="ax"/>
<line x1="239.12" y1="295.06" x2="240.72" y2="295.06" class="tk"/>
<text x="238.82" y="296.46" class="tl" text-anchor="end">0</text>
<line x1="239.12" y1="287.62" x2="240.72" y2="287.62" class="tk"/>
<text x="238.82" y="289.02" class="tl" text-anchor="end">.1</text>
<line x1="239.12" y1="280.18" x2="240.72" y2="280.18" class="tk"/>
<text x="238.82" y="281.58" class="tl" text-anchor="end">.2</text>
<line x1="239.12" y1="272.74" x2="240.72" y2="272.74" class="tk"/>
<text x="238.82" y="274.14" class="tl" text-anchor="end">.3</text>
<line x1="239.12" y1="265.30" x2="240.72" y2="265.30" class="tk"/>
<text x="238.82" y="266.70" class="tl" text-anchor="end">.4</text>
<line x1="239.12" y1="257.87" x2="240.72" y2="257.87" class="tk"/>
<text x="238.82" y="259.27" class="tl" text-anchor="end">.5</text>
<line x1="243.29" y1="297.40" x2="243.29" y2="299.00" class="tk"/>
<text x="243.29" y="302.50" class="tl" text-anchor="middle">-4</text>
<line x1="265.90" y1="297.40" x2="265.90" y2="299.00" class="tk"/>
<text x="265.90" y="302.50" class="tl" text-anchor="middle">-2</text>
<line x1="288.50" y1="297.40" x2="288.50" y2="299.00" class="tk"/>
<text x="288.50" y="302.50" class="tl" text-anchor="middle">0</text>
<line x1="311.10" y1="297.40" x2="311.10" y2="299.00" class="tk"/>
<text x="311.10" y="302.50" class="tl" text-anchor="middle">2</text>
<line x1="333.71" y1="297.40" x2="333.71" y2="299.00" class="tk"/>
<text x="333.71" y="302.50" class="tl" text-anchor="middle">4</text>
<text x="288.51" y="307.90" class="xl" text-anchor="middle">x</text>
<text transform="translate(232.50,276.55) rotate(-90)" x="0" y="0" class="yl" text-anchor="middle">Intensity</text>
<text x="288.21" y="253.60" class="st" text-anchor="middle">After ATC Weighting</text>
<mask id="m24" maskUnits="userSpaceOnUse" x="0" y="0" width="685" height="387"><rect x="0" y="0" width="685" height="387" fill="#fff"/><path d="M257.6,288.5 C258.0,288.8 259.0,289.8 259.7,290.6 C260.5,291.5 261.3,293.2 261.9,293.5 C262.5,293.8 262.7,293.0 263.3,292.3 C263.9,291.7 264.8,290.4 265.5,289.5 C266.2,288.6 266.9,287.8 267.6,287.1 C268.3,286.3 269.0,285.7 269.8,285.2 C270.5,284.7 271.2,284.7 271.9,284.2 C272.6,283.7 273.3,283.0 274.1,282.3 C274.8,281.6 275.5,280.8 276.2,279.9 C276.9,279.0 277.6,278.3 278.3,277.0 C279.1,275.8 280.0,274.2 280.7,272.6 C281.3,271.0 281.7,268.8 282.2,267.4 C282.7,266.0 283.2,265.1 283.8,264.3 C284.3,263.5 284.8,262.8 285.3,262.4 C285.8,262.1 286.3,262.0 286.9,262.0 C287.4,262.1 287.9,262.3 288.4,262.7 C288.9,263.2 289.4,264.3 290.0,264.8 C290.5,265.3 291.0,265.2 291.5,265.8 C292.0,266.4 292.5,267.2 293.1,268.4 C293.6,269.6 294.1,271.8 294.6,273.1 C295.1,274.4 295.6,275.1 296.2,276.2 C296.8,277.2 297.5,278.2 298.2,279.3 C298.9,280.3 299.4,281.2 300.3,282.4 C301.2,283.6 302.4,285.4 303.4,286.5 C304.4,287.6 305.4,288.4 306.5,289.1 C307.6,289.8 309.2,290.1 310.0,290.6 C310.8,291.2 310.8,291.9 311.2,292.3 C311.7,292.8 312.1,293.5 312.7,293.5 C313.3,293.5 314.1,292.6 314.8,292.3 C315.5,292.1 316.5,292.1 317.0,292.1 C317.4,292.1 317.6,292.3 317.7,292.3" fill="none" stroke="#000" class="cvm" stroke-width="0.9"/></mask>
<path d="M257.6,289.2 C258.0,289.7 259.0,291.2 259.7,292.1 C260.5,292.9 261.3,294.2 261.9,294.2 C262.5,294.3 262.7,293.1 263.3,292.3 C263.9,291.6 264.8,290.2 265.5,289.5 C266.2,288.7 266.9,288.3 267.6,287.8 C268.3,287.2 269.0,286.8 269.8,286.3 C270.5,285.9 271.2,285.8 271.9,285.2 C272.6,284.6 273.3,283.7 274.1,282.8 C274.8,281.8 275.5,280.6 276.2,279.5 C276.9,278.3 277.6,277.4 278.3,276.0 C279.1,274.7 280.0,273.1 280.7,271.5 C281.3,269.9 281.7,267.9 282.2,266.4 C282.7,264.8 283.2,263.4 283.8,262.2 C284.3,261.1 284.9,260.3 285.3,259.6 C285.7,259.0 285.9,258.5 286.3,258.6 C286.8,258.7 287.4,259.3 287.9,260.2 C288.4,261.0 288.9,262.4 289.4,263.8 C290.0,265.2 290.5,267.0 291.0,268.4 C291.5,269.9 291.9,271.4 292.5,272.6 C293.1,273.8 293.9,274.7 294.6,275.7 C295.3,276.6 295.9,277.2 296.7,278.2 C297.4,279.3 298.3,280.6 299.3,281.9 C300.2,283.2 301.3,284.9 302.4,286.0 C303.4,287.1 304.2,287.8 305.5,288.6 C306.7,289.3 309.0,290.1 310.0,290.6 C311.0,291.2 310.8,291.5 311.2,292.1 C311.7,292.6 312.1,293.7 312.7,293.8 C313.3,293.9 314.1,293.1 314.8,292.8 C315.5,292.4 316.5,291.9 317.0,291.8 C317.4,291.6 317.6,291.8 317.7,291.8" fill="none" stroke="#3232ff" class="cv" mask="url(#m24)"/>
<path d="M257.6,288.5 C258.0,288.8 259.0,289.8 259.7,290.6 C260.5,291.5 261.3,293.2 261.9,293.5 C262.5,293.8 262.7,293.0 263.3,292.3 C263.9,291.7 264.8,290.4 265.5,289.5 C266.2,288.6 266.9,287.8 267.6,287.1 C268.3,286.3 269.0,285.7 269.8,285.2 C270.5,284.7 271.2,284.7 271.9,284.2 C272.6,283.7 273.3,283.0 274.1,282.3 C274.8,281.6 275.5,280.8 276.2,279.9 C276.9,279.0 277.6,278.3 278.3,277.0 C279.1,275.8 280.0,274.2 280.7,272.6 C281.3,271.0 281.7,268.8 282.2,267.4 C282.7,266.0 283.2,265.1 283.8,264.3 C284.3,263.5 284.8,262.8 285.3,262.4 C285.8,262.1 286.3,262.0 286.9,262.0 C287.4,262.1 287.9,262.3 288.4,262.7 C288.9,263.2 289.4,264.3 290.0,264.8 C290.5,265.3 291.0,265.2 291.5,265.8 C292.0,266.4 292.5,267.2 293.1,268.4 C293.6,269.6 294.1,271.8 294.6,273.1 C295.1,274.4 295.6,275.1 296.2,276.2 C296.8,277.2 297.5,278.2 298.2,279.3 C298.9,280.3 299.4,281.2 300.3,282.4 C301.2,283.6 302.4,285.4 303.4,286.5 C304.4,287.6 305.4,288.4 306.5,289.1 C307.6,289.8 309.2,290.1 310.0,290.6 C310.8,291.2 310.8,291.9 311.2,292.3 C311.7,292.8 312.1,293.5 312.7,293.5 C313.3,293.5 314.1,292.6 314.8,292.3 C315.5,292.1 316.5,292.1 317.0,292.1 C317.4,292.1 317.6,292.3 317.7,292.3" fill="none" stroke="#ff3232" class="cv"/>
<line x1="12.18" y1="374.49" x2="106.60" y2="374.49" class="g"/>
<line x1="12.18" y1="367.31" x2="106.60" y2="367.31" class="g"/>
<line x1="12.18" y1="360.13" x2="106.60" y2="360.13" class="g"/>
<line x1="12.18" y1="352.95" x2="106.60" y2="352.95" class="g"/>
<line x1="12.18" y1="345.76" x2="106.60" y2="345.76" class="g"/>
<line x1="12.18" y1="338.58" x2="106.60" y2="338.58" class="g"/>
<line x1="21.16" y1="334.60" x2="21.16" y2="375.80" class="g"/>
<line x1="41.90" y1="334.60" x2="41.90" y2="375.80" class="g"/>
<line x1="62.65" y1="334.60" x2="62.65" y2="375.80" class="g"/>
<line x1="83.39" y1="334.60" x2="83.39" y2="375.80" class="g"/>
<line x1="104.14" y1="334.60" x2="104.14" y2="375.80" class="g"/>
<path d="M11.58,334.60 L11.58,376.40 L106.60,376.40" class="ax"/>
<line x1="9.98" y1="374.49" x2="11.58" y2="374.49" class="tk"/>
<text x="9.68" y="375.89" class="tl" text-anchor="end">0</text>
<line x1="9.98" y1="367.31" x2="11.58" y2="367.31" class="tk"/>
<text x="9.68" y="368.71" class="tl" text-anchor="end">.1</text>
<line x1="9.98" y1="360.13" x2="11.58" y2="360.13" class="tk"/>
<text x="9.68" y="361.53" class="tl" text-anchor="end">.2</text>
<line x1="9.98" y1="352.95" x2="11.58" y2="352.95" class="tk"/>
<text x="9.68" y="354.35" class="tl" text-anchor="end">.3</text>
<line x1="9.98" y1="345.76" x2="11.58" y2="345.76" class="tk"/>
<text x="9.68" y="347.16" class="tl" text-anchor="end">.4</text>
<line x1="9.98" y1="338.58" x2="11.58" y2="338.58" class="tk"/>
<text x="9.68" y="339.98" class="tl" text-anchor="end">.5</text>
<line x1="21.16" y1="376.40" x2="21.16" y2="378.00" class="tk"/>
<text x="21.16" y="381.50" class="tl" text-anchor="middle">-2</text>
<line x1="41.90" y1="376.40" x2="41.90" y2="378.00" class="tk"/>
<text x="41.90" y="381.50" class="tl" text-anchor="middle">-1</text>
<line x1="62.65" y1="376.40" x2="62.65" y2="378.00" class="tk"/>
<text x="62.65" y="381.50" class="tl" text-anchor="middle">0</text>
<line x1="83.39" y1="376.40" x2="83.39" y2="378.00" class="tk"/>
<text x="83.39" y="381.50" class="tl" text-anchor="middle">1</text>
<line x1="104.14" y1="376.40" x2="104.14" y2="378.00" class="tk"/>
<text x="104.14" y="381.50" class="tl" text-anchor="middle">2</text>
<text x="59.39" y="386.90" class="xl" text-anchor="middle">x</text>
<text transform="translate(3.10,355.85) rotate(-90)" x="0" y="0" class="yl" text-anchor="middle">Intensity</text>
<text x="59.09" y="333.10" class="st" text-anchor="middle">Before Weighting</text>
<mask id="m25" maskUnits="userSpaceOnUse" x="0" y="0" width="685" height="387"><rect x="0" y="0" width="685" height="387" fill="#fff"/><path d="M14.0,369.3 C14.5,369.5 15.9,369.9 16.9,370.3 C17.8,370.8 18.9,371.7 19.7,372.2 C20.6,372.7 21.0,373.2 21.9,373.3 C22.7,373.5 23.8,373.3 24.7,373.1 C25.7,372.9 26.6,372.5 27.6,372.2 C28.6,371.9 29.4,371.7 30.5,371.3 C31.5,371.0 33.3,370.6 34.0,370.3 C34.8,370.1 34.3,370.2 35.0,369.6 C35.7,369.0 37.1,367.5 38.1,366.5 C39.1,365.5 40.2,364.4 41.2,363.4 C42.2,362.5 43.3,361.6 44.3,360.8 C45.3,360.0 46.5,359.2 47.4,358.6 C48.3,357.9 48.9,357.6 49.5,356.7 C50.1,355.8 50.4,354.4 51.0,353.1 C51.6,351.8 52.4,349.8 53.1,348.9 C53.8,348.1 54.5,348.1 55.1,348.2 C55.8,348.3 56.6,349.1 57.2,349.5 C57.8,349.8 58.2,351.3 58.8,350.5 C59.3,349.7 59.8,346.6 60.3,344.8 C60.9,343.0 61.5,340.8 62.1,339.6 C62.6,338.5 62.9,338.3 63.4,338.1 C63.9,337.9 64.5,338.3 65.0,338.6 C65.4,339.0 65.6,340.0 66.0,340.2 C66.4,340.3 67.0,339.6 67.5,339.6 C68.1,339.6 68.6,339.7 69.1,340.2 C69.6,340.6 70.1,341.4 70.6,342.2 C71.2,343.1 71.7,344.0 72.2,345.3 C72.7,346.7 73.2,348.9 73.7,350.5 C74.3,352.0 74.7,353.9 75.3,354.6 C75.9,355.4 76.7,355.0 77.4,355.1 C78.0,355.3 78.7,355.7 79.4,355.7 C80.1,355.6 80.8,354.9 81.5,354.6 C82.2,354.4 83.0,354.1 83.6,354.1 C84.1,354.1 84.7,354.2 85.0,354.6 C85.3,355.0 85.1,355.7 85.5,356.5 C86.0,357.2 87.0,358.6 87.7,359.3 C88.4,360.1 89.1,360.2 89.8,361.0 C90.5,361.9 91.3,362.9 92.0,364.2 C92.7,365.5 93.4,367.5 94.1,368.9 C94.8,370.3 95.7,372.6 96.3,372.5 C96.9,372.4 97.1,370.1 97.7,368.2 C98.3,366.3 99.1,363.0 99.8,361.0 C100.6,359.1 101.3,357.7 102.0,356.8 C102.7,355.8 103.8,355.6 104.1,355.3" fill="none" stroke="#000" class="cvm" stroke-width="0.9"/></mask>
<path d="M14.0,369.6 C14.5,369.8 15.9,370.3 16.9,370.8 C17.8,371.2 18.9,372.0 19.7,372.5 C20.6,373.0 21.0,373.5 21.9,373.6 C22.7,373.8 23.8,373.4 24.7,373.2 C25.7,373.0 26.6,372.7 27.6,372.5 C28.6,372.2 29.4,372.1 30.5,371.8 C31.5,371.5 33.3,371.4 34.0,370.8 C34.8,370.2 34.3,369.2 35.0,368.1 C35.7,366.9 37.1,365.3 38.1,363.9 C39.1,362.5 40.2,361.2 41.2,359.8 C42.2,358.4 43.4,356.6 44.3,355.7 C45.2,354.7 45.7,354.3 46.4,354.1 C47.1,353.9 47.8,354.4 48.4,354.6 C49.0,354.9 49.5,356.3 50.0,355.7 C50.5,355.0 50.9,352.0 51.5,350.5 C52.1,349.0 52.9,347.4 53.6,346.9 C54.3,346.4 55.1,347.1 55.7,347.4 C56.3,347.7 56.7,348.4 57.2,348.9 C57.7,349.5 58.2,351.3 58.8,350.5 C59.3,349.7 59.8,346.2 60.3,344.3 C60.8,342.4 61.3,340.3 61.9,339.1 C62.4,338.0 62.9,337.5 63.4,337.3 C63.9,337.0 64.4,337.6 65.0,337.6 C65.5,337.6 66.0,337.4 66.5,337.3 C67.0,337.2 67.5,336.6 68.1,336.9 C68.6,337.1 69.1,337.7 69.6,338.6 C70.1,339.5 70.6,340.8 71.2,342.2 C71.7,343.7 72.2,345.2 72.7,347.4 C73.2,349.6 73.8,353.9 74.3,355.7 C74.7,357.4 74.8,357.4 75.3,357.9 C75.8,358.5 76.7,358.5 77.4,358.8 C78.0,359.1 78.7,359.9 79.4,359.8 C80.1,359.7 80.8,358.8 81.5,358.2 C82.2,357.7 83.0,357.0 83.6,356.7 C84.1,356.3 84.7,356.0 85.0,356.2 C85.3,356.4 85.1,357.3 85.5,357.9 C86.0,358.5 87.0,359.1 87.7,359.6 C88.4,360.1 89.1,360.0 89.8,360.8 C90.5,361.5 91.3,362.6 92.0,363.9 C92.7,365.2 93.4,366.9 94.1,368.5 C94.8,370.0 95.7,372.9 96.3,373.2 C96.9,373.5 97.1,371.9 97.7,370.3 C98.3,368.8 99.1,365.7 99.8,363.9 C100.6,362.1 101.3,360.5 102.0,359.3 C102.7,358.2 103.8,357.4 104.1,357.0" fill="none" stroke="#3232ff" class="cv" mask="url(#m25)"/>
<path d="M14.0,369.3 C14.5,369.5 15.9,369.9 16.9,370.3 C17.8,370.8 18.9,371.7 19.7,372.2 C20.6,372.7 21.0,373.2 21.9,373.3 C22.7,373.5 23.8,373.3 24.7,373.1 C25.7,372.9 26.6,372.5 27.6,372.2 C28.6,371.9 29.4,371.7 30.5,371.3 C31.5,371.0 33.3,370.6 34.0,370.3 C34.8,370.1 34.3,370.2 35.0,369.6 C35.7,369.0 37.1,367.5 38.1,366.5 C39.1,365.5 40.2,364.4 41.2,363.4 C42.2,362.5 43.3,361.6 44.3,360.8 C45.3,360.0 46.5,359.2 47.4,358.6 C48.3,357.9 48.9,357.6 49.5,356.7 C50.1,355.8 50.4,354.4 51.0,353.1 C51.6,351.8 52.4,349.8 53.1,348.9 C53.8,348.1 54.5,348.1 55.1,348.2 C55.8,348.3 56.6,349.1 57.2,349.5 C57.8,349.8 58.2,351.3 58.8,350.5 C59.3,349.7 59.8,346.6 60.3,344.8 C60.9,343.0 61.5,340.8 62.1,339.6 C62.6,338.5 62.9,338.3 63.4,338.1 C63.9,337.9 64.5,338.3 65.0,338.6 C65.4,339.0 65.6,340.0 66.0,340.2 C66.4,340.3 67.0,339.6 67.5,339.6 C68.1,339.6 68.6,339.7 69.1,340.2 C69.6,340.6 70.1,341.4 70.6,342.2 C71.2,343.1 71.7,344.0 72.2,345.3 C72.7,346.7 73.2,348.9 73.7,350.5 C74.3,352.0 74.7,353.9 75.3,354.6 C75.9,355.4 76.7,355.0 77.4,355.1 C78.0,355.3 78.7,355.7 79.4,355.7 C80.1,355.6 80.8,354.9 81.5,354.6 C82.2,354.4 83.0,354.1 83.6,354.1 C84.1,354.1 84.7,354.2 85.0,354.6 C85.3,355.0 85.1,355.7 85.5,356.5 C86.0,357.2 87.0,358.6 87.7,359.3 C88.4,360.1 89.1,360.2 89.8,361.0 C90.5,361.9 91.3,362.9 92.0,364.2 C92.7,365.5 93.4,367.5 94.1,368.9 C94.8,370.3 95.7,372.6 96.3,372.5 C96.9,372.4 97.1,370.1 97.7,368.2 C98.3,366.3 99.1,363.0 99.8,361.0 C100.6,359.1 101.3,357.7 102.0,356.8 C102.7,355.8 103.8,355.6 104.1,355.3" fill="none" stroke="#ff3232" class="cv"/>
<line x1="126.75" y1="374.35" x2="221.50" y2="374.35" class="g"/>
<line x1="126.75" y1="367.02" x2="221.50" y2="367.02" class="g"/>
<line x1="126.75" y1="359.70" x2="221.50" y2="359.70" class="g"/>
<line x1="126.75" y1="352.37" x2="221.50" y2="352.37" class="g"/>
<line x1="126.75" y1="345.05" x2="221.50" y2="345.05" class="g"/>
<line x1="126.75" y1="337.72" x2="221.50" y2="337.72" class="g"/>
<line x1="135.87" y1="334.60" x2="135.87" y2="375.80" class="g"/>
<line x1="156.58" y1="334.60" x2="156.58" y2="375.80" class="g"/>
<line x1="177.29" y1="334.60" x2="177.29" y2="375.80" class="g"/>
<line x1="198.00" y1="334.60" x2="198.00" y2="375.80" class="g"/>
<line x1="218.71" y1="334.60" x2="218.71" y2="375.80" class="g"/>
<path d="M126.15,334.60 L126.15,376.40 L221.50,376.40" class="ax"/>
<line x1="124.55" y1="374.35" x2="126.15" y2="374.35" class="tk"/>
<text x="124.25" y="375.75" class="tl" text-anchor="end">0</text>
<line x1="124.55" y1="367.02" x2="126.15" y2="367.02" class="tk"/>
<text x="124.25" y="368.42" class="tl" text-anchor="end">.1</text>
<line x1="124.55" y1="359.70" x2="126.15" y2="359.70" class="tk"/>
<text x="124.25" y="361.10" class="tl" text-anchor="end">.2</text>
<line x1="124.55" y1="352.37" x2="126.15" y2="352.37" class="tk"/>
<text x="124.25" y="353.77" class="tl" text-anchor="end">.3</text>
<line x1="124.55" y1="345.05" x2="126.15" y2="345.05" class="tk"/>
<text x="124.25" y="346.45" class="tl" text-anchor="end">.4</text>
<line x1="124.55" y1="337.72" x2="126.15" y2="337.72" class="tk"/>
<text x="124.25" y="339.12" class="tl" text-anchor="end">.5</text>
<line x1="135.87" y1="376.40" x2="135.87" y2="378.00" class="tk"/>
<text x="135.87" y="381.50" class="tl" text-anchor="middle">-2</text>
<line x1="156.58" y1="376.40" x2="156.58" y2="378.00" class="tk"/>
<text x="156.58" y="381.50" class="tl" text-anchor="middle">-1</text>
<line x1="177.29" y1="376.40" x2="177.29" y2="378.00" class="tk"/>
<text x="177.29" y="381.50" class="tl" text-anchor="middle">0</text>
<line x1="198.00" y1="376.40" x2="198.00" y2="378.00" class="tk"/>
<text x="198.00" y="381.50" class="tl" text-anchor="middle">1</text>
<line x1="218.71" y1="376.40" x2="218.71" y2="378.00" class="tk"/>
<text x="218.71" y="381.50" class="tl" text-anchor="middle">2</text>
<text x="174.12" y="386.90" class="xl" text-anchor="middle">x</text>
<text transform="translate(117.60,355.85) rotate(-90)" x="0" y="0" class="yl" text-anchor="middle">Intensity</text>
<text x="173.82" y="333.10" class="st" text-anchor="middle">After ATT Weighting</text>
<mask id="m26" maskUnits="userSpaceOnUse" x="0" y="0" width="685" height="387"><rect x="0" y="0" width="685" height="387" fill="#fff"/><path d="M129.0,370.3 C129.5,370.5 130.9,370.7 131.9,371.1 C132.8,371.4 133.8,371.8 134.7,372.2 C135.7,372.6 136.6,373.0 137.6,373.2 C138.5,373.4 139.5,373.3 140.5,373.2 C141.4,373.1 142.2,372.8 143.3,372.5 C144.4,372.2 145.8,372.0 146.9,371.5 C148.0,371.0 148.8,370.4 149.8,369.6 C150.7,368.9 151.7,367.9 152.6,367.1 C153.6,366.2 154.5,365.5 155.5,364.6 C156.4,363.7 157.5,362.7 158.3,361.8 C159.2,360.8 159.8,359.6 160.5,358.9 C161.2,358.2 161.9,358.3 162.6,357.5 C163.3,356.6 164.1,355.1 164.8,353.9 C165.5,352.7 166.2,351.3 166.9,350.3 C167.6,349.4 168.3,348.3 169.1,348.2 C169.8,348.0 170.6,349.2 171.2,349.6 C171.8,350.0 172.2,350.9 172.6,350.3 C173.1,349.8 173.3,347.8 173.8,346.4 C174.2,344.9 174.8,343.0 175.3,341.7 C175.8,340.5 176.4,339.5 176.9,338.9 C177.3,338.3 177.7,338.1 178.1,338.1 C178.5,338.1 179.0,338.7 179.4,339.1 C179.9,339.6 180.4,340.4 181.0,340.7 C181.6,341.0 182.4,340.8 183.1,341.0 C183.7,341.2 184.5,341.6 185.1,342.0 C185.7,342.5 186.2,343.0 186.7,343.8 C187.1,344.6 187.4,345.7 187.7,346.9 C188.1,348.1 188.4,349.7 188.7,351.0 C189.1,352.3 189.3,353.9 189.8,354.6 C190.2,355.3 190.8,355.1 191.3,355.1 C191.8,355.2 192.4,355.3 192.9,355.1 C193.4,355.0 193.8,354.4 194.4,354.1 C195.0,353.8 195.8,353.4 196.5,353.4 C197.2,353.4 198.0,353.7 198.6,354.1 C199.1,354.5 199.6,355.0 200.0,355.7 C200.4,356.3 200.7,357.2 201.3,357.9 C201.8,358.6 202.7,359.1 203.4,359.6 C204.1,360.1 204.8,360.3 205.5,361.0 C206.3,361.8 207.0,363.0 207.7,364.2 C208.4,365.4 209.4,367.6 209.8,368.5 C210.3,369.3 210.2,369.6 210.6,369.3 C210.9,369.1 211.4,368.0 212.0,366.8 C212.6,365.6 213.4,363.5 214.1,362.2 C214.8,360.9 215.5,359.9 216.3,358.9 C217.0,357.9 218.3,356.9 218.7,356.5" fill="none" stroke="#000" class="cvm" stroke-width="0.9"/></mask>
<path d="M129.0,371.3 C129.5,371.5 130.9,372.0 131.9,372.2 C132.8,372.4 133.8,372.5 134.7,372.8 C135.7,373.0 136.6,373.6 137.6,373.6 C138.5,373.7 139.5,373.4 140.5,373.2 C141.4,373.0 142.2,372.8 143.3,372.5 C144.4,372.2 145.8,371.9 146.9,371.3 C148.0,370.8 148.8,370.1 149.8,369.3 C150.7,368.6 151.7,367.7 152.6,366.8 C153.6,365.9 154.5,365.0 155.5,363.9 C156.4,362.8 157.5,361.4 158.3,360.3 C159.2,359.3 159.8,358.1 160.5,357.5 C161.2,356.8 161.9,357.3 162.6,356.5 C163.3,355.6 164.1,353.7 164.8,352.5 C165.5,351.2 166.2,349.7 166.9,348.9 C167.6,348.0 168.3,347.4 169.1,347.5 C169.8,347.5 170.6,348.9 171.2,349.3 C171.8,349.7 172.2,350.5 172.6,349.9 C173.1,349.2 173.3,346.9 173.8,345.3 C174.2,343.8 174.8,342.0 175.3,340.7 C175.8,339.4 176.4,338.3 176.9,337.6 C177.3,336.9 177.7,336.5 178.1,336.5 C178.5,336.5 179.0,337.2 179.4,337.6 C179.9,338.0 180.4,338.8 181.0,339.1 C181.6,339.4 182.4,339.0 183.1,339.3 C183.7,339.7 184.5,340.5 185.1,341.2 C185.7,341.9 186.2,342.4 186.7,343.3 C187.1,344.1 187.4,345.0 187.7,346.4 C188.1,347.7 188.4,349.9 188.7,351.5 C189.1,353.2 189.3,355.2 189.8,356.2 C190.2,357.2 190.8,357.2 191.3,357.5 C191.8,357.9 192.4,358.5 192.9,358.2 C193.4,358.0 193.8,357.0 194.4,356.2 C195.0,355.4 195.8,353.9 196.5,353.6 C197.2,353.3 198.0,353.9 198.6,354.1 C199.1,354.4 199.6,354.8 200.0,355.1 C200.4,355.5 200.7,355.9 201.3,356.5 C201.8,357.0 202.7,357.8 203.4,358.5 C204.1,359.1 204.8,359.5 205.5,360.3 C206.3,361.1 207.0,362.1 207.7,363.2 C208.4,364.3 209.4,365.7 209.8,367.1 C210.3,368.4 210.2,370.9 210.6,371.1 C210.9,371.2 211.4,369.5 212.0,368.2 C212.6,366.9 213.4,364.6 214.1,363.2 C214.8,361.8 215.5,360.7 216.3,359.6 C217.0,358.5 218.3,357.0 218.7,356.5" fill="none" stroke="#3232ff" class="cv" mask="url(#m26)"/>
<path d="M129.0,370.3 C129.5,370.5 130.9,370.7 131.9,371.1 C132.8,371.4 133.8,371.8 134.7,372.2 C135.7,372.6 136.6,373.0 137.6,373.2 C138.5,373.4 139.5,373.3 140.5,373.2 C141.4,373.1 142.2,372.8 143.3,372.5 C144.4,372.2 145.8,372.0 146.9,371.5 C148.0,371.0 148.8,370.4 149.8,369.6 C150.7,368.9 151.7,367.9 152.6,367.1 C153.6,366.2 154.5,365.5 155.5,364.6 C156.4,363.7 157.5,362.7 158.3,361.8 C159.2,360.8 159.8,359.6 160.5,358.9 C161.2,358.2 161.9,358.3 162.6,357.5 C163.3,356.6 164.1,355.1 164.8,353.9 C165.5,352.7 166.2,351.3 166.9,350.3 C167.6,349.4 168.3,348.3 169.1,348.2 C169.8,348.0 170.6,349.2 171.2,349.6 C171.8,350.0 172.2,350.9 172.6,350.3 C173.1,349.8 173.3,347.8 173.8,346.4 C174.2,344.9 174.8,343.0 175.3,341.7 C175.8,340.5 176.4,339.5 176.9,338.9 C177.3,338.3 177.7,338.1 178.1,338.1 C178.5,338.1 179.0,338.7 179.4,339.1 C179.9,339.6 180.4,340.4 181.0,340.7 C181.6,341.0 182.4,340.8 183.1,341.0 C183.7,341.2 184.5,341.6 185.1,342.0 C185.7,342.5 186.2,343.0 186.7,343.8 C187.1,344.6 187.4,345.7 187.7,346.9 C188.1,348.1 188.4,349.7 188.7,351.0 C189.1,352.3 189.3,353.9 189.8,354.6 C190.2,355.3 190.8,355.1 191.3,355.1 C191.8,355.2 192.4,355.3 192.9,355.1 C193.4,355.0 193.8,354.4 194.4,354.1 C195.0,353.8 195.8,353.4 196.5,353.4 C197.2,353.4 198.0,353.7 198.6,354.1 C199.1,354.5 199.6,355.0 200.0,355.7 C200.4,356.3 200.7,357.2 201.3,357.9 C201.8,358.6 202.7,359.1 203.4,359.6 C204.1,360.1 204.8,360.3 205.5,361.0 C206.3,361.8 207.0,363.0 207.7,364.2 C208.4,365.4 209.4,367.6 209.8,368.5 C210.3,369.3 210.2,369.6 210.6,369.3 C210.9,369.1 211.4,368.0 212.0,366.8 C212.6,365.6 213.4,363.5 214.1,362.2 C214.8,360.9 215.5,359.9 216.3,358.9 C217.0,357.9 218.3,356.9 218.7,356.5" fill="none" stroke="#ff3232" class="cv"/>
<line x1="241.32" y1="374.35" x2="335.70" y2="374.35" class="g"/>
<line x1="241.32" y1="367.11" x2="335.70" y2="367.11" class="g"/>
<line x1="241.32" y1="359.87" x2="335.70" y2="359.87" class="g"/>
<line x1="241.32" y1="352.63" x2="335.70" y2="352.63" class="g"/>
<line x1="241.32" y1="345.39" x2="335.70" y2="345.39" class="g"/>
<line x1="241.32" y1="338.15" x2="335.70" y2="338.15" class="g"/>
<line x1="250.73" y1="334.60" x2="250.73" y2="375.80" class="g"/>
<line x1="271.40" y1="334.60" x2="271.40" y2="375.80" class="g"/>
<line x1="292.08" y1="334.60" x2="292.08" y2="375.80" class="g"/>
<line x1="312.75" y1="334.60" x2="312.75" y2="375.80" class="g"/>
<line x1="333.42" y1="334.60" x2="333.42" y2="375.80" class="g"/>
<path d="M240.72,334.60 L240.72,376.40 L335.70,376.40" class="ax"/>
<line x1="239.12" y1="374.35" x2="240.72" y2="374.35" class="tk"/>
<text x="238.82" y="375.75" class="tl" text-anchor="end">0</text>
<line x1="239.12" y1="367.11" x2="240.72" y2="367.11" class="tk"/>
<text x="238.82" y="368.51" class="tl" text-anchor="end">.1</text>
<line x1="239.12" y1="359.87" x2="240.72" y2="359.87" class="tk"/>
<text x="238.82" y="361.27" class="tl" text-anchor="end">.2</text>
<line x1="239.12" y1="352.63" x2="240.72" y2="352.63" class="tk"/>
<text x="238.82" y="354.03" class="tl" text-anchor="end">.3</text>
<line x1="239.12" y1="345.39" x2="240.72" y2="345.39" class="tk"/>
<text x="238.82" y="346.79" class="tl" text-anchor="end">.4</text>
<line x1="239.12" y1="338.15" x2="240.72" y2="338.15" class="tk"/>
<text x="238.82" y="339.55" class="tl" text-anchor="end">.5</text>
<line x1="250.73" y1="376.40" x2="250.73" y2="378.00" class="tk"/>
<text x="250.73" y="381.50" class="tl" text-anchor="middle">-2</text>
<line x1="271.40" y1="376.40" x2="271.40" y2="378.00" class="tk"/>
<text x="271.40" y="381.50" class="tl" text-anchor="middle">-1</text>
<line x1="292.08" y1="376.40" x2="292.08" y2="378.00" class="tk"/>
<text x="292.08" y="381.50" class="tl" text-anchor="middle">0</text>
<line x1="312.75" y1="376.40" x2="312.75" y2="378.00" class="tk"/>
<text x="312.75" y="381.50" class="tl" text-anchor="middle">1</text>
<line x1="333.42" y1="376.40" x2="333.42" y2="378.00" class="tk"/>
<text x="333.42" y="381.50" class="tl" text-anchor="middle">2</text>
<text x="288.51" y="386.90" class="xl" text-anchor="middle">x</text>
<text transform="translate(232.50,355.85) rotate(-90)" x="0" y="0" class="yl" text-anchor="middle">Intensity</text>
<text x="288.21" y="333.10" class="st" text-anchor="middle">After ATC Weighting</text>
<mask id="m27" maskUnits="userSpaceOnUse" x="0" y="0" width="685" height="387"><rect x="0" y="0" width="685" height="387" fill="#fff"/><path d="M243.3,368.9 C243.8,369.0 245.3,369.2 246.2,369.6 C247.0,370.1 247.6,370.9 248.3,371.5 C249.0,372.1 249.6,372.9 250.4,373.2 C251.3,373.5 252.4,373.3 253.3,373.2 C254.3,373.1 255.2,372.8 256.2,372.5 C257.1,372.2 258.0,371.8 259.0,371.3 C260.1,370.9 261.7,370.4 262.6,369.9 C263.6,369.4 263.9,369.0 264.8,368.2 C265.6,367.4 266.7,366.3 267.6,365.3 C268.6,364.3 269.5,363.3 270.5,362.2 C271.4,361.0 272.5,359.6 273.3,358.5 C274.2,357.3 274.8,355.9 275.5,355.3 C276.2,354.7 277.0,355.0 277.6,355.0 C278.2,355.0 278.6,355.9 279.1,355.3 C279.5,354.8 279.9,353.1 280.5,351.7 C281.1,350.4 281.9,347.8 282.6,347.0 C283.3,346.2 284.1,346.6 284.8,347.0 C285.5,347.4 286.3,348.8 286.9,349.3 C287.5,349.9 287.9,351.0 288.4,350.3 C288.8,349.6 289.3,347.0 289.8,345.3 C290.3,343.6 290.7,341.1 291.2,339.9 C291.7,338.7 292.1,338.2 292.6,338.2 C293.2,338.2 294.1,339.6 294.8,339.9 C295.5,340.2 296.3,339.8 296.9,339.9 C297.5,339.9 297.9,339.9 298.4,340.3 C298.8,340.7 299.2,341.4 299.8,342.4 C300.4,343.5 301.4,344.9 301.9,346.5 C302.5,348.0 302.9,350.1 303.4,351.7 C303.9,353.3 304.2,355.3 304.8,356.0 C305.4,356.8 306.2,355.9 307.0,356.0 C307.7,356.2 308.4,357.1 309.1,357.0 C309.8,357.0 310.5,355.8 311.2,355.6 C312.0,355.4 312.7,355.3 313.4,355.6 C314.1,355.9 314.8,356.8 315.5,357.5 C316.3,358.1 317.0,359.0 317.7,359.6 C318.4,360.2 319.1,360.2 319.8,361.0 C320.5,361.9 321.3,363.3 322.0,364.6 C322.7,365.9 323.5,367.5 324.1,368.9 C324.7,370.3 325.1,373.1 325.6,373.2 C326.0,373.3 326.4,371.2 327.0,369.6 C327.6,368.1 328.4,365.5 329.1,363.9 C329.8,362.4 330.6,361.3 331.3,360.3 C332.0,359.3 333.1,358.3 333.4,357.9" fill="none" stroke="#000" class="cvm" stroke-width="0.9"/></mask>
<path d="M243.3,369.6 C243.8,369.7 245.3,370.0 246.2,370.3 C247.0,370.7 247.6,371.3 248.3,371.8 C249.0,372.3 249.6,373.1 250.4,373.3 C251.3,373.6 252.4,373.3 253.3,373.2 C254.3,373.1 255.2,372.8 256.2,372.5 C257.1,372.2 258.0,371.7 259.0,371.3 C260.1,371.0 261.7,370.8 262.6,370.3 C263.6,369.9 263.9,369.3 264.8,368.5 C265.6,367.6 266.7,366.5 267.6,365.3 C268.6,364.2 269.5,363.0 270.5,361.8 C271.4,360.6 272.5,359.4 273.3,358.2 C274.2,357.0 274.8,355.3 275.5,354.6 C276.2,353.9 277.0,354.2 277.6,354.2 C278.2,354.2 278.6,355.1 279.1,354.6 C279.5,354.1 279.9,352.3 280.5,351.0 C281.1,349.7 281.9,347.5 282.6,346.7 C283.3,346.0 284.1,346.1 284.8,346.5 C285.5,346.8 286.3,348.3 286.9,348.9 C287.5,349.5 287.9,350.5 288.4,349.9 C288.8,349.3 289.3,347.0 289.8,345.3 C290.3,343.6 290.7,340.9 291.2,339.6 C291.7,338.3 292.1,337.6 292.6,337.4 C293.2,337.2 294.1,338.4 294.8,338.4 C295.5,338.4 296.3,337.5 296.9,337.4 C297.5,337.4 297.9,337.5 298.4,338.2 C298.8,338.8 299.2,340.0 299.8,341.3 C300.4,342.6 301.4,344.3 301.9,346.0 C302.5,347.8 302.9,349.8 303.4,351.7 C303.9,353.7 304.2,356.8 304.8,357.9 C305.4,359.0 306.2,357.8 307.0,358.2 C307.7,358.5 308.4,360.0 309.1,359.9 C309.8,359.8 310.5,358.0 311.2,357.5 C312.0,356.9 312.7,356.3 313.4,356.5 C314.1,356.6 314.8,357.5 315.5,358.2 C316.3,358.8 317.0,359.8 317.7,360.3 C318.4,360.9 319.1,360.6 319.8,361.3 C320.5,362.0 321.3,363.3 322.0,364.6 C322.7,366.0 323.5,367.8 324.1,369.3 C324.7,370.8 325.1,373.5 325.6,373.6 C326.0,373.8 326.4,371.8 327.0,370.3 C327.6,368.8 328.4,366.3 329.1,364.6 C329.8,363.0 330.6,361.4 331.3,360.3 C332.0,359.2 333.1,358.3 333.4,357.9" fill="none" stroke="#3232ff" class="cv" mask="url(#m27)"/>
<path d="M243.3,368.9 C243.8,369.0 245.3,369.2 246.2,369.6 C247.0,370.1 247.6,370.9 248.3,371.5 C249.0,372.1 249.6,372.9 250.4,373.2 C251.3,373.5 252.4,373.3 253.3,373.2 C254.3,373.1 255.2,372.8 256.2,372.5 C257.1,372.2 258.0,371.8 259.0,371.3 C260.1,370.9 261.7,370.4 262.6,369.9 C263.6,369.4 263.9,369.0 264.8,368.2 C265.6,367.4 266.7,366.3 267.6,365.3 C268.6,364.3 269.5,363.3 270.5,362.2 C271.4,361.0 272.5,359.6 273.3,358.5 C274.2,357.3 274.8,355.9 275.5,355.3 C276.2,354.7 277.0,355.0 277.6,355.0 C278.2,355.0 278.6,355.9 279.1,355.3 C279.5,354.8 279.9,353.1 280.5,351.7 C281.1,350.4 281.9,347.8 282.6,347.0 C283.3,346.2 284.1,346.6 284.8,347.0 C285.5,347.4 286.3,348.8 286.9,349.3 C287.5,349.9 287.9,351.0 288.4,350.3 C288.8,349.6 289.3,347.0 289.8,345.3 C290.3,343.6 290.7,341.1 291.2,339.9 C291.7,338.7 292.1,338.2 292.6,338.2 C293.2,338.2 294.1,339.6 294.8,339.9 C295.5,340.2 296.3,339.8 296.9,339.9 C297.5,339.9 297.9,339.9 298.4,340.3 C298.8,340.7 299.2,341.4 299.8,342.4 C300.4,343.5 301.4,344.9 301.9,346.5 C302.5,348.0 302.9,350.1 303.4,351.7 C303.9,353.3 304.2,355.3 304.8,356.0 C305.4,356.8 306.2,355.9 307.0,356.0 C307.7,356.2 308.4,357.1 309.1,357.0 C309.8,357.0 310.5,355.8 311.2,355.6 C312.0,355.4 312.7,355.3 313.4,355.6 C314.1,355.9 314.8,356.8 315.5,357.5 C316.3,358.1 317.0,359.0 317.7,359.6 C318.4,360.2 319.1,360.2 319.8,361.0 C320.5,361.9 321.3,363.3 322.0,364.6 C322.7,365.9 323.5,367.5 324.1,368.9 C324.7,370.3 325.1,373.1 325.6,373.2 C326.0,373.3 326.4,371.2 327.0,369.6 C327.6,368.1 328.4,365.5 329.1,363.9 C329.8,362.4 330.6,361.3 331.3,360.3 C332.0,359.3 333.1,358.3 333.4,357.9" fill="none" stroke="#ff3232" class="cv"/>
<text x="167.9" y="5.20" class="gt" text-anchor="middle">Gender</text>
<text x="167.9" y="84.60" class="gt" text-anchor="middle">Socio-economic status</text>
<text x="167.9" y="163.90" class="gt" text-anchor="middle">Reading achievement</text>
<text x="167.9" y="243.00" class="gt" text-anchor="middle">Enjoyment of reading</text>
<text x="167.9" y="322.60" class="gt" text-anchor="middle">Competitiveness</text>
<text x="516.2" y="5.20" class="gt" text-anchor="middle">Wellbeing</text>
<text x="516.2" y="84.60" class="gt" text-anchor="middle">Parental encouragement</text>
<text x="516.2" y="163.90" class="gt" text-anchor="middle">Peer relationship</text>
<text x="516.2" y="243.00" class="gt" text-anchor="middle">Student-teacher relationship</text>
<line x1="521.8" y1="349.5" x2="539.8" y2="349.5" stroke="#2a2aff" stroke-width="1.05"/>
<line x1="521.8" y1="358.5" x2="539.8" y2="358.5" stroke="#ff2a2a" stroke-width="1.05"/>
<text x="545.3" y="351.9" class="lg">Control</text>
<text x="545.3" y="360.7" class="lg">Treated</text>
</svg></body></html>
